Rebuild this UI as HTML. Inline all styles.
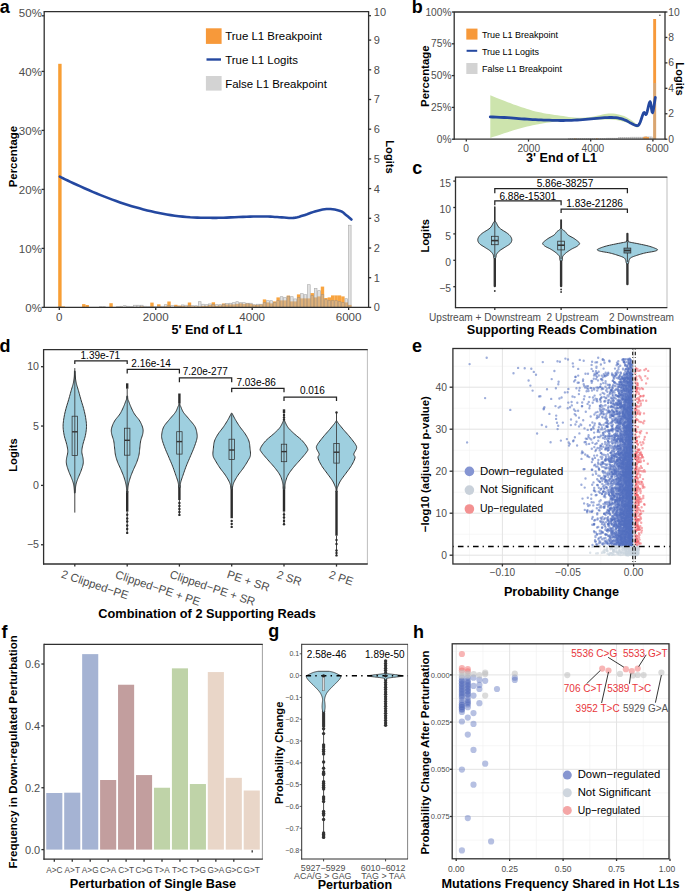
<!DOCTYPE html>
<html><head><meta charset="utf-8"><style>
html,body{margin:0;padding:0;background:#fff;}
svg{display:block;font-family:"Liberation Sans", sans-serif;}
</style></head><body>
<svg width="685" height="891" viewBox="0 0 685 891">
<rect width="685" height="891" fill="#fff"/>
<rect x="58.2" y="63.8" width="3.41" height="243.6" fill="#f7941e" fill-opacity="0.9"/>
<rect x="61.61" y="306.4" width="3.41" height="1" fill="#f7941e" fill-opacity="0.85"/>
<rect x="82.07" y="304.1" width="3.41" height="3.3" fill="#f7941e" fill-opacity="0.85"/>
<rect x="85.48" y="305" width="3.41" height="2.4" fill="#f7941e" fill-opacity="0.85"/>
<rect x="109.35" y="303.2" width="3.41" height="4.2" fill="#f7941e" fill-opacity="0.85"/>
<rect x="119.58" y="306.9" width="3.41" height="0.5" fill="#f7941e" fill-opacity="0.85"/>
<rect x="140.04" y="306.4" width="3.41" height="1" fill="#f7941e" fill-opacity="0.85"/>
<rect x="150.27" y="302.6" width="3.41" height="4.8" fill="#f7941e" fill-opacity="0.85"/>
<rect x="157.09" y="304.3" width="3.41" height="3.1" fill="#f7941e" fill-opacity="0.85"/>
<rect x="163.91" y="306.4" width="3.41" height="1" fill="#f7941e" fill-opacity="0.85"/>
<rect x="167.32" y="301.5" width="3.41" height="5.9" fill="#f7941e" fill-opacity="0.85"/>
<rect x="174.14" y="304.8" width="3.41" height="2.6" fill="#f7941e" fill-opacity="0.85"/>
<rect x="177.55" y="305.6" width="3.41" height="1.8" fill="#f7941e" fill-opacity="0.85"/>
<rect x="180.96" y="305.9" width="3.41" height="1.5" fill="#f7941e" fill-opacity="0.85"/>
<rect x="184.37" y="306.4" width="3.41" height="1" fill="#f7941e" fill-opacity="0.85"/>
<rect x="187.78" y="302.5" width="3.41" height="4.9" fill="#f7941e" fill-opacity="0.85"/>
<rect x="191.19" y="306.4" width="3.41" height="1" fill="#f7941e" fill-opacity="0.85"/>
<rect x="194.6" y="306.4" width="3.41" height="1" fill="#f7941e" fill-opacity="0.85"/>
<rect x="198.01" y="306.4" width="3.41" height="1" fill="#f7941e" fill-opacity="0.85"/>
<rect x="201.42" y="305.9" width="3.41" height="1.5" fill="#f7941e" fill-opacity="0.85"/>
<rect x="204.83" y="305.9" width="3.41" height="1.5" fill="#f7941e" fill-opacity="0.85"/>
<rect x="208.24" y="304.9" width="3.41" height="2.5" fill="#f7941e" fill-opacity="0.85"/>
<rect x="211.65" y="302.3" width="3.41" height="5.1" fill="#f7941e" fill-opacity="0.85"/>
<rect x="215.06" y="305.9" width="3.41" height="1.5" fill="#f7941e" fill-opacity="0.85"/>
<rect x="218.47" y="305.4" width="3.41" height="2" fill="#f7941e" fill-opacity="0.85"/>
<rect x="221.88" y="303.5" width="3.41" height="3.9" fill="#f7941e" fill-opacity="0.85"/>
<rect x="225.29" y="304.4" width="3.41" height="3" fill="#f7941e" fill-opacity="0.85"/>
<rect x="228.7" y="304.4" width="3.41" height="3" fill="#f7941e" fill-opacity="0.85"/>
<rect x="232.11" y="304.4" width="3.41" height="3" fill="#f7941e" fill-opacity="0.85"/>
<rect x="235.52" y="303.9" width="3.41" height="3.5" fill="#f7941e" fill-opacity="0.85"/>
<rect x="238.93" y="303.4" width="3.41" height="4" fill="#f7941e" fill-opacity="0.85"/>
<rect x="242.34" y="303.9" width="3.41" height="3.5" fill="#f7941e" fill-opacity="0.85"/>
<rect x="245.75" y="303.4" width="3.41" height="4" fill="#f7941e" fill-opacity="0.85"/>
<rect x="249.16" y="303.9" width="3.41" height="3.5" fill="#f7941e" fill-opacity="0.85"/>
<rect x="252.57" y="304.9" width="3.41" height="2.5" fill="#f7941e" fill-opacity="0.85"/>
<rect x="255.98" y="304.9" width="3.41" height="2.5" fill="#f7941e" fill-opacity="0.85"/>
<rect x="259.39" y="304.4" width="3.41" height="3" fill="#f7941e" fill-opacity="0.85"/>
<rect x="262.8" y="299.4" width="3.41" height="8" fill="#f7941e" fill-opacity="0.85"/>
<rect x="266.21" y="302.4" width="3.41" height="5" fill="#f7941e" fill-opacity="0.85"/>
<rect x="269.62" y="303.4" width="3.41" height="4" fill="#f7941e" fill-opacity="0.85"/>
<rect x="273.03" y="301.4" width="3.41" height="6" fill="#f7941e" fill-opacity="0.85"/>
<rect x="276.44" y="297.4" width="3.41" height="10" fill="#f7941e" fill-opacity="0.85"/>
<rect x="279.85" y="300.4" width="3.41" height="7" fill="#f7941e" fill-opacity="0.85"/>
<rect x="283.26" y="300.4" width="3.41" height="7" fill="#f7941e" fill-opacity="0.85"/>
<rect x="286.67" y="295.6" width="3.41" height="11.8" fill="#f7941e" fill-opacity="0.85"/>
<rect x="290.08" y="301.4" width="3.41" height="6" fill="#f7941e" fill-opacity="0.85"/>
<rect x="293.49" y="301.4" width="3.41" height="6" fill="#f7941e" fill-opacity="0.85"/>
<rect x="296.9" y="294.4" width="3.41" height="13" fill="#f7941e" fill-opacity="0.85"/>
<rect x="300.31" y="298.4" width="3.41" height="9" fill="#f7941e" fill-opacity="0.85"/>
<rect x="303.72" y="298.4" width="3.41" height="9" fill="#f7941e" fill-opacity="0.85"/>
<rect x="307.13" y="298.4" width="3.41" height="9" fill="#f7941e" fill-opacity="0.85"/>
<rect x="310.54" y="293.1" width="3.41" height="14.3" fill="#f7941e" fill-opacity="0.85"/>
<rect x="313.95" y="297.4" width="3.41" height="10" fill="#f7941e" fill-opacity="0.85"/>
<rect x="317.36" y="296.4" width="3.41" height="11" fill="#f7941e" fill-opacity="0.85"/>
<rect x="320.77" y="286.6" width="3.41" height="20.8" fill="#f7941e" fill-opacity="0.85"/>
<rect x="324.18" y="298" width="3.41" height="9.4" fill="#f7941e" fill-opacity="0.85"/>
<rect x="327.59" y="297.4" width="3.41" height="10" fill="#f7941e" fill-opacity="0.85"/>
<rect x="331" y="295.4" width="3.41" height="12" fill="#f7941e" fill-opacity="0.85"/>
<rect x="334.41" y="295.4" width="3.41" height="12" fill="#f7941e" fill-opacity="0.85"/>
<rect x="337.82" y="295.4" width="3.41" height="12" fill="#f7941e" fill-opacity="0.85"/>
<rect x="341.23" y="296.4" width="3.41" height="11" fill="#f7941e" fill-opacity="0.85"/>
<rect x="344.64" y="302.4" width="3.41" height="5" fill="#f7941e" fill-opacity="0.85"/>
<rect x="348.05" y="304.9" width="3.41" height="2.5" fill="#f7941e" fill-opacity="0.85"/>
<rect x="58.55" y="306.7" width="2.71" height="0.7" fill="#bebebe" fill-opacity="0.45" stroke="#8c8c8c" stroke-opacity="0.7" stroke-width="0.6"/>
<rect x="99.47" y="306.7" width="2.71" height="0.7" fill="#bebebe" fill-opacity="0.45" stroke="#8c8c8c" stroke-opacity="0.7" stroke-width="0.6"/>
<rect x="102.88" y="306.7" width="2.71" height="0.7" fill="#bebebe" fill-opacity="0.45" stroke="#8c8c8c" stroke-opacity="0.7" stroke-width="0.6"/>
<rect x="116.52" y="306.7" width="2.71" height="0.7" fill="#bebebe" fill-opacity="0.45" stroke="#8c8c8c" stroke-opacity="0.7" stroke-width="0.6"/>
<rect x="119.93" y="306.2" width="2.71" height="1.2" fill="#bebebe" fill-opacity="0.45" stroke="#8c8c8c" stroke-opacity="0.7" stroke-width="0.6"/>
<rect x="123.34" y="305.7" width="2.71" height="1.7" fill="#bebebe" fill-opacity="0.45" stroke="#8c8c8c" stroke-opacity="0.7" stroke-width="0.6"/>
<rect x="126.75" y="306.2" width="2.71" height="1.2" fill="#bebebe" fill-opacity="0.45" stroke="#8c8c8c" stroke-opacity="0.7" stroke-width="0.6"/>
<rect x="130.16" y="306.7" width="2.71" height="0.7" fill="#bebebe" fill-opacity="0.45" stroke="#8c8c8c" stroke-opacity="0.7" stroke-width="0.6"/>
<rect x="133.57" y="305.2" width="2.71" height="2.2" fill="#bebebe" fill-opacity="0.45" stroke="#8c8c8c" stroke-opacity="0.7" stroke-width="0.6"/>
<rect x="136.98" y="305.2" width="2.71" height="2.2" fill="#bebebe" fill-opacity="0.45" stroke="#8c8c8c" stroke-opacity="0.7" stroke-width="0.6"/>
<rect x="140.39" y="305.2" width="2.71" height="2.2" fill="#bebebe" fill-opacity="0.45" stroke="#8c8c8c" stroke-opacity="0.7" stroke-width="0.6"/>
<rect x="143.8" y="306.2" width="2.71" height="1.2" fill="#bebebe" fill-opacity="0.45" stroke="#8c8c8c" stroke-opacity="0.7" stroke-width="0.6"/>
<rect x="147.21" y="306.7" width="2.71" height="0.7" fill="#bebebe" fill-opacity="0.45" stroke="#8c8c8c" stroke-opacity="0.7" stroke-width="0.6"/>
<rect x="150.62" y="306.7" width="2.71" height="0.7" fill="#bebebe" fill-opacity="0.45" stroke="#8c8c8c" stroke-opacity="0.7" stroke-width="0.6"/>
<rect x="154.03" y="306.7" width="2.71" height="0.7" fill="#bebebe" fill-opacity="0.45" stroke="#8c8c8c" stroke-opacity="0.7" stroke-width="0.6"/>
<rect x="157.44" y="306.2" width="2.71" height="1.2" fill="#bebebe" fill-opacity="0.45" stroke="#8c8c8c" stroke-opacity="0.7" stroke-width="0.6"/>
<rect x="160.85" y="306.2" width="2.71" height="1.2" fill="#bebebe" fill-opacity="0.45" stroke="#8c8c8c" stroke-opacity="0.7" stroke-width="0.6"/>
<rect x="164.26" y="304.7" width="2.71" height="2.7" fill="#bebebe" fill-opacity="0.45" stroke="#8c8c8c" stroke-opacity="0.7" stroke-width="0.6"/>
<rect x="167.67" y="305.7" width="2.71" height="1.7" fill="#bebebe" fill-opacity="0.45" stroke="#8c8c8c" stroke-opacity="0.7" stroke-width="0.6"/>
<rect x="171.08" y="305.7" width="2.71" height="1.7" fill="#bebebe" fill-opacity="0.45" stroke="#8c8c8c" stroke-opacity="0.7" stroke-width="0.6"/>
<rect x="174.49" y="306.2" width="2.71" height="1.2" fill="#bebebe" fill-opacity="0.45" stroke="#8c8c8c" stroke-opacity="0.7" stroke-width="0.6"/>
<rect x="177.9" y="306.2" width="2.71" height="1.2" fill="#bebebe" fill-opacity="0.45" stroke="#8c8c8c" stroke-opacity="0.7" stroke-width="0.6"/>
<rect x="181.31" y="304.9" width="2.71" height="2.5" fill="#bebebe" fill-opacity="0.45" stroke="#8c8c8c" stroke-opacity="0.7" stroke-width="0.6"/>
<rect x="184.72" y="305.2" width="2.71" height="2.2" fill="#bebebe" fill-opacity="0.45" stroke="#8c8c8c" stroke-opacity="0.7" stroke-width="0.6"/>
<rect x="188.13" y="305.7" width="2.71" height="1.7" fill="#bebebe" fill-opacity="0.45" stroke="#8c8c8c" stroke-opacity="0.7" stroke-width="0.6"/>
<rect x="191.54" y="305.7" width="2.71" height="1.7" fill="#bebebe" fill-opacity="0.45" stroke="#8c8c8c" stroke-opacity="0.7" stroke-width="0.6"/>
<rect x="194.95" y="305.7" width="2.71" height="1.7" fill="#bebebe" fill-opacity="0.45" stroke="#8c8c8c" stroke-opacity="0.7" stroke-width="0.6"/>
<rect x="198.36" y="301.7" width="2.71" height="5.7" fill="#bebebe" fill-opacity="0.45" stroke="#8c8c8c" stroke-opacity="0.7" stroke-width="0.6"/>
<rect x="201.77" y="304.2" width="2.71" height="3.2" fill="#bebebe" fill-opacity="0.45" stroke="#8c8c8c" stroke-opacity="0.7" stroke-width="0.6"/>
<rect x="205.18" y="304.7" width="2.71" height="2.7" fill="#bebebe" fill-opacity="0.45" stroke="#8c8c8c" stroke-opacity="0.7" stroke-width="0.6"/>
<rect x="208.59" y="303.9" width="2.71" height="3.5" fill="#bebebe" fill-opacity="0.45" stroke="#8c8c8c" stroke-opacity="0.7" stroke-width="0.6"/>
<rect x="212" y="304.7" width="2.71" height="2.7" fill="#bebebe" fill-opacity="0.45" stroke="#8c8c8c" stroke-opacity="0.7" stroke-width="0.6"/>
<rect x="215.41" y="304.7" width="2.71" height="2.7" fill="#bebebe" fill-opacity="0.45" stroke="#8c8c8c" stroke-opacity="0.7" stroke-width="0.6"/>
<rect x="218.82" y="304.7" width="2.71" height="2.7" fill="#bebebe" fill-opacity="0.45" stroke="#8c8c8c" stroke-opacity="0.7" stroke-width="0.6"/>
<rect x="222.23" y="304.2" width="2.71" height="3.2" fill="#bebebe" fill-opacity="0.45" stroke="#8c8c8c" stroke-opacity="0.7" stroke-width="0.6"/>
<rect x="225.64" y="303.5" width="2.71" height="3.9" fill="#bebebe" fill-opacity="0.45" stroke="#8c8c8c" stroke-opacity="0.7" stroke-width="0.6"/>
<rect x="229.05" y="303.2" width="2.71" height="4.2" fill="#bebebe" fill-opacity="0.45" stroke="#8c8c8c" stroke-opacity="0.7" stroke-width="0.6"/>
<rect x="232.46" y="302.7" width="2.71" height="4.7" fill="#bebebe" fill-opacity="0.45" stroke="#8c8c8c" stroke-opacity="0.7" stroke-width="0.6"/>
<rect x="235.87" y="301.7" width="2.71" height="5.7" fill="#bebebe" fill-opacity="0.45" stroke="#8c8c8c" stroke-opacity="0.7" stroke-width="0.6"/>
<rect x="239.28" y="302.7" width="2.71" height="4.7" fill="#bebebe" fill-opacity="0.45" stroke="#8c8c8c" stroke-opacity="0.7" stroke-width="0.6"/>
<rect x="242.69" y="302.7" width="2.71" height="4.7" fill="#bebebe" fill-opacity="0.45" stroke="#8c8c8c" stroke-opacity="0.7" stroke-width="0.6"/>
<rect x="246.1" y="303.2" width="2.71" height="4.2" fill="#bebebe" fill-opacity="0.45" stroke="#8c8c8c" stroke-opacity="0.7" stroke-width="0.6"/>
<rect x="249.51" y="303.2" width="2.71" height="4.2" fill="#bebebe" fill-opacity="0.45" stroke="#8c8c8c" stroke-opacity="0.7" stroke-width="0.6"/>
<rect x="252.92" y="304.7" width="2.71" height="2.7" fill="#bebebe" fill-opacity="0.45" stroke="#8c8c8c" stroke-opacity="0.7" stroke-width="0.6"/>
<rect x="256.33" y="304.2" width="2.71" height="3.2" fill="#bebebe" fill-opacity="0.45" stroke="#8c8c8c" stroke-opacity="0.7" stroke-width="0.6"/>
<rect x="259.74" y="304.2" width="2.71" height="3.2" fill="#bebebe" fill-opacity="0.45" stroke="#8c8c8c" stroke-opacity="0.7" stroke-width="0.6"/>
<rect x="263.15" y="302.7" width="2.71" height="4.7" fill="#bebebe" fill-opacity="0.45" stroke="#8c8c8c" stroke-opacity="0.7" stroke-width="0.6"/>
<rect x="266.56" y="300.7" width="2.71" height="6.7" fill="#bebebe" fill-opacity="0.45" stroke="#8c8c8c" stroke-opacity="0.7" stroke-width="0.6"/>
<rect x="269.97" y="300.7" width="2.71" height="6.7" fill="#bebebe" fill-opacity="0.45" stroke="#8c8c8c" stroke-opacity="0.7" stroke-width="0.6"/>
<rect x="273.38" y="302.7" width="2.71" height="4.7" fill="#bebebe" fill-opacity="0.45" stroke="#8c8c8c" stroke-opacity="0.7" stroke-width="0.6"/>
<rect x="276.79" y="300.7" width="2.71" height="6.7" fill="#bebebe" fill-opacity="0.45" stroke="#8c8c8c" stroke-opacity="0.7" stroke-width="0.6"/>
<rect x="280.2" y="296.7" width="2.71" height="10.7" fill="#bebebe" fill-opacity="0.45" stroke="#8c8c8c" stroke-opacity="0.7" stroke-width="0.6"/>
<rect x="283.61" y="297.7" width="2.71" height="9.7" fill="#bebebe" fill-opacity="0.45" stroke="#8c8c8c" stroke-opacity="0.7" stroke-width="0.6"/>
<rect x="287.02" y="296.2" width="2.71" height="11.2" fill="#bebebe" fill-opacity="0.45" stroke="#8c8c8c" stroke-opacity="0.7" stroke-width="0.6"/>
<rect x="290.43" y="296.7" width="2.71" height="10.7" fill="#bebebe" fill-opacity="0.45" stroke="#8c8c8c" stroke-opacity="0.7" stroke-width="0.6"/>
<rect x="293.84" y="298.9" width="2.71" height="8.5" fill="#bebebe" fill-opacity="0.45" stroke="#8c8c8c" stroke-opacity="0.7" stroke-width="0.6"/>
<rect x="297.25" y="297.7" width="2.71" height="9.7" fill="#bebebe" fill-opacity="0.45" stroke="#8c8c8c" stroke-opacity="0.7" stroke-width="0.6"/>
<rect x="300.66" y="293.7" width="2.71" height="13.7" fill="#bebebe" fill-opacity="0.45" stroke="#8c8c8c" stroke-opacity="0.7" stroke-width="0.6"/>
<rect x="304.07" y="294.7" width="2.71" height="12.7" fill="#bebebe" fill-opacity="0.45" stroke="#8c8c8c" stroke-opacity="0.7" stroke-width="0.6"/>
<rect x="307.48" y="284.7" width="2.71" height="22.7" fill="#bebebe" fill-opacity="0.45" stroke="#8c8c8c" stroke-opacity="0.7" stroke-width="0.6"/>
<rect x="310.89" y="295.7" width="2.71" height="11.7" fill="#bebebe" fill-opacity="0.45" stroke="#8c8c8c" stroke-opacity="0.7" stroke-width="0.6"/>
<rect x="314.3" y="288.4" width="2.71" height="19" fill="#bebebe" fill-opacity="0.45" stroke="#8c8c8c" stroke-opacity="0.7" stroke-width="0.6"/>
<rect x="317.71" y="290.7" width="2.71" height="16.7" fill="#bebebe" fill-opacity="0.45" stroke="#8c8c8c" stroke-opacity="0.7" stroke-width="0.6"/>
<rect x="321.12" y="294.7" width="2.71" height="12.7" fill="#bebebe" fill-opacity="0.45" stroke="#8c8c8c" stroke-opacity="0.7" stroke-width="0.6"/>
<rect x="324.53" y="299.7" width="2.71" height="7.7" fill="#bebebe" fill-opacity="0.45" stroke="#8c8c8c" stroke-opacity="0.7" stroke-width="0.6"/>
<rect x="327.94" y="300.7" width="2.71" height="6.7" fill="#bebebe" fill-opacity="0.45" stroke="#8c8c8c" stroke-opacity="0.7" stroke-width="0.6"/>
<rect x="331.35" y="300.7" width="2.71" height="6.7" fill="#bebebe" fill-opacity="0.45" stroke="#8c8c8c" stroke-opacity="0.7" stroke-width="0.6"/>
<rect x="334.76" y="300.7" width="2.71" height="6.7" fill="#bebebe" fill-opacity="0.45" stroke="#8c8c8c" stroke-opacity="0.7" stroke-width="0.6"/>
<rect x="338.17" y="301.7" width="2.71" height="5.7" fill="#bebebe" fill-opacity="0.45" stroke="#8c8c8c" stroke-opacity="0.7" stroke-width="0.6"/>
<rect x="341.58" y="302.7" width="2.71" height="4.7" fill="#bebebe" fill-opacity="0.45" stroke="#8c8c8c" stroke-opacity="0.7" stroke-width="0.6"/>
<rect x="344.99" y="298.7" width="2.71" height="8.7" fill="#bebebe" fill-opacity="0.45" stroke="#8c8c8c" stroke-opacity="0.7" stroke-width="0.6"/>
<rect x="348.4" y="225.2" width="2.71" height="82.2" fill="#bebebe" fill-opacity="0.45" stroke="#8c8c8c" stroke-opacity="0.7" stroke-width="0.6"/>
<polyline points="59.8,176.7 61.17,177.36 62.97,178.24 65.14,179.31 67.64,180.51 70.41,181.82 73.4,183.2 76.72,184.71 80.44,186.4 84.44,188.2 88.57,190.03 92.7,191.82 96.7,193.5 100.6,195.09 104.5,196.64 108.4,198.16 112.3,199.63 116.2,201.04 120.1,202.4 123.99,203.7 127.87,204.94 131.75,206.14 135.63,207.28 139.51,208.37 143.4,209.4 147.29,210.39 151.19,211.33 155.09,212.21 159,213.04 162.9,213.81 166.8,214.5 170.74,215.13 174.73,215.69 178.72,216.19 182.67,216.62 186.51,216.99 190.2,217.3 193.78,217.52 197.3,217.66 200.72,217.73 204.01,217.76 207.11,217.78 210,217.8 212.49,217.83 214.57,217.84 216.48,217.84 218.44,217.82 220.67,217.78 223.4,217.7 226.76,217.58 230.6,217.4 234.72,217.21 238.91,217.01 242.97,216.83 246.7,216.7 250.14,216.61 253.45,216.54 256.63,216.49 259.69,216.47 262.61,216.47 265.4,216.5 268.01,216.56 270.41,216.67 272.69,216.79 274.91,216.93 277.12,217.07 279.4,217.2 281.76,217.36 284.15,217.57 286.54,217.78 288.9,217.94 291.2,218 293.4,217.9 295.48,217.63 297.47,217.21 299.39,216.69 301.29,216.11 303.18,215.5 305.1,214.9 307.05,214.27 309,213.56 310.95,212.83 312.9,212.11 314.85,211.46 316.8,210.9 318.75,210.42 320.7,209.97 322.65,209.58 324.6,209.27 326.55,209.07 328.5,209 330.52,209.07 332.62,209.27 334.72,209.58 336.74,209.97 338.59,210.42 340.2,210.9 341.51,211.44 342.59,212.06 343.49,212.73 344.31,213.44 345.12,214.17 346,214.9 346.99,215.69 348.03,216.56 349.06,217.45 350.01,218.29 350.82,218.99 351.4,219.5" fill="none" stroke="#2448a0" stroke-width="2.6" stroke-linejoin="round" stroke-linecap="round" />
<line x1="44.2" y1="11.6" x2="44.2" y2="307.95" stroke="#2f2f2f" stroke-width="1.3" />
<line x1="43.65" y1="307.4" x2="369.15" y2="307.4" stroke="#2f2f2f" stroke-width="1.3" />
<line x1="368.6" y1="11.6" x2="368.6" y2="307.4" stroke="#2f2f2f" stroke-width="1.3" />
<line x1="43.65" y1="11.6" x2="369.15" y2="11.6" stroke="#2f2f2f" stroke-width="1.3" />
<line x1="41.6" y1="307.4" x2="44.2" y2="307.4" stroke="#2f2f2f" stroke-width="1.3" />
<text x="41.9" y="311.5" font-size="11.5" fill="#4d4d4d" text-anchor="end" font-weight="normal" >0%</text>
<line x1="41.6" y1="248.4" x2="44.2" y2="248.4" stroke="#2f2f2f" stroke-width="1.3" />
<text x="41.9" y="252.5" font-size="11.5" fill="#4d4d4d" text-anchor="end" font-weight="normal" >10%</text>
<line x1="41.6" y1="189.4" x2="44.2" y2="189.4" stroke="#2f2f2f" stroke-width="1.3" />
<text x="41.9" y="193.5" font-size="11.5" fill="#4d4d4d" text-anchor="end" font-weight="normal" >20%</text>
<line x1="41.6" y1="130.4" x2="44.2" y2="130.4" stroke="#2f2f2f" stroke-width="1.3" />
<text x="41.9" y="134.5" font-size="11.5" fill="#4d4d4d" text-anchor="end" font-weight="normal" >30%</text>
<line x1="41.6" y1="71.4" x2="44.2" y2="71.4" stroke="#2f2f2f" stroke-width="1.3" />
<text x="41.9" y="75.5" font-size="11.5" fill="#4d4d4d" text-anchor="end" font-weight="normal" >40%</text>
<line x1="41.8" y1="15.8" x2="44.2" y2="15.8" stroke="#2f2f2f" stroke-width="1.3" />
<text x="41.9" y="16.7" font-size="11.5" fill="#4d4d4d" text-anchor="end" font-weight="normal" >50%</text>
<line x1="368.6" y1="307.4" x2="371.2" y2="307.4" stroke="#2f2f2f" stroke-width="1.3" />
<text x="373.8" y="311.3" font-size="11" fill="#4d4d4d" text-anchor="start" font-weight="normal" >0</text>
<line x1="368.6" y1="277.7" x2="371.2" y2="277.7" stroke="#2f2f2f" stroke-width="1.3" />
<text x="373.8" y="281.6" font-size="11" fill="#4d4d4d" text-anchor="start" font-weight="normal" >1</text>
<line x1="368.6" y1="248" x2="371.2" y2="248" stroke="#2f2f2f" stroke-width="1.3" />
<text x="373.8" y="251.9" font-size="11" fill="#4d4d4d" text-anchor="start" font-weight="normal" >2</text>
<line x1="368.6" y1="218.3" x2="371.2" y2="218.3" stroke="#2f2f2f" stroke-width="1.3" />
<text x="373.8" y="222.2" font-size="11" fill="#4d4d4d" text-anchor="start" font-weight="normal" >3</text>
<line x1="368.6" y1="188.6" x2="371.2" y2="188.6" stroke="#2f2f2f" stroke-width="1.3" />
<text x="373.8" y="192.5" font-size="11" fill="#4d4d4d" text-anchor="start" font-weight="normal" >4</text>
<line x1="368.6" y1="158.9" x2="371.2" y2="158.9" stroke="#2f2f2f" stroke-width="1.3" />
<text x="373.8" y="162.8" font-size="11" fill="#4d4d4d" text-anchor="start" font-weight="normal" >5</text>
<line x1="368.6" y1="129.2" x2="371.2" y2="129.2" stroke="#2f2f2f" stroke-width="1.3" />
<text x="373.8" y="133.1" font-size="11" fill="#4d4d4d" text-anchor="start" font-weight="normal" >6</text>
<line x1="368.6" y1="99.5" x2="371.2" y2="99.5" stroke="#2f2f2f" stroke-width="1.3" />
<text x="373.8" y="103.4" font-size="11" fill="#4d4d4d" text-anchor="start" font-weight="normal" >7</text>
<line x1="368.6" y1="69.8" x2="371.2" y2="69.8" stroke="#2f2f2f" stroke-width="1.3" />
<text x="373.8" y="73.7" font-size="11" fill="#4d4d4d" text-anchor="start" font-weight="normal" >8</text>
<line x1="368.6" y1="40.1" x2="371.2" y2="40.1" stroke="#2f2f2f" stroke-width="1.3" />
<text x="373.8" y="44" font-size="11" fill="#4d4d4d" text-anchor="start" font-weight="normal" >9</text>
<line x1="368.6" y1="15.7" x2="371" y2="15.7" stroke="#2f2f2f" stroke-width="1.3" />
<text x="373.8" y="15.7" font-size="11" fill="#4d4d4d" text-anchor="start" font-weight="normal" >10</text>
<line x1="59.3" y1="307.4" x2="59.3" y2="310" stroke="#2f2f2f" stroke-width="1.3" />
<text x="59.3" y="321.3" font-size="11.6" fill="#4d4d4d" text-anchor="middle" font-weight="normal" >0</text>
<line x1="155.74" y1="307.4" x2="155.74" y2="310" stroke="#2f2f2f" stroke-width="1.3" />
<text x="155.74" y="321.3" font-size="11.6" fill="#4d4d4d" text-anchor="middle" font-weight="normal" >2000</text>
<line x1="252.18" y1="307.4" x2="252.18" y2="310" stroke="#2f2f2f" stroke-width="1.3" />
<text x="252.18" y="321.3" font-size="11.6" fill="#4d4d4d" text-anchor="middle" font-weight="normal" >4000</text>
<line x1="348.62" y1="307.4" x2="348.62" y2="310" stroke="#2f2f2f" stroke-width="1.3" />
<text x="348.62" y="321.3" font-size="11.6" fill="#4d4d4d" text-anchor="middle" font-weight="normal" >6000</text>
<text x="206.9" y="334.4" font-size="12.6" fill="#000" text-anchor="middle" font-weight="bold" >5' End of L1</text>
<text transform="translate(17.4,156.6) rotate(-90)" font-size="11.4" fill="#000" text-anchor="middle" font-weight="bold">Percentage</text>
<text transform="translate(385.8,157) rotate(90)" font-size="11.2" fill="#000" text-anchor="middle" font-weight="bold">Logits</text>
<rect x="205.9" y="28.3" width="15.7" height="15.6" fill="#f7993a" />
<text x="225.2" y="40.4" font-size="11.45" fill="#000" text-anchor="start" font-weight="normal" >True L1 Breakpoint</text>
<line x1="206.5" y1="59.5" x2="221" y2="59.5" stroke="#2448a0" stroke-width="2.4" />
<text x="225.2" y="63.8" font-size="11.45" fill="#000" text-anchor="start" font-weight="normal" >True L1 Logits</text>
<rect x="205.9" y="76" width="15.7" height="14.6" fill="#d3d3d3" />
<text x="225.2" y="88.2" font-size="11.45" fill="#000" text-anchor="start" font-weight="normal" >False L1 Breakpoint</text>
<text x="-0.3" y="12.7" font-size="18" fill="#000" text-anchor="start" font-weight="bold" >a</text>
<rect x="568.8" y="138.7" width="2" height="0.5" fill="#d6d6d6" stroke="#a8a8a8" stroke-width="0.35"/>
<rect x="570.79" y="138.7" width="2" height="0.5" fill="#d6d6d6" stroke="#a8a8a8" stroke-width="0.35"/>
<rect x="572.78" y="138.7" width="2" height="0.5" fill="#d6d6d6" stroke="#a8a8a8" stroke-width="0.35"/>
<rect x="574.77" y="138.7" width="2" height="0.5" fill="#d6d6d6" stroke="#a8a8a8" stroke-width="0.35"/>
<rect x="576.76" y="138.7" width="2" height="0.5" fill="#d6d6d6" stroke="#a8a8a8" stroke-width="0.35"/>
<rect x="578.75" y="138.7" width="2" height="0.5" fill="#d6d6d6" stroke="#a8a8a8" stroke-width="0.35"/>
<rect x="580.74" y="138.7" width="2" height="0.5" fill="#d6d6d6" stroke="#a8a8a8" stroke-width="0.35"/>
<rect x="582.73" y="138.7" width="2" height="0.5" fill="#d6d6d6" stroke="#a8a8a8" stroke-width="0.35"/>
<rect x="584.72" y="138.7" width="2" height="0.5" fill="#d6d6d6" stroke="#a8a8a8" stroke-width="0.35"/>
<rect x="586.71" y="138.7" width="2" height="0.5" fill="#d6d6d6" stroke="#a8a8a8" stroke-width="0.35"/>
<rect x="588.7" y="138.7" width="2" height="0.5" fill="#d6d6d6" stroke="#a8a8a8" stroke-width="0.35"/>
<rect x="590.7" y="138.7" width="2" height="0.5" fill="#d6d6d6" stroke="#a8a8a8" stroke-width="0.35"/>
<rect x="592.69" y="138.7" width="2" height="0.5" fill="#d6d6d6" stroke="#a8a8a8" stroke-width="0.35"/>
<rect x="594.68" y="138.7" width="2" height="0.5" fill="#d6d6d6" stroke="#a8a8a8" stroke-width="0.35"/>
<rect x="596.67" y="138.7" width="2" height="0.5" fill="#d6d6d6" stroke="#a8a8a8" stroke-width="0.35"/>
<rect x="598.66" y="138.7" width="2" height="0.5" fill="#d6d6d6" stroke="#a8a8a8" stroke-width="0.35"/>
<rect x="600.65" y="138.7" width="2" height="0.5" fill="#d6d6d6" stroke="#a8a8a8" stroke-width="0.35"/>
<rect x="602.64" y="138.7" width="2" height="0.5" fill="#d6d6d6" stroke="#a8a8a8" stroke-width="0.35"/>
<rect x="604.63" y="138.7" width="2" height="0.5" fill="#d6d6d6" stroke="#a8a8a8" stroke-width="0.35"/>
<rect x="606.62" y="138.1" width="2" height="1.1" fill="#d6d6d6" stroke="#a8a8a8" stroke-width="0.35"/>
<rect x="608.61" y="138.1" width="2" height="1.1" fill="#d6d6d6" stroke="#a8a8a8" stroke-width="0.35"/>
<rect x="610.6" y="138.1" width="2" height="1.1" fill="#d6d6d6" stroke="#a8a8a8" stroke-width="0.35"/>
<rect x="612.59" y="138.1" width="2" height="1.1" fill="#d6d6d6" stroke="#a8a8a8" stroke-width="0.35"/>
<rect x="614.58" y="138.1" width="2" height="1.1" fill="#d6d6d6" stroke="#a8a8a8" stroke-width="0.35"/>
<rect x="616.57" y="138.1" width="2" height="1.1" fill="#d6d6d6" stroke="#a8a8a8" stroke-width="0.35"/>
<rect x="618.56" y="137.5" width="2" height="1.7" fill="#d6d6d6" stroke="#a8a8a8" stroke-width="0.35"/>
<rect x="620.55" y="137.5" width="2" height="1.7" fill="#d6d6d6" stroke="#a8a8a8" stroke-width="0.35"/>
<rect x="622.54" y="137.5" width="2" height="1.7" fill="#d6d6d6" stroke="#a8a8a8" stroke-width="0.35"/>
<rect x="624.53" y="137.5" width="2" height="1.7" fill="#d6d6d6" stroke="#a8a8a8" stroke-width="0.35"/>
<rect x="626.52" y="137.5" width="2" height="1.7" fill="#d6d6d6" stroke="#a8a8a8" stroke-width="0.35"/>
<rect x="628.51" y="137.5" width="2" height="1.7" fill="#d6d6d6" stroke="#a8a8a8" stroke-width="0.35"/>
<rect x="630.5" y="137.1" width="2" height="2.1" fill="#d6d6d6" stroke="#a8a8a8" stroke-width="0.35"/>
<rect x="632.49" y="137.1" width="2" height="2.1" fill="#d6d6d6" stroke="#a8a8a8" stroke-width="0.35"/>
<rect x="634.48" y="137.1" width="2" height="2.1" fill="#d6d6d6" stroke="#a8a8a8" stroke-width="0.35"/>
<rect x="636.47" y="137.1" width="2" height="2.1" fill="#d6d6d6" stroke="#a8a8a8" stroke-width="0.35"/>
<rect x="638.46" y="137.1" width="2" height="2.1" fill="#d6d6d6" stroke="#a8a8a8" stroke-width="0.35"/>
<rect x="640.46" y="137.1" width="2" height="2.1" fill="#d6d6d6" stroke="#a8a8a8" stroke-width="0.35"/>
<rect x="642.45" y="137.1" width="2" height="2.1" fill="#d6d6d6" stroke="#a8a8a8" stroke-width="0.35"/>
<rect x="644.44" y="136.9" width="2" height="2.3" fill="#d6d6d6" stroke="#a8a8a8" stroke-width="0.35"/>
<rect x="646.43" y="136.9" width="2" height="2.3" fill="#d6d6d6" stroke="#a8a8a8" stroke-width="0.35"/>
<rect x="648.42" y="136.9" width="2" height="2.3" fill="#d6d6d6" stroke="#a8a8a8" stroke-width="0.35"/>
<rect x="650.41" y="136.9" width="2" height="2.3" fill="#d6d6d6" stroke="#a8a8a8" stroke-width="0.35"/>
<rect x="574.15" y="138.6" width="2" height="0.6" fill="#f7993a" fill-opacity="0.85"/>
<rect x="595.92" y="138.5" width="2" height="0.7" fill="#f7993a" fill-opacity="0.85"/>
<rect x="643.19" y="136.8" width="2" height="2.4" fill="#f7993a" fill-opacity="0.85"/>
<rect x="645.06" y="136.6" width="2" height="2.6" fill="#f7993a" fill-opacity="0.85"/>
<rect x="646.92" y="137" width="2" height="2.2" fill="#f7993a" fill-opacity="0.85"/>
<path d="M490.3,95.3 L492.72,96.27 L496.18,97.65 L500.16,99.25 L504.17,100.83 L507.7,102.2 L510.7,103.33 L513.51,104.38 L516.21,105.35 L518.88,106.28 L521.6,107.2 L524.38,108.12 L527.16,109.01 L529.95,109.87 L532.73,110.67 L535.5,111.4 L538.26,112.05 L541.02,112.62 L543.78,113.14 L546.54,113.63 L549.3,114.1 L552.07,114.55 L554.85,114.97 L557.64,115.36 L560.42,115.74 L563.2,116.1 L565.98,116.48 L568.76,116.88 L571.54,117.25 L574.32,117.54 L577.1,117.7 L579.88,117.73 L582.66,117.65 L585.45,117.48 L588.23,117.23 L591,116.9 L593.85,116.43 L596.79,115.81 L599.68,115.15 L602.39,114.54 L604.8,114.1 L606.77,113.8 L608.38,113.59 L609.84,113.47 L611.35,113.47 L613.1,113.6 L615.18,113.87 L617.47,114.26 L619.82,114.78 L622.11,115.39 L624.2,116.1 L626.08,116.93 L627.83,117.9 L629.48,118.94 L631.06,120.03 L632.6,121.1 L634.19,122.26 L635.8,123.53 L637.31,124.77 L638.59,125.84 L639.5,126.6 L639.5,126.6 L639.18,126.78 L638.78,127.07 L638.25,127.36 L637.57,127.51 L636.7,127.4 L635.65,126.96 L634.44,126.26 L633.06,125.43 L631.51,124.57 L629.8,123.8 L627.89,123.09 L625.8,122.35 L623.54,121.65 L621.17,121.01 L618.7,120.5 L616.1,120.11 L613.34,119.82 L610.49,119.61 L607.62,119.48 L604.8,119.4 L602.04,119.41 L599.28,119.52 L596.52,119.69 L593.76,119.86 L591,120 L588.23,120.1 L585.45,120.2 L582.66,120.3 L579.88,120.4 L577.1,120.5 L574.32,120.6 L571.54,120.7 L568.76,120.8 L565.98,120.93 L563.2,121.1 L560.42,121.3 L557.64,121.52 L554.85,121.77 L552.07,122.06 L549.3,122.4 L546.54,122.78 L543.78,123.2 L541.02,123.66 L538.26,124.16 L535.5,124.7 L532.73,125.28 L529.95,125.9 L527.16,126.57 L524.38,127.27 L521.6,128 L518.88,128.76 L516.21,129.54 L513.51,130.37 L510.7,131.25 L507.7,132.2 L504.17,133.34 L500.16,134.65 L496.18,135.96 L492.72,137.1 L490.3,137.9Z" fill="#cde4ad"/>
<rect x="653.2" y="19" width="2.9" height="120.2" fill="#f7993a"/>
<rect x="653.2" y="83" width="2.9" height="56.2" fill="#b4b4b4" fill-opacity="0.45"/>
<circle cx="659.9" cy="15.3" r="0.7" fill="#333" />
<polyline points="490.3,116.9 492.72,117 496.18,117.15 500.16,117.32 504.17,117.51 507.7,117.7 510.7,117.9 513.51,118.13 516.21,118.36 518.88,118.59 521.6,118.8 524.38,119 527.16,119.19 529.95,119.38 532.73,119.55 535.5,119.7 538.26,119.83 541.02,119.94 543.78,120.03 546.54,120.12 549.3,120.2 552.07,120.29 554.85,120.37 557.64,120.45 560.42,120.49 563.2,120.5 565.98,120.46 568.76,120.39 571.54,120.29 574.32,120.16 577.1,120 579.88,119.8 582.66,119.57 585.45,119.31 588.23,119.04 591,118.8 593.81,118.56 596.66,118.3 599.48,118.06 602.21,117.85 604.8,117.7 607.24,117.6 609.57,117.52 611.79,117.5 613.9,117.55 615.9,117.7 617.76,117.95 619.48,118.28 621.11,118.69 622.67,119.17 624.2,119.7 625.71,120.34 627.18,121.09 628.58,121.88 629.93,122.64 631.2,123.3 632.41,123.89 633.55,124.47 634.63,124.97 635.61,125.33 636.5,125.5 637.23,125.56 637.81,125.55 638.32,125.34 638.86,124.8 639.5,123.8 640.29,121.98 641.17,119.44 642.07,116.69 642.94,114.27 643.7,112.7 644.32,112.4 644.84,113.03 645.33,113.94 645.83,114.51 646.4,114.1 647.08,112.11 647.83,108.97 648.6,105.57 649.34,102.81 650,101.6 650.57,102.73 651.06,105.6 651.53,109.02 652,111.79 652.5,112.7 653.09,111.1 653.73,107.78 654.37,103.75 654.91,99.99 655.3,97.5" fill="none" stroke="#2448a0" stroke-width="2.8" stroke-linejoin="round" stroke-linecap="round" />
<line x1="454.2" y1="12" x2="454.2" y2="139.75" stroke="#2f2f2f" stroke-width="1.3" />
<line x1="453.65" y1="139.2" x2="665.55" y2="139.2" stroke="#2f2f2f" stroke-width="1.3" />
<line x1="665" y1="12" x2="665" y2="139.2" stroke="#2f2f2f" stroke-width="1.3" />
<line x1="453.65" y1="12" x2="665.55" y2="12" stroke="#2f2f2f" stroke-width="1.3" />
<line x1="451.8" y1="139.2" x2="454.2" y2="139.2" stroke="#2f2f2f" stroke-width="1.3" />
<text x="451.5" y="142.8" font-size="10.2" fill="#4d4d4d" text-anchor="end" font-weight="normal" >0%</text>
<line x1="451.8" y1="107.4" x2="454.2" y2="107.4" stroke="#2f2f2f" stroke-width="1.3" />
<text x="451.5" y="111" font-size="10.2" fill="#4d4d4d" text-anchor="end" font-weight="normal" >25%</text>
<line x1="451.8" y1="75.6" x2="454.2" y2="75.6" stroke="#2f2f2f" stroke-width="1.3" />
<text x="451.5" y="79.2" font-size="10.2" fill="#4d4d4d" text-anchor="end" font-weight="normal" >50%</text>
<line x1="451.8" y1="43.8" x2="454.2" y2="43.8" stroke="#2f2f2f" stroke-width="1.3" />
<text x="451.5" y="47.4" font-size="10.2" fill="#4d4d4d" text-anchor="end" font-weight="normal" >75%</text>
<line x1="451.8" y1="12" x2="454.2" y2="12" stroke="#2f2f2f" stroke-width="1.3" />
<text x="451.5" y="15.6" font-size="10.2" fill="#4d4d4d" text-anchor="end" font-weight="normal" >100%</text>
<line x1="665" y1="139.2" x2="667.4" y2="139.2" stroke="#2f2f2f" stroke-width="1.3" />
<text x="668.2" y="142.8" font-size="10.3" fill="#4d4d4d" text-anchor="start" font-weight="normal" >0</text>
<line x1="665" y1="113.76" x2="667.4" y2="113.76" stroke="#2f2f2f" stroke-width="1.3" />
<text x="668.2" y="117.36" font-size="10.3" fill="#4d4d4d" text-anchor="start" font-weight="normal" >2</text>
<line x1="665" y1="88.32" x2="667.4" y2="88.32" stroke="#2f2f2f" stroke-width="1.3" />
<text x="668.2" y="91.92" font-size="10.3" fill="#4d4d4d" text-anchor="start" font-weight="normal" >4</text>
<line x1="665" y1="62.88" x2="667.4" y2="62.88" stroke="#2f2f2f" stroke-width="1.3" />
<text x="668.2" y="66.48" font-size="10.3" fill="#4d4d4d" text-anchor="start" font-weight="normal" >6</text>
<line x1="665" y1="37.44" x2="667.4" y2="37.44" stroke="#2f2f2f" stroke-width="1.3" />
<text x="668.2" y="41.04" font-size="10.3" fill="#4d4d4d" text-anchor="start" font-weight="normal" >8</text>
<line x1="665" y1="12" x2="667.4" y2="12" stroke="#2f2f2f" stroke-width="1.3" />
<text x="668.2" y="15.6" font-size="10.3" fill="#4d4d4d" text-anchor="start" font-weight="normal" >10</text>
<line x1="466.3" y1="139.2" x2="466.3" y2="141.6" stroke="#2f2f2f" stroke-width="1.3" />
<text x="466" y="151.7" font-size="10.2" fill="#4d4d4d" text-anchor="middle" font-weight="normal" >0</text>
<line x1="528.5" y1="139.2" x2="528.5" y2="141.6" stroke="#2f2f2f" stroke-width="1.3" />
<text x="528.8" y="151.7" font-size="10.2" fill="#4d4d4d" text-anchor="middle" font-weight="normal" >2000</text>
<line x1="590.7" y1="139.2" x2="590.7" y2="141.6" stroke="#2f2f2f" stroke-width="1.3" />
<text x="592.9" y="151.7" font-size="10.2" fill="#4d4d4d" text-anchor="middle" font-weight="normal" >4000</text>
<line x1="652.9" y1="139.2" x2="652.9" y2="141.6" stroke="#2f2f2f" stroke-width="1.3" />
<text x="657.4" y="151.7" font-size="10.2" fill="#4d4d4d" text-anchor="middle" font-weight="normal" >6000</text>
<text x="561.5" y="162" font-size="12.6" fill="#000" text-anchor="middle" font-weight="bold" >3' End of L1</text>
<text transform="translate(429.3,76.2) rotate(-90)" font-size="11.4" fill="#000" text-anchor="middle" font-weight="bold">Percentage</text>
<text transform="translate(675.9,79) rotate(90)" font-size="11.1" fill="#000" text-anchor="middle" font-weight="bold">Logits</text>
<rect x="466.3" y="28.6" width="11.2" height="11" fill="#f7993a" />
<text x="481.9" y="38" font-size="9.0" fill="#000" text-anchor="start" font-weight="normal" >True L1 Breakpoint</text>
<line x1="466.6" y1="50.8" x2="477.2" y2="50.8" stroke="#2448a0" stroke-width="2.0" />
<text x="481.9" y="54.6" font-size="9.0" fill="#000" text-anchor="start" font-weight="normal" >True L1 Logits</text>
<rect x="466.3" y="63" width="11.2" height="11" fill="#d3d3d3" />
<text x="481.9" y="72.3" font-size="9.0" fill="#000" text-anchor="start" font-weight="normal" >False L1 Breakpoint</text>
<text x="411.7" y="12.7" font-size="18" fill="#000" text-anchor="start" font-weight="bold" >b</text>
<line x1="494.8" y1="207" x2="494.8" y2="225" stroke="#333" stroke-width="1.6" stroke-linecap="round"/>
<line x1="494.8" y1="250" x2="494.8" y2="286" stroke="#333" stroke-width="2.4" stroke-linecap="round"/>
<circle cx="494.8" cy="291" r="0.9" fill="#333" />
<path d="M495.4,221.5 L495.47,221.6 L495.55,221.69 L495.65,221.82 L495.8,222.03 L496.01,222.34 L496.3,222.8 L496.65,223.44 L497.02,224.24 L497.46,225.15 L498,226.11 L498.67,227.08 L499.5,228 L500.6,228.9 L501.95,229.83 L503.44,230.76 L504.93,231.66 L506.29,232.52 L507.4,233.3 L508.25,233.99 L508.96,234.6 L509.53,235.16 L510.01,235.7 L510.42,236.24 L510.8,236.8 L511.14,237.38 L511.41,237.97 L511.62,238.55 L511.76,239.13 L511.82,239.72 L511.8,240.3 L511.7,240.88 L511.53,241.47 L511.29,242.05 L510.96,242.63 L510.53,243.22 L510,243.8 L509.33,244.38 L508.52,244.97 L507.62,245.55 L506.67,246.13 L505.71,246.72 L504.8,247.3 L503.89,247.88 L502.95,248.47 L502.01,249.05 L501.09,249.63 L500.25,250.22 L499.5,250.8 L498.85,251.39 L498.27,252 L497.76,252.61 L497.31,253.2 L496.92,253.77 L496.6,254.3 L496.37,254.8 L496.23,255.27 L496.16,255.72 L496.11,256.14 L496.07,256.53 L496,256.9 L495.89,257.24 L495.78,257.57 L495.66,257.86 L495.56,258.12 L495.47,258.34 L495.4,258.5 L494.2,258.5 L494.13,258.34 L494.04,258.12 L493.94,257.86 L493.82,257.57 L493.71,257.24 L493.6,256.9 L493.53,256.53 L493.49,256.14 L493.44,255.72 L493.37,255.27 L493.23,254.8 L493,254.3 L492.68,253.77 L492.29,253.2 L491.84,252.61 L491.33,252 L490.75,251.39 L490.1,250.8 L489.35,250.22 L488.51,249.63 L487.59,249.05 L486.65,248.47 L485.71,247.88 L484.8,247.3 L483.89,246.72 L482.93,246.13 L481.98,245.55 L481.08,244.97 L480.27,244.38 L479.6,243.8 L479.07,243.22 L478.64,242.63 L478.31,242.05 L478.07,241.47 L477.9,240.88 L477.8,240.3 L477.78,239.72 L477.84,239.13 L477.98,238.55 L478.19,237.97 L478.46,237.38 L478.8,236.8 L479.18,236.24 L479.59,235.7 L480.07,235.16 L480.64,234.6 L481.35,233.99 L482.2,233.3 L483.31,232.52 L484.67,231.66 L486.16,230.76 L487.65,229.83 L489,228.9 L490.1,228 L490.93,227.08 L491.6,226.11 L492.14,225.15 L492.58,224.24 L492.95,223.44 L493.3,222.8 L493.59,222.34 L493.8,222.03 L493.95,221.82 L494.05,221.69 L494.13,221.6 L494.2,221.5Z" fill="#9ecfdf" stroke="#2b2b2b" stroke-width="0.95" stroke-linejoin="round"/>
<line x1="561.1" y1="220.1" x2="561.1" y2="232" stroke="#333" stroke-width="1.9" stroke-linecap="round"/>
<line x1="561.1" y1="250" x2="561.1" y2="286" stroke="#333" stroke-width="2.4" stroke-linecap="round"/>
<circle cx="561.1" cy="289.5" r="0.9" fill="#333" />
<circle cx="561.1" cy="292" r="0.9" fill="#333" />
<path d="M561.7,228.5 L561.78,228.64 L561.87,228.82 L561.99,229.04 L562.15,229.29 L562.35,229.55 L562.6,229.8 L562.92,230.04 L563.3,230.27 L563.72,230.51 L564.17,230.79 L564.64,231.11 L565.1,231.5 L565.54,231.98 L565.95,232.53 L566.38,233.14 L566.86,233.77 L567.42,234.4 L568.1,235 L568.94,235.58 L569.93,236.17 L571.01,236.75 L572.1,237.33 L573.15,237.92 L574.1,238.5 L574.98,239.1 L575.84,239.73 L576.67,240.36 L577.42,240.96 L578.08,241.52 L578.6,242 L579,242.39 L579.3,242.7 L579.49,242.96 L579.59,243.2 L579.59,243.47 L579.5,243.8 L579.3,244.19 L578.99,244.6 L578.59,245.04 L578.1,245.5 L577.53,245.95 L576.9,246.4 L576.17,246.83 L575.33,247.26 L574.41,247.69 L573.46,248.14 L572.51,248.6 L571.6,249.1 L570.71,249.64 L569.8,250.21 L568.89,250.8 L568,251.4 L567.17,252.01 L566.4,252.6 L565.68,253.18 L565,253.77 L564.36,254.35 L563.79,254.93 L563.3,255.52 L562.9,256.1 L562.63,256.71 L562.49,257.34 L562.42,257.98 L562.39,258.59 L562.37,259.14 L562.3,259.6 L562.19,259.97 L562.08,260.27 L561.96,260.52 L561.86,260.71 L561.77,260.87 L561.7,261 L560.5,261 L560.43,260.87 L560.34,260.71 L560.24,260.52 L560.12,260.27 L560.01,259.97 L559.9,259.6 L559.83,259.14 L559.81,258.59 L559.78,257.98 L559.71,257.34 L559.57,256.71 L559.3,256.1 L558.9,255.52 L558.41,254.93 L557.84,254.35 L557.2,253.77 L556.52,253.18 L555.8,252.6 L555.03,252.01 L554.2,251.4 L553.31,250.8 L552.4,250.21 L551.49,249.64 L550.6,249.1 L549.69,248.6 L548.74,248.14 L547.79,247.69 L546.87,247.26 L546.03,246.83 L545.3,246.4 L544.67,245.95 L544.1,245.5 L543.61,245.04 L543.21,244.6 L542.9,244.19 L542.7,243.8 L542.61,243.47 L542.61,243.2 L542.71,242.96 L542.9,242.7 L543.2,242.39 L543.6,242 L544.12,241.52 L544.78,240.96 L545.53,240.36 L546.36,239.73 L547.22,239.1 L548.1,238.5 L549.05,237.92 L550.1,237.33 L551.19,236.75 L552.27,236.17 L553.26,235.58 L554.1,235 L554.78,234.4 L555.34,233.77 L555.82,233.14 L556.25,232.53 L556.66,231.98 L557.1,231.5 L557.56,231.11 L558.03,230.79 L558.48,230.51 L558.9,230.27 L559.28,230.04 L559.6,229.8 L559.85,229.55 L560.05,229.29 L560.21,229.04 L560.33,228.82 L560.42,228.64 L560.5,228.5Z" fill="#9ecfdf" stroke="#2b2b2b" stroke-width="0.95" stroke-linejoin="round"/>
<line x1="627.4" y1="233.8" x2="627.4" y2="244" stroke="#333" stroke-width="2.2" stroke-linecap="round"/>
<line x1="627.4" y1="255" x2="627.4" y2="284" stroke="#333" stroke-width="2.4" stroke-linecap="round"/>
<path d="M628,240.5 L628,240.65 L627.93,240.85 L627.89,241.09 L627.97,241.35 L628.27,241.63 L628.9,241.9 L629.91,242.17 L631.24,242.45 L632.8,242.74 L634.49,243.05 L636.22,243.37 L637.9,243.7 L639.6,244.05 L641.42,244.43 L643.27,244.81 L645.1,245.21 L646.84,245.61 L648.4,246 L649.83,246.4 L651.17,246.83 L652.42,247.25 L653.56,247.66 L654.56,248.05 L655.4,248.4 L656.09,248.7 L656.66,248.97 L657.09,249.21 L657.37,249.44 L657.51,249.67 L657.5,249.9 L657.35,250.14 L657.06,250.36 L656.62,250.59 L656.02,250.81 L655.25,251.05 L654.3,251.3 L653.08,251.56 L651.58,251.82 L649.91,252.09 L648.17,252.37 L646.47,252.67 L644.9,253 L643.44,253.36 L641.99,253.75 L640.57,254.16 L639.21,254.58 L637.91,255 L636.7,255.4 L635.55,255.79 L634.44,256.17 L633.39,256.56 L632.44,256.94 L631.6,257.32 L630.9,257.7 L630.37,258.08 L629.99,258.46 L629.72,258.84 L629.53,259.23 L629.37,259.61 L629.2,260 L629.05,260.4 L628.95,260.82 L628.89,261.24 L628.84,261.66 L628.78,262.05 L628.7,262.4 L628.59,262.73 L628.46,263.05 L628.32,263.35 L628.19,263.61 L628.08,263.84 L628,264 L626.8,264 L626.72,263.84 L626.61,263.61 L626.48,263.35 L626.34,263.05 L626.21,262.73 L626.1,262.4 L626.02,262.05 L625.96,261.66 L625.91,261.24 L625.85,260.82 L625.75,260.4 L625.6,260 L625.43,259.61 L625.27,259.23 L625.08,258.84 L624.81,258.46 L624.43,258.08 L623.9,257.7 L623.2,257.32 L622.36,256.94 L621.41,256.56 L620.36,256.17 L619.25,255.79 L618.1,255.4 L616.89,255 L615.59,254.58 L614.23,254.16 L612.81,253.75 L611.36,253.36 L609.9,253 L608.33,252.67 L606.63,252.37 L604.89,252.09 L603.22,251.82 L601.72,251.56 L600.5,251.3 L599.55,251.05 L598.78,250.81 L598.18,250.59 L597.74,250.36 L597.45,250.14 L597.3,249.9 L597.29,249.67 L597.43,249.44 L597.71,249.21 L598.14,248.97 L598.71,248.7 L599.4,248.4 L600.24,248.05 L601.24,247.66 L602.38,247.25 L603.63,246.83 L604.97,246.4 L606.4,246 L607.96,245.61 L609.7,245.21 L611.52,244.81 L613.38,244.43 L615.2,244.05 L616.9,243.7 L618.58,243.37 L620.31,243.05 L622,242.74 L623.56,242.45 L624.89,242.17 L625.9,241.9 L626.53,241.63 L626.83,241.35 L626.91,241.09 L626.87,240.85 L626.8,240.65 L626.8,240.5Z" fill="#9ecfdf" stroke="#2b2b2b" stroke-width="0.95" stroke-linejoin="round"/>
<line x1="494.8" y1="222" x2="494.8" y2="257" stroke="#333" stroke-width="0.85" />
<line x1="561.1" y1="229.5" x2="561.1" y2="259" stroke="#333" stroke-width="0.85" />
<line x1="627.4" y1="241.5" x2="627.4" y2="262" stroke="#333" stroke-width="0.85" />
<rect x="491.4" y="236.3" width="6.8" height="8.4" fill="none" stroke="#333" stroke-width="0.8"/>
<line x1="491.4" y1="240.6" x2="498.2" y2="240.6" stroke="#333" stroke-width="1.6" />
<rect x="557.7" y="241.2" width="6.8" height="8.7" fill="none" stroke="#333" stroke-width="0.8"/>
<line x1="557.7" y1="245.2" x2="564.5" y2="245.2" stroke="#333" stroke-width="1.6" />
<rect x="624" y="248.1" width="6.8" height="4.9" fill="#6f9aa8" stroke="#333" stroke-width="0.8"/>
<line x1="624" y1="250.5" x2="630.8" y2="250.5" stroke="#333" stroke-width="1.6" />
<path d="M494.8,193.2 L494.8,188.6 L627.4,188.6 L627.4,193.2" fill="none" stroke="#222" stroke-width="1.25"/>
<text x="565" y="187.1" font-size="10.1" fill="#000" text-anchor="middle" font-weight="normal" >5.86e-38257</text>
<path d="M494.8,205.2 L494.8,200.9 L561.1,200.9 L561.1,205.2" fill="none" stroke="#222" stroke-width="1.25"/>
<text x="527.8" y="199.6" font-size="10.1" fill="#000" text-anchor="middle" font-weight="normal" >6.88e-15301</text>
<path d="M561.1,213 L561.1,209.1 L627.4,209.1 L627.4,213" fill="none" stroke="#222" stroke-width="1.25"/>
<text x="594.6" y="207" font-size="10.1" fill="#000" text-anchor="middle" font-weight="normal" >1.83e-21286</text>
<line x1="667" y1="177.2" x2="667" y2="307.6" stroke="#a0a0a0" stroke-width="0.7" />
<line x1="455.5" y1="177.2" x2="667.35" y2="177.2" stroke="#2f2f2f" stroke-width="1.3" />
<line x1="455.5" y1="176.65" x2="455.5" y2="308.15" stroke="#2f2f2f" stroke-width="1.3" />
<line x1="454.95" y1="307.6" x2="667.35" y2="307.6" stroke="#2f2f2f" stroke-width="1.3" />
<line x1="453.3" y1="181.1" x2="455.5" y2="181.1" stroke="#2f2f2f" stroke-width="1.3" />
<text x="451" y="186.7" font-size="10.3" fill="#4d4d4d" text-anchor="end" font-weight="normal" >15</text>
<line x1="453.3" y1="207.5" x2="455.5" y2="207.5" stroke="#2f2f2f" stroke-width="1.3" />
<text x="451" y="213.1" font-size="10.3" fill="#4d4d4d" text-anchor="end" font-weight="normal" >10</text>
<line x1="453.3" y1="233.9" x2="455.5" y2="233.9" stroke="#2f2f2f" stroke-width="1.3" />
<text x="451" y="239.5" font-size="10.3" fill="#4d4d4d" text-anchor="end" font-weight="normal" >5</text>
<line x1="453.3" y1="260.3" x2="455.5" y2="260.3" stroke="#2f2f2f" stroke-width="1.3" />
<text x="451" y="265.9" font-size="10.3" fill="#4d4d4d" text-anchor="end" font-weight="normal" >0</text>
<line x1="453.3" y1="286.7" x2="455.5" y2="286.7" stroke="#2f2f2f" stroke-width="1.3" />
<text x="451" y="292.3" font-size="10.3" fill="#4d4d4d" text-anchor="end" font-weight="normal" >−5</text>
<line x1="494.8" y1="307.6" x2="494.8" y2="310" stroke="#2f2f2f" stroke-width="1.3" />
<line x1="561.1" y1="307.6" x2="561.1" y2="310" stroke="#2f2f2f" stroke-width="1.3" />
<line x1="627.4" y1="307.6" x2="627.4" y2="310" stroke="#2f2f2f" stroke-width="1.3" />
<text x="429" y="321.4" font-size="10.1" fill="#4d4d4d" text-anchor="start" font-weight="normal" >Upstream + Downstream</text>
<text x="546.5" y="321.4" font-size="10.1" fill="#4d4d4d" text-anchor="start" font-weight="normal" >2 Upstream</text>
<text x="608.9" y="321.4" font-size="10.1" fill="#4d4d4d" text-anchor="start" font-weight="normal" >2 Downstream</text>
<text x="561.9" y="333.9" font-size="12.7" fill="#000" text-anchor="middle" font-weight="bold" >Supporting Reads Combination</text>
<text transform="translate(429,235.8) rotate(-90)" font-size="11.2" fill="#000" text-anchor="middle" font-weight="bold">Logits</text>
<text x="412.3" y="174" font-size="18" fill="#000" text-anchor="start" font-weight="bold" >c</text>
<line x1="74.8" y1="368.1" x2="74.8" y2="378" stroke="#2b2b2b" stroke-width="0.9" />
<line x1="74.8" y1="485" x2="74.8" y2="512.6" stroke="#2b2b2b" stroke-width="0.9" />
<line x1="127.2" y1="388.7" x2="127.2" y2="400" stroke="#2b2b2b" stroke-width="0.9" />
<line x1="127.2" y1="511.6" x2="127.2" y2="533" stroke="#2b2b2b" stroke-width="0.9" />
<line x1="127.2" y1="383.3" x2="127.2" y2="388.7" stroke="#2b2b2b" stroke-width="2.4"/>
<line x1="127.2" y1="491" x2="127.2" y2="511.6" stroke="#2b2b2b" stroke-width="2.4"/>
<circle cx="127.2" cy="514.8" r="1.2" fill="#2b2b2b" />
<circle cx="127.2" cy="518.5" r="1.2" fill="#2b2b2b" />
<circle cx="127.2" cy="521.5" r="1.2" fill="#2b2b2b" />
<circle cx="127.2" cy="525.5" r="1.2" fill="#2b2b2b" />
<circle cx="127.2" cy="529" r="1.2" fill="#2b2b2b" />
<circle cx="127.2" cy="532.9" r="1.2" fill="#2b2b2b" />
<line x1="179.4" y1="403.3" x2="179.4" y2="406" stroke="#2b2b2b" stroke-width="0.9" />
<line x1="179.4" y1="500" x2="179.4" y2="514.9" stroke="#2b2b2b" stroke-width="0.9" />
<line x1="179.4" y1="393.5" x2="179.4" y2="403.3" stroke="#2b2b2b" stroke-width="2.4"/>
<line x1="179.4" y1="485.3" x2="179.4" y2="500" stroke="#2b2b2b" stroke-width="2.4"/>
<circle cx="179.4" cy="503" r="1.2" fill="#2b2b2b" />
<circle cx="179.4" cy="506" r="1.2" fill="#2b2b2b" />
<circle cx="179.4" cy="509" r="1.2" fill="#2b2b2b" />
<circle cx="179.4" cy="512" r="1.2" fill="#2b2b2b" />
<circle cx="179.4" cy="514.9" r="1.2" fill="#2b2b2b" />
<line x1="231.7" y1="486" x2="231.7" y2="518.2" stroke="#2b2b2b" stroke-width="2.4"/>
<circle cx="231.7" cy="521" r="1.2" fill="#2b2b2b" />
<circle cx="231.7" cy="524" r="1.2" fill="#2b2b2b" />
<circle cx="231.7" cy="526.9" r="1.2" fill="#2b2b2b" />
<line x1="284" y1="413" x2="284" y2="421" stroke="#2b2b2b" stroke-width="0.9" />
<line x1="284" y1="511.6" x2="284" y2="524.3" stroke="#2b2b2b" stroke-width="0.9" />
<line x1="284" y1="409.3" x2="284" y2="413" stroke="#2b2b2b" stroke-width="2.4"/>
<line x1="284" y1="486.4" x2="284" y2="511.6" stroke="#2b2b2b" stroke-width="2.4"/>
<circle cx="284" cy="415" r="1.2" fill="#2b2b2b" />
<circle cx="284" cy="417.5" r="1.2" fill="#2b2b2b" />
<circle cx="284" cy="419.8" r="1.2" fill="#2b2b2b" />
<circle cx="284" cy="514.5" r="1.2" fill="#2b2b2b" />
<circle cx="284" cy="517.5" r="1.2" fill="#2b2b2b" />
<circle cx="284" cy="521" r="1.2" fill="#2b2b2b" />
<circle cx="284" cy="524.3" r="1.2" fill="#2b2b2b" />
<line x1="336.5" y1="412.5" x2="336.5" y2="421" stroke="#2b2b2b" stroke-width="0.9" />
<line x1="336.5" y1="535.7" x2="336.5" y2="555.4" stroke="#2b2b2b" stroke-width="0.9" />
<line x1="336.5" y1="490.8" x2="336.5" y2="535.7" stroke="#2b2b2b" stroke-width="2.4"/>
<circle cx="336.5" cy="412.5" r="1.2" fill="#2b2b2b" />
<circle cx="336.5" cy="540" r="1.2" fill="#2b2b2b" />
<circle cx="336.5" cy="544" r="1.2" fill="#2b2b2b" />
<circle cx="336.5" cy="550.5" r="1.2" fill="#2b2b2b" />
<circle cx="336.5" cy="553" r="1.2" fill="#2b2b2b" />
<circle cx="336.5" cy="555.4" r="1.2" fill="#2b2b2b" />
<path d="M75.15,371 L75.16,371.65 L75.17,372.54 L75.19,373.61 L75.22,374.76 L75.27,375.91 L75.35,377 L75.45,378.02 L75.57,379.04 L75.71,380.08 L75.87,381.12 L76.07,382.19 L76.3,383.3 L76.58,384.43 L76.9,385.57 L77.25,386.73 L77.63,387.93 L78.01,389.19 L78.4,390.5 L78.79,391.9 L79.2,393.37 L79.61,394.89 L80.04,396.43 L80.47,397.98 L80.9,399.5 L81.35,401 L81.81,402.5 L82.28,404 L82.74,405.5 L83.19,407 L83.6,408.5 L83.99,410 L84.36,411.5 L84.71,413.01 L85.04,414.51 L85.34,416.01 L85.6,417.5 L85.84,418.99 L86.06,420.47 L86.24,421.95 L86.39,423.43 L86.48,424.91 L86.5,426.4 L86.45,427.89 L86.33,429.39 L86.16,430.89 L85.94,432.4 L85.69,433.9 L85.4,435.4 L85.05,436.92 L84.62,438.47 L84.15,440.01 L83.68,441.53 L83.25,443 L82.9,444.4 L82.61,445.71 L82.34,446.94 L82.11,448.12 L81.94,449.27 L81.83,450.43 L81.8,451.6 L81.89,452.81 L82.1,454.04 L82.38,455.26 L82.67,456.46 L82.93,457.62 L83.1,458.7 L83.2,459.68 L83.28,460.56 L83.32,461.39 L83.31,462.23 L83.24,463.12 L83.1,464.1 L82.87,465.2 L82.56,466.37 L82.19,467.59 L81.77,468.83 L81.34,470.08 L80.9,471.3 L80.43,472.52 L79.91,473.77 L79.38,475.01 L78.84,476.23 L78.34,477.4 L77.9,478.5 L77.52,479.5 L77.17,480.43 L76.86,481.31 L76.58,482.17 L76.33,483.02 L76.1,483.9 L75.91,484.82 L75.75,485.76 L75.62,486.71 L75.52,487.63 L75.43,488.5 L75.35,489.3 L75.28,490.06 L75.24,490.8 L75.2,491.49 L75.18,492.1 L75.17,492.62 L75.15,493 L74.45,493 L74.43,492.62 L74.42,492.1 L74.4,491.49 L74.36,490.8 L74.32,490.06 L74.25,489.3 L74.17,488.5 L74.08,487.63 L73.97,486.71 L73.85,485.76 L73.69,484.82 L73.5,483.9 L73.27,483.02 L73.02,482.17 L72.74,481.31 L72.43,480.43 L72.08,479.5 L71.7,478.5 L71.26,477.4 L70.76,476.23 L70.22,475.01 L69.69,473.77 L69.17,472.52 L68.7,471.3 L68.26,470.08 L67.83,468.83 L67.41,467.59 L67.04,466.37 L66.73,465.2 L66.5,464.1 L66.36,463.12 L66.29,462.23 L66.28,461.39 L66.32,460.56 L66.4,459.68 L66.5,458.7 L66.67,457.62 L66.93,456.46 L67.22,455.26 L67.5,454.04 L67.71,452.81 L67.8,451.6 L67.77,450.43 L67.66,449.27 L67.49,448.12 L67.26,446.94 L66.99,445.71 L66.7,444.4 L66.35,443 L65.92,441.53 L65.45,440.01 L64.98,438.47 L64.55,436.92 L64.2,435.4 L63.91,433.9 L63.66,432.4 L63.44,430.89 L63.27,429.39 L63.15,427.89 L63.1,426.4 L63.12,424.91 L63.21,423.43 L63.36,421.95 L63.54,420.47 L63.76,418.99 L64,417.5 L64.26,416.01 L64.56,414.51 L64.89,413.01 L65.24,411.5 L65.61,410 L66,408.5 L66.41,407 L66.86,405.5 L67.32,404 L67.79,402.5 L68.25,401 L68.7,399.5 L69.13,397.98 L69.56,396.43 L69.99,394.89 L70.4,393.37 L70.81,391.9 L71.2,390.5 L71.59,389.19 L71.97,387.93 L72.35,386.73 L72.7,385.57 L73.02,384.43 L73.3,383.3 L73.53,382.19 L73.73,381.12 L73.89,380.08 L74.03,379.04 L74.15,378.02 L74.25,377 L74.33,375.91 L74.38,374.76 L74.41,373.61 L74.43,372.54 L74.44,371.65 L74.45,371Z" fill="#9ecfdf" stroke="#2b2b2b" stroke-width="0.95" stroke-linejoin="round"/>
<path d="M127.6,396 L127.62,396.33 L127.64,396.8 L127.67,397.36 L127.71,397.94 L127.77,398.51 L127.85,399 L127.94,399.39 L128.04,399.7 L128.16,400 L128.3,400.33 L128.48,400.75 L128.7,401.3 L128.96,402 L129.25,402.8 L129.58,403.69 L129.94,404.65 L130.35,405.66 L130.8,406.7 L131.29,407.8 L131.82,408.97 L132.39,410.19 L133.01,411.44 L133.68,412.68 L134.4,413.9 L135.22,415.09 L136.16,416.27 L137.14,417.45 L138.11,418.63 L139.02,419.81 L139.8,421 L140.47,422.22 L141.09,423.46 L141.64,424.71 L142.11,425.93 L142.5,427.1 L142.8,428.2 L143,429.18 L143.1,430.07 L143.12,430.9 L143.07,431.73 L142.96,432.62 L142.8,433.6 L142.56,434.7 L142.21,435.87 L141.81,437.09 L141.39,438.33 L141,439.58 L140.7,440.8 L140.48,442 L140.31,443.2 L140.18,444.4 L140.06,445.6 L139.94,446.8 L139.8,448 L139.67,449.2 L139.55,450.4 L139.43,451.61 L139.3,452.81 L139.13,454.01 L138.9,455.2 L138.62,456.39 L138.3,457.57 L137.94,458.75 L137.56,459.93 L137.14,461.11 L136.7,462.3 L136.22,463.49 L135.7,464.69 L135.14,465.89 L134.58,467.1 L134.03,468.3 L133.5,469.5 L132.99,470.7 L132.48,471.9 L131.98,473.1 L131.5,474.3 L131.03,475.5 L130.6,476.7 L130.19,477.92 L129.79,479.17 L129.41,480.41 L129.07,481.63 L128.76,482.8 L128.5,483.9 L128.3,484.92 L128.14,485.9 L128.03,486.82 L127.94,487.69 L127.87,488.52 L127.8,489.3 L127.74,490.06 L127.69,490.8 L127.66,491.49 L127.63,492.1 L127.62,492.62 L127.6,493 L126.8,493 L126.78,492.62 L126.77,492.1 L126.74,491.49 L126.71,490.8 L126.66,490.06 L126.6,489.3 L126.53,488.52 L126.46,487.69 L126.37,486.82 L126.26,485.9 L126.1,484.92 L125.9,483.9 L125.64,482.8 L125.33,481.63 L124.99,480.41 L124.61,479.17 L124.21,477.92 L123.8,476.7 L123.37,475.5 L122.9,474.3 L122.42,473.1 L121.92,471.9 L121.41,470.7 L120.9,469.5 L120.37,468.3 L119.82,467.1 L119.26,465.89 L118.7,464.69 L118.18,463.49 L117.7,462.3 L117.26,461.11 L116.84,459.93 L116.46,458.75 L116.1,457.57 L115.78,456.39 L115.5,455.2 L115.27,454.01 L115.1,452.81 L114.97,451.61 L114.85,450.4 L114.73,449.2 L114.6,448 L114.46,446.8 L114.34,445.6 L114.22,444.4 L114.09,443.2 L113.92,442 L113.7,440.8 L113.4,439.58 L113.01,438.33 L112.59,437.09 L112.19,435.87 L111.84,434.7 L111.6,433.6 L111.44,432.62 L111.33,431.73 L111.28,430.9 L111.3,430.07 L111.4,429.18 L111.6,428.2 L111.9,427.1 L112.29,425.93 L112.76,424.71 L113.31,423.46 L113.93,422.22 L114.6,421 L115.38,419.81 L116.29,418.63 L117.26,417.45 L118.24,416.27 L119.18,415.09 L120,413.9 L120.72,412.68 L121.39,411.44 L122.01,410.19 L122.58,408.97 L123.11,407.8 L123.6,406.7 L124.05,405.66 L124.46,404.65 L124.82,403.69 L125.15,402.8 L125.44,402 L125.7,401.3 L125.92,400.75 L126.1,400.33 L126.24,400 L126.36,399.7 L126.46,399.39 L126.55,399 L126.63,398.51 L126.69,397.94 L126.73,397.36 L126.76,396.8 L126.78,396.33 L126.8,396Z" fill="#9ecfdf" stroke="#2b2b2b" stroke-width="0.95" stroke-linejoin="round"/>
<path d="M179.8,403 L179.82,403.22 L179.84,403.52 L179.87,403.88 L179.91,404.27 L179.97,404.65 L180.05,405 L180.14,405.28 L180.23,405.51 L180.33,405.74 L180.47,406.01 L180.66,406.38 L180.9,406.9 L181.18,407.58 L181.48,408.37 L181.83,409.27 L182.25,410.24 L182.76,411.26 L183.4,412.3 L184.2,413.4 L185.16,414.57 L186.21,415.79 L187.3,417.03 L188.38,418.28 L189.4,419.5 L190.4,420.7 L191.43,421.9 L192.45,423.1 L193.41,424.3 L194.28,425.5 L195,426.7 L195.57,427.92 L196.01,429.17 L196.36,430.42 L196.63,431.64 L196.84,432.81 L197,433.9 L197.13,434.85 L197.2,435.67 L197.21,436.44 L197.16,437.23 L197.02,438.12 L196.8,439.2 L196.47,440.49 L196.04,441.93 L195.53,443.47 L194.96,445.06 L194.38,446.66 L193.8,448.2 L193.21,449.7 L192.59,451.2 L191.95,452.7 L191.3,454.2 L190.64,455.7 L190,457.2 L189.36,458.7 L188.71,460.2 L188.06,461.7 L187.42,463.2 L186.8,464.7 L186.2,466.2 L185.62,467.72 L185.06,469.27 L184.51,470.82 L183.98,472.34 L183.47,473.81 L183,475.2 L182.55,476.51 L182.11,477.77 L181.69,478.98 L181.31,480.13 L180.98,481.24 L180.7,482.3 L180.48,483.36 L180.32,484.43 L180.21,485.44 L180.12,486.36 L180.06,487.13 L180,487.7 L178.8,487.7 L178.74,487.13 L178.68,486.36 L178.59,485.44 L178.48,484.43 L178.32,483.36 L178.1,482.3 L177.82,481.24 L177.49,480.13 L177.11,478.98 L176.69,477.77 L176.25,476.51 L175.8,475.2 L175.33,473.81 L174.82,472.34 L174.29,470.82 L173.74,469.27 L173.18,467.72 L172.6,466.2 L172,464.7 L171.38,463.2 L170.74,461.7 L170.09,460.2 L169.44,458.7 L168.8,457.2 L168.16,455.7 L167.5,454.2 L166.85,452.7 L166.21,451.2 L165.59,449.7 L165,448.2 L164.42,446.66 L163.84,445.06 L163.28,443.47 L162.76,441.93 L162.33,440.49 L162,439.2 L161.78,438.12 L161.64,437.23 L161.59,436.44 L161.6,435.67 L161.67,434.85 L161.8,433.9 L161.96,432.81 L162.17,431.64 L162.44,430.42 L162.79,429.17 L163.23,427.92 L163.8,426.7 L164.52,425.5 L165.39,424.3 L166.35,423.1 L167.37,421.9 L168.4,420.7 L169.4,419.5 L170.42,418.28 L171.5,417.03 L172.59,415.79 L173.64,414.57 L174.6,413.4 L175.4,412.3 L176.04,411.26 L176.55,410.24 L176.97,409.27 L177.32,408.37 L177.62,407.58 L177.9,406.9 L178.14,406.38 L178.33,406.01 L178.47,405.74 L178.57,405.51 L178.66,405.28 L178.75,405 L178.83,404.65 L178.89,404.27 L178.93,403.88 L178.96,403.52 L178.98,403.22 L179,403Z" fill="#9ecfdf" stroke="#2b2b2b" stroke-width="0.95" stroke-linejoin="round"/>
<path d="M232,413.2 L232.35,413.88 L232.81,414.8 L233.37,415.9 L233.99,417.1 L234.64,418.32 L235.3,419.5 L235.97,420.65 L236.68,421.83 L237.42,423.04 L238.19,424.27 L238.98,425.49 L239.8,426.7 L240.67,427.9 L241.6,429.1 L242.55,430.31 L243.49,431.51 L244.39,432.71 L245.2,433.9 L245.95,435.09 L246.66,436.27 L247.32,437.45 L247.92,438.63 L248.45,439.81 L248.9,441 L249.24,442.19 L249.49,443.39 L249.66,444.59 L249.78,445.8 L249.89,447 L250,448.2 L250.14,449.42 L250.29,450.67 L250.42,451.91 L250.51,453.13 L250.51,454.3 L250.4,455.4 L250.17,456.38 L249.86,457.27 L249.46,458.1 L248.99,458.93 L248.47,459.82 L247.9,460.8 L247.28,461.9 L246.58,463.07 L245.83,464.29 L245.04,465.53 L244.23,466.78 L243.4,468 L242.54,469.2 L241.62,470.4 L240.67,471.61 L239.74,472.81 L238.84,474.01 L238,475.2 L237.21,476.41 L236.44,477.64 L235.71,478.86 L235.03,480.06 L234.42,481.22 L233.9,482.3 L233.49,483.34 L233.17,484.36 L232.92,485.33 L232.72,486.23 L232.56,487.03 L232.4,487.7 L232.27,488.23 L232.17,488.63 L232.11,488.94 L232.06,489.17 L232.03,489.35 L232,489.5 L231.4,489.5 L231.37,489.35 L231.34,489.17 L231.29,488.94 L231.23,488.63 L231.13,488.23 L231,487.7 L230.84,487.03 L230.68,486.23 L230.48,485.33 L230.23,484.36 L229.91,483.34 L229.5,482.3 L228.98,481.22 L228.37,480.06 L227.69,478.86 L226.96,477.64 L226.19,476.41 L225.4,475.2 L224.56,474.01 L223.66,472.81 L222.72,471.61 L221.78,470.4 L220.86,469.2 L220,468 L219.17,466.78 L218.36,465.53 L217.57,464.29 L216.82,463.07 L216.12,461.9 L215.5,460.8 L214.93,459.82 L214.41,458.93 L213.94,458.1 L213.54,457.27 L213.23,456.38 L213,455.4 L212.89,454.3 L212.89,453.13 L212.97,451.91 L213.11,450.67 L213.26,449.42 L213.4,448.2 L213.51,447 L213.62,445.8 L213.74,444.59 L213.91,443.39 L214.16,442.19 L214.5,441 L214.95,439.81 L215.48,438.63 L216.08,437.45 L216.74,436.27 L217.45,435.09 L218.2,433.9 L219.01,432.71 L219.91,431.51 L220.85,430.31 L221.8,429.1 L222.73,427.9 L223.6,426.7 L224.42,425.49 L225.21,424.27 L225.98,423.04 L226.72,421.83 L227.43,420.65 L228.1,419.5 L228.76,418.32 L229.41,417.1 L230.03,415.9 L230.59,414.8 L231.05,413.88 L231.4,413.2Z" fill="#9ecfdf" stroke="#2b2b2b" stroke-width="0.95" stroke-linejoin="round"/>
<path d="M284.5,420 L284.53,420.14 L284.54,420.29 L284.56,420.49 L284.63,420.77 L284.77,421.17 L285,421.7 L285.33,422.42 L285.72,423.3 L286.19,424.3 L286.72,425.35 L287.33,426.4 L288,427.4 L288.73,428.33 L289.53,429.23 L290.39,430.12 L291.33,431.05 L292.36,432.03 L293.5,433.1 L294.82,434.27 L296.32,435.52 L297.91,436.83 L299.5,438.17 L301,439.5 L302.3,440.8 L303.46,442.12 L304.56,443.48 L305.57,444.84 L306.44,446.15 L307.13,447.35 L307.6,448.4 L307.85,449.21 L307.9,449.81 L307.77,450.3 L307.49,450.79 L307.06,451.39 L306.5,452.2 L305.76,453.25 L304.8,454.45 L303.7,455.76 L302.52,457.13 L301.33,458.49 L300.2,459.8 L299.09,461.07 L297.95,462.33 L296.8,463.59 L295.66,464.86 L294.55,466.13 L293.5,467.4 L292.48,468.68 L291.47,469.96 L290.5,471.25 L289.58,472.54 L288.74,473.82 L288,475.1 L287.36,476.39 L286.81,477.71 L286.34,479.02 L285.94,480.31 L285.6,481.54 L285.3,482.7 L285.08,483.81 L284.94,484.89 L284.86,485.93 L284.81,486.87 L284.76,487.71 L284.7,488.4 L284.62,488.92 L284.54,489.3 L284.46,489.56 L284.4,489.74 L284.34,489.87 L284.3,490 L283.7,490 L283.66,489.87 L283.6,489.74 L283.54,489.56 L283.46,489.3 L283.38,488.92 L283.3,488.4 L283.24,487.71 L283.19,486.87 L283.14,485.93 L283.06,484.89 L282.92,483.81 L282.7,482.7 L282.4,481.54 L282.06,480.31 L281.66,479.02 L281.19,477.71 L280.64,476.39 L280,475.1 L279.26,473.82 L278.42,472.54 L277.5,471.25 L276.53,469.96 L275.52,468.68 L274.5,467.4 L273.45,466.13 L272.34,464.86 L271.2,463.59 L270.05,462.33 L268.91,461.07 L267.8,459.8 L266.67,458.49 L265.48,457.13 L264.3,455.76 L263.2,454.45 L262.24,453.25 L261.5,452.2 L260.94,451.39 L260.51,450.79 L260.23,450.3 L260.1,449.81 L260.15,449.21 L260.4,448.4 L260.87,447.35 L261.56,446.15 L262.43,444.84 L263.44,443.48 L264.54,442.12 L265.7,440.8 L267,439.5 L268.5,438.17 L270.09,436.83 L271.68,435.52 L273.18,434.27 L274.5,433.1 L275.64,432.03 L276.67,431.05 L277.61,430.12 L278.47,429.23 L279.27,428.33 L280,427.4 L280.67,426.4 L281.28,425.35 L281.81,424.3 L282.28,423.3 L282.67,422.42 L283,421.7 L283.23,421.17 L283.37,420.77 L283.44,420.49 L283.46,420.29 L283.47,420.14 L283.5,420Z" fill="#9ecfdf" stroke="#2b2b2b" stroke-width="0.95" stroke-linejoin="round"/>
<path d="M337.1,421 L337.12,421.12 L337.11,421.23 L337.11,421.38 L337.19,421.63 L337.4,422.02 L337.8,422.6 L338.41,423.41 L339.21,424.42 L340.13,425.58 L341.14,426.81 L342.18,428.07 L343.2,429.3 L344.24,430.51 L345.34,431.76 L346.48,433.04 L347.61,434.33 L348.73,435.62 L349.8,436.9 L350.87,438.22 L351.97,439.6 L353.06,440.99 L354.06,442.32 L354.93,443.54 L355.6,444.6 L356.08,445.44 L356.4,446.09 L356.58,446.62 L356.65,447.14 L356.62,447.7 L356.5,448.4 L356.21,449.26 L355.72,450.23 L355.13,451.25 L354.54,452.27 L354.07,453.24 L353.8,454.1 L353.83,454.8 L354.09,455.37 L354.45,455.88 L354.8,456.42 L355.03,457.07 L355,457.9 L354.71,458.95 L354.26,460.15 L353.67,461.46 L352.99,462.82 L352.25,464.18 L351.5,465.5 L350.7,466.78 L349.81,468.06 L348.88,469.35 L347.91,470.64 L346.94,471.92 L346,473.2 L345.05,474.49 L344.06,475.81 L343.07,477.12 L342.13,478.41 L341.25,479.64 L340.5,480.8 L339.87,481.9 L339.32,482.96 L338.85,483.97 L338.45,484.91 L338.1,485.76 L337.8,486.5 L337.56,487.1 L337.39,487.55 L337.27,487.92 L337.19,488.25 L337.12,488.59 L337.05,489 L336.98,489.51 L336.94,490.07 L336.9,490.66 L336.88,491.2 L336.87,491.67 L336.85,492 L336.15,492 L336.13,491.67 L336.12,491.2 L336.1,490.66 L336.06,490.07 L336.02,489.51 L335.95,489 L335.88,488.59 L335.81,488.25 L335.73,487.92 L335.61,487.55 L335.44,487.1 L335.2,486.5 L334.9,485.76 L334.55,484.91 L334.15,483.97 L333.68,482.96 L333.13,481.9 L332.5,480.8 L331.75,479.64 L330.87,478.41 L329.93,477.12 L328.94,475.81 L327.95,474.49 L327,473.2 L326.06,471.92 L325.09,470.64 L324.12,469.35 L323.19,468.06 L322.3,466.78 L321.5,465.5 L320.75,464.18 L320.01,462.82 L319.33,461.46 L318.74,460.15 L318.29,458.95 L318,457.9 L317.97,457.07 L318.2,456.42 L318.55,455.88 L318.91,455.37 L319.17,454.8 L319.2,454.1 L318.93,453.24 L318.46,452.27 L317.87,451.25 L317.28,450.23 L316.79,449.26 L316.5,448.4 L316.38,447.7 L316.35,447.14 L316.42,446.62 L316.6,446.09 L316.92,445.44 L317.4,444.6 L318.07,443.54 L318.94,442.32 L319.94,440.99 L321.03,439.6 L322.13,438.22 L323.2,436.9 L324.27,435.62 L325.39,434.33 L326.52,433.04 L327.66,431.76 L328.76,430.51 L329.8,429.3 L330.82,428.07 L331.86,426.81 L332.87,425.58 L333.79,424.42 L334.59,423.41 L335.2,422.6 L335.6,422.02 L335.81,421.63 L335.89,421.38 L335.89,421.23 L335.88,421.12 L335.9,421Z" fill="#9ecfdf" stroke="#2b2b2b" stroke-width="0.95" stroke-linejoin="round"/>
<line x1="74.8" y1="372" x2="74.8" y2="492" stroke="#333" stroke-width="0.8" />
<rect x="72.1" y="416.2" width="5.4" height="39.3" fill="none" stroke="#333" stroke-width="0.75"/>
<line x1="72.1" y1="431.8" x2="77.5" y2="431.8" stroke="#333" stroke-width="1.4" />
<line x1="127.2" y1="397" x2="127.2" y2="492" stroke="#333" stroke-width="0.8" />
<rect x="124.5" y="428.2" width="5.4" height="27" fill="none" stroke="#333" stroke-width="0.75"/>
<line x1="124.5" y1="440.3" x2="129.9" y2="440.3" stroke="#333" stroke-width="1.4" />
<line x1="179.4" y1="404" x2="179.4" y2="486.7" stroke="#333" stroke-width="0.8" />
<rect x="176.7" y="431.7" width="5.4" height="22.4" fill="none" stroke="#333" stroke-width="0.75"/>
<line x1="176.7" y1="441.6" x2="182.1" y2="441.6" stroke="#333" stroke-width="1.4" />
<line x1="231.7" y1="414.2" x2="231.7" y2="488.5" stroke="#333" stroke-width="0.8" />
<rect x="229" y="439.2" width="5.4" height="20.3" fill="none" stroke="#333" stroke-width="0.75"/>
<line x1="229" y1="450" x2="234.4" y2="450" stroke="#333" stroke-width="1.4" />
<line x1="284" y1="421" x2="284" y2="489" stroke="#333" stroke-width="0.8" />
<rect x="281.3" y="444.2" width="5.4" height="17.5" fill="none" stroke="#333" stroke-width="0.75"/>
<line x1="281.3" y1="451.6" x2="286.7" y2="451.6" stroke="#333" stroke-width="1.4" />
<line x1="336.5" y1="422" x2="336.5" y2="491" stroke="#333" stroke-width="0.8" />
<rect x="333.8" y="443.6" width="5.4" height="19.5" fill="none" stroke="#333" stroke-width="0.75"/>
<line x1="333.8" y1="452.2" x2="339.2" y2="452.2" stroke="#333" stroke-width="1.4" />
<path d="M74.8,364.1 L74.8,360.8 L127.2,360.8 L127.2,364.1" fill="none" stroke="#222" stroke-width="1.25"/>
<text x="100.3" y="358.6" font-size="10.0" fill="#000" text-anchor="middle" font-weight="normal" >1.39e-71</text>
<path d="M127.2,373.4 L127.2,369.3 L179.4,369.3 L179.4,373.4" fill="none" stroke="#222" stroke-width="1.25"/>
<text x="151.1" y="367.1" font-size="10.0" fill="#000" text-anchor="middle" font-weight="normal" >2.16e-14</text>
<path d="M179.4,382.3 L179.4,377.9 L231.7,377.9 L231.7,382.3" fill="none" stroke="#222" stroke-width="1.25"/>
<text x="205.3" y="375.3" font-size="10.0" fill="#000" text-anchor="middle" font-weight="normal" >7.20e-277</text>
<path d="M231.7,392.2 L231.7,388.4 L284,388.4 L284,392.2" fill="none" stroke="#222" stroke-width="1.25"/>
<text x="256.2" y="385.5" font-size="10.0" fill="#000" text-anchor="middle" font-weight="normal" >7.03e-86</text>
<path d="M284,401 L284,397.2 L336.5,397.2 L336.5,401" fill="none" stroke="#222" stroke-width="1.25"/>
<text x="312.4" y="394.2" font-size="10.0" fill="#000" text-anchor="middle" font-weight="normal" >0.016</text>
<line x1="367.4" y1="349.6" x2="367.4" y2="564" stroke="#a0a0a0" stroke-width="0.7" />
<line x1="43.6" y1="349.6" x2="367.75" y2="349.6" stroke="#2f2f2f" stroke-width="1.3" />
<line x1="43.6" y1="349.05" x2="43.6" y2="564.55" stroke="#2f2f2f" stroke-width="1.3" />
<line x1="43.05" y1="564" x2="367.75" y2="564" stroke="#2f2f2f" stroke-width="1.3" />
<line x1="41" y1="366.7" x2="43.6" y2="366.7" stroke="#2f2f2f" stroke-width="1.3" />
<text x="39" y="370.4" font-size="10.6" fill="#4d4d4d" text-anchor="end" font-weight="normal" >10</text>
<line x1="41" y1="426.05" x2="43.6" y2="426.05" stroke="#2f2f2f" stroke-width="1.3" />
<text x="39" y="429.75" font-size="10.6" fill="#4d4d4d" text-anchor="end" font-weight="normal" >5</text>
<line x1="41" y1="485.4" x2="43.6" y2="485.4" stroke="#2f2f2f" stroke-width="1.3" />
<text x="39" y="489.1" font-size="10.6" fill="#4d4d4d" text-anchor="end" font-weight="normal" >0</text>
<line x1="41" y1="544.75" x2="43.6" y2="544.75" stroke="#2f2f2f" stroke-width="1.3" />
<text x="39" y="548.45" font-size="10.6" fill="#4d4d4d" text-anchor="end" font-weight="normal" >−5</text>
<line x1="74.8" y1="564" x2="74.8" y2="566.6" stroke="#2f2f2f" stroke-width="1.3" />
<line x1="127.2" y1="564" x2="127.2" y2="566.6" stroke="#2f2f2f" stroke-width="1.3" />
<line x1="179.4" y1="564" x2="179.4" y2="566.6" stroke="#2f2f2f" stroke-width="1.3" />
<line x1="231.7" y1="564" x2="231.7" y2="566.6" stroke="#2f2f2f" stroke-width="1.3" />
<line x1="284" y1="564" x2="284" y2="566.6" stroke="#2f2f2f" stroke-width="1.3" />
<line x1="336.5" y1="564" x2="336.5" y2="566.6" stroke="#2f2f2f" stroke-width="1.3" />
<text transform="translate(60.6,577.3) rotate(18.5)" font-size="11.4" fill="#4d4d4d">2 Clipped−PE</text>
<text transform="translate(114.6,577.7) rotate(18.5)" font-size="11.4" fill="#4d4d4d">Clipped−PE + PE</text>
<text transform="translate(169,577.6) rotate(18.5)" font-size="11.4" fill="#4d4d4d">Clipped−PE + SR</text>
<text transform="translate(226.2,577.6) rotate(18.5)" font-size="11.4" fill="#4d4d4d">PE + SR</text>
<text transform="translate(276,577.8) rotate(18.5)" font-size="11.4" fill="#4d4d4d">2 SR</text>
<text transform="translate(328.2,577.8) rotate(18.5)" font-size="11.4" fill="#4d4d4d">2 PE</text>
<text x="207.1" y="618.3" font-size="12.75" fill="#000" text-anchor="middle" font-weight="bold" >Combination of 2 Supporting Reads</text>
<text transform="translate(16.8,455) rotate(-90)" font-size="11.2" fill="#000" text-anchor="middle" font-weight="bold">Logits</text>
<text x="-0.4" y="351.6" font-size="18" fill="#000" text-anchor="start" font-weight="bold" >d</text>
<defs><clipPath id="clipE"><rect x="452.9" y="348.5" width="217.30000000000007" height="215.5"/></clipPath></defs>
<line x1="469.6" y1="348.5" x2="469.6" y2="564" stroke="#f2f2f2" stroke-width="0.6" />
<line x1="535.2" y1="348.5" x2="535.2" y2="564" stroke="#f2f2f2" stroke-width="0.6" />
<line x1="600.8" y1="348.5" x2="600.8" y2="564" stroke="#f2f2f2" stroke-width="0.6" />
<line x1="666.4" y1="348.5" x2="666.4" y2="564" stroke="#f2f2f2" stroke-width="0.6" />
<line x1="452.9" y1="534.2" x2="670.2" y2="534.2" stroke="#f2f2f2" stroke-width="0.6" />
<line x1="452.9" y1="492.2" x2="670.2" y2="492.2" stroke="#f2f2f2" stroke-width="0.6" />
<line x1="452.9" y1="450.2" x2="670.2" y2="450.2" stroke="#f2f2f2" stroke-width="0.6" />
<line x1="452.9" y1="408.2" x2="670.2" y2="408.2" stroke="#f2f2f2" stroke-width="0.6" />
<line x1="452.9" y1="366.2" x2="670.2" y2="366.2" stroke="#f2f2f2" stroke-width="0.6" />
<line x1="502.4" y1="348.5" x2="502.4" y2="564" stroke="#e3e3e3" stroke-width="1.0" />
<line x1="568" y1="348.5" x2="568" y2="564" stroke="#e3e3e3" stroke-width="1.0" />
<line x1="633.6" y1="348.5" x2="633.6" y2="564" stroke="#e3e3e3" stroke-width="1.0" />
<line x1="452.9" y1="555.2" x2="670.2" y2="555.2" stroke="#e3e3e3" stroke-width="1.0" />
<line x1="452.9" y1="513.2" x2="670.2" y2="513.2" stroke="#e3e3e3" stroke-width="1.0" />
<line x1="452.9" y1="471.2" x2="670.2" y2="471.2" stroke="#e3e3e3" stroke-width="1.0" />
<line x1="452.9" y1="429.2" x2="670.2" y2="429.2" stroke="#e3e3e3" stroke-width="1.0" />
<line x1="452.9" y1="387.2" x2="670.2" y2="387.2" stroke="#e3e3e3" stroke-width="1.0" />
<path d="M633.7 552.3h0M625.9 554.5h0M630.8 548.0h0M631.1 546.4h0M628.4 555.2h0M634.5 546.5h0M629.8 548.0h0M632.9 555.0h0M632.3 549.0h0M627.8 549.7h0M632.8 553.7h0M617.3 554.2h0M637.2 552.2h0M633.6 553.1h0M635.0 552.5h0M637.9 548.5h0M603.9 552.6h0M632.5 546.0h0M598.9 546.3h0M630.5 550.4h0M597.8 553.3h0M638.7 548.2h0M637.0 547.8h0M636.3 551.0h0M632.8 551.0h0M627.1 546.7h0M627.5 553.7h0M632.9 551.8h0M623.9 546.8h0M629.7 550.9h0M637.8 553.9h0M625.6 555.1h0M624.9 546.0h0M633.9 548.2h0M634.0 547.7h0M638.1 549.1h0M631.8 550.8h0M632.7 549.8h0M636.6 549.0h0M632.5 552.5h0M637.1 554.7h0M633.4 554.6h0M619.7 549.1h0M624.0 546.7h0M624.7 548.6h0M637.5 546.2h0M631.3 547.3h0M635.9 546.2h0M615.8 548.6h0M628.2 549.2h0M631.4 548.1h0M638.2 546.9h0M634.0 552.0h0M638.7 550.0h0M610.5 549.2h0M626.1 553.9h0M633.3 552.0h0M633.9 553.5h0M625.3 552.4h0M621.7 546.1h0M633.9 546.8h0M635.6 550.7h0M615.2 547.4h0M616.1 546.7h0M631.7 546.1h0M637.8 552.8h0M635.6 547.9h0M624.5 554.1h0M638.4 548.7h0M617.6 553.1h0M617.2 553.9h0M626.0 554.9h0M632.2 552.8h0M631.1 550.7h0M632.7 554.8h0M613.1 551.8h0M634.3 553.1h0M634.9 548.9h0M609.0 554.7h0M599.9 546.1h0M622.7 547.0h0M620.8 555.1h0M629.0 549.9h0M632.0 554.4h0M626.5 548.1h0M635.4 547.8h0M636.9 546.3h0M626.3 551.1h0M628.4 551.7h0M612.9 549.8h0M615.6 546.2h0M636.4 547.4h0M634.1 551.6h0M628.0 551.3h0M624.9 547.4h0M620.6 552.4h0M618.3 546.9h0M632.5 549.1h0M620.1 550.9h0M615.0 548.6h0M634.1 549.8h0M623.1 548.1h0M611.7 548.5h0M635.0 547.2h0M613.1 553.8h0M596.2 553.4h0M631.8 553.9h0M618.9 547.0h0M626.5 549.4h0M631.6 547.5h0M634.9 553.7h0M632.5 548.7h0M624.6 554.2h0M617.1 548.2h0M631.5 545.9h0M632.4 552.7h0M631.7 554.2h0M613.8 549.8h0M633.1 555.0h0M633.3 549.9h0M637.4 551.4h0M619.3 551.1h0M628.8 549.6h0M629.5 553.5h0M628.3 552.1h0M632.5 547.5h0" stroke="#c5d0da" stroke-opacity="0.6" stroke-width="2.4" stroke-linecap="round" fill="none" clip-path="url(#clipE)"/>
<path d="M617.3 551.8h0M625.5 550.3h0M629.6 549.3h0M627.1 554.0h0M618.1 552.1h0M622.1 552.8h0M632.6 553.2h0M632.9 550.9h0M612.7 554.7h0M619.1 552.7h0M635.6 552.6h0M637.9 549.2h0M620.5 552.8h0M630.7 546.1h0M631.5 549.0h0M628.3 549.2h0M613.3 551.4h0M638.0 554.2h0M631.7 552.3h0M619.8 553.3h0M622.3 550.4h0M629.3 549.5h0M627.9 554.0h0M631.3 551.7h0M634.3 552.5h0M638.4 546.4h0M631.7 552.7h0M634.1 551.8h0M637.1 554.8h0M626.0 554.1h0M629.2 554.8h0M635.0 550.5h0M636.8 554.6h0M635.8 552.9h0M614.0 551.8h0M632.9 549.2h0M635.5 550.6h0M606.9 550.7h0M624.9 550.2h0M613.8 550.2h0M623.1 552.7h0M614.5 551.7h0M633.4 550.0h0M632.7 546.7h0M602.0 552.9h0M635.7 552.9h0M620.4 546.3h0M633.1 547.6h0M630.3 554.0h0M632.7 551.2h0M623.1 545.9h0M633.6 551.8h0M630.6 548.2h0M602.4 552.2h0M622.4 550.7h0M636.1 554.2h0M616.6 551.9h0M629.5 553.3h0M632.6 546.7h0M626.7 546.0h0M610.6 548.0h0M611.9 548.1h0M626.3 552.5h0M632.6 550.0h0M616.4 550.4h0M604.7 546.2h0M621.4 552.7h0M636.9 550.7h0M638.6 551.9h0M627.6 554.3h0M632.9 552.6h0M628.3 552.9h0M633.5 554.8h0M614.7 554.6h0M611.8 554.7h0M611.2 553.2h0M633.3 549.4h0M629.7 548.0h0M619.7 551.8h0M616.1 547.5h0M628.2 551.5h0M623.7 547.5h0M613.1 546.2h0M628.9 549.8h0M627.4 548.7h0M625.5 548.3h0M623.7 546.5h0M632.1 554.5h0M628.4 554.6h0M638.4 553.8h0M630.3 553.2h0M619.1 554.8h0M628.0 555.2h0M633.7 547.2h0M630.8 553.3h0M629.5 551.2h0M627.3 555.0h0M638.2 546.8h0M637.8 547.2h0M630.6 554.0h0M606.9 548.8h0M633.8 550.9h0M617.9 547.1h0M616.1 550.9h0M636.3 555.2h0M636.1 553.2h0M637.8 552.6h0M626.1 547.7h0M616.4 550.5h0M634.4 550.3h0M609.7 554.6h0M634.9 555.2h0M603.6 550.8h0M628.5 552.5h0M627.2 545.8h0M626.8 551.4h0M620.8 545.8h0M635.4 549.0h0M637.9 551.6h0M632.6 555.0h0M634.1 554.2h0M630.8 549.6h0M630.5 550.6h0M632.8 553.3h0M627.3 551.9h0M622.8 554.8h0" stroke="#c5d0da" stroke-opacity="0.6" stroke-width="2.4" stroke-linecap="round" fill="none" clip-path="url(#clipE)"/>
<path d="M626.6 555.0h0M632.7 549.2h0M627.1 545.9h0M632.6 548.0h0M607.5 551.0h0M635.1 554.7h0M635.2 551.5h0M632.8 548.4h0M631.8 547.3h0M623.7 548.7h0M637.9 551.9h0M632.3 554.3h0M629.3 550.0h0M638.8 549.7h0M637.7 546.6h0M631.2 546.7h0M631.1 547.5h0M606.6 549.9h0M616.5 552.0h0M636.4 549.1h0M635.4 547.4h0M632.3 546.8h0M632.3 555.0h0M619.1 550.2h0M631.4 552.1h0M622.6 549.3h0M632.5 548.1h0M630.5 555.0h0M626.2 551.4h0M627.9 546.7h0M627.5 546.1h0M633.9 554.6h0M633.5 550.4h0M622.9 549.7h0M637.1 550.0h0M609.8 553.0h0M628.1 548.6h0M618.9 546.6h0M628.4 546.9h0M630.8 546.5h0M632.9 548.4h0M626.1 549.1h0M604.8 552.3h0M631.1 548.8h0M632.6 551.9h0M631.1 547.7h0M629.8 552.9h0M632.0 554.6h0M632.3 553.3h0M622.1 548.8h0M633.6 546.6h0M624.5 552.8h0M635.0 548.5h0M625.5 552.0h0M606.8 546.9h0M632.3 546.4h0M634.0 552.5h0M622.0 547.0h0M627.2 548.2h0M625.0 546.2h0M631.2 547.6h0M633.8 546.2h0M629.9 547.0h0M637.5 548.8h0M636.7 554.5h0M607.6 551.0h0M634.7 551.7h0M624.8 550.6h0M626.0 550.5h0M624.8 552.9h0M631.9 551.4h0M632.6 554.1h0M632.0 554.4h0M638.8 549.3h0M631.7 551.2h0M627.0 553.4h0M626.7 555.2h0M632.6 548.1h0M624.1 550.3h0M632.8 552.7h0M628.9 553.2h0M590.2 552.7h0M611.2 553.1h0M621.4 552.5h0M631.6 550.7h0M631.0 550.4h0M637.5 551.2h0M631.4 548.0h0M632.6 552.9h0M623.9 549.9h0M630.2 551.2h0M634.1 551.7h0M630.4 548.6h0M624.9 553.0h0M625.5 552.7h0M636.5 552.9h0M627.9 546.7h0M634.5 550.9h0M637.7 553.5h0M592.5 546.9h0M630.9 553.9h0M618.4 553.3h0M638.3 553.2h0M620.8 546.9h0M625.2 548.4h0M635.5 550.3h0M634.1 549.3h0M623.6 552.8h0M631.5 549.4h0M622.1 549.2h0M623.5 550.4h0M626.4 547.9h0M638.3 547.5h0M607.6 553.7h0M627.8 552.8h0M628.7 549.2h0M632.9 553.6h0M613.2 550.0h0M633.8 553.8h0M633.3 548.4h0M604.8 549.8h0M637.2 555.1h0M630.8 548.3h0M628.6 551.6h0M614.1 551.1h0M632.3 548.2h0" stroke="#c5d0da" stroke-opacity="0.6" stroke-width="2.4" stroke-linecap="round" fill="none" clip-path="url(#clipE)"/>
<path d="M623.6 461.3h0M630.7 418.7h0M630.5 406.0h0M622.7 411.0h0M622.8 458.5h0M614.0 526.3h0M630.2 378.3h0M614.3 483.6h0M619.3 472.0h0M630.0 532.1h0M629.3 430.4h0M621.4 423.3h0M627.1 447.2h0M630.7 514.5h0M631.7 487.0h0M629.0 534.8h0M623.9 490.8h0M614.5 500.1h0M621.1 450.1h0M631.2 445.7h0M630.4 372.0h0M625.8 526.6h0M620.3 539.2h0M625.2 413.3h0M630.5 491.2h0M628.3 382.2h0M629.0 545.1h0M630.9 436.4h0M626.9 425.1h0M626.3 447.2h0M614.7 437.4h0M608.3 477.1h0M617.9 460.8h0M628.3 410.8h0M610.2 537.5h0M631.4 500.6h0M629.8 529.8h0M631.1 382.9h0M611.4 390.9h0M614.0 497.1h0M628.4 481.3h0M620.7 399.0h0M623.9 514.6h0M625.1 430.4h0M629.2 429.7h0M630.8 427.8h0M631.1 450.1h0M626.5 432.1h0M628.4 453.3h0M630.7 468.0h0M602.2 416.6h0M623.6 406.3h0M605.2 477.2h0M604.4 513.6h0M627.2 454.9h0M631.3 495.5h0M630.9 460.8h0M629.6 443.7h0M631.9 534.9h0M623.9 504.3h0M624.5 526.8h0M613.2 494.3h0M630.8 455.2h0M628.3 503.2h0M631.3 486.7h0M621.2 495.1h0M621.2 470.2h0M627.7 506.2h0M630.3 506.1h0M630.7 457.5h0M623.1 436.6h0M625.5 520.5h0M631.7 536.8h0M628.9 425.8h0M627.5 497.5h0M621.1 510.6h0M631.6 490.4h0M631.7 506.4h0M629.4 378.9h0M629.9 494.8h0M600.7 411.7h0M624.3 436.2h0M628.3 458.2h0M625.6 531.5h0M606.5 446.2h0M607.5 490.2h0M589.1 443.9h0M623.7 388.9h0M624.1 474.7h0M615.2 404.7h0M620.7 527.3h0M624.3 407.8h0M485.1 398.1h0M610.2 527.7h0M622.9 474.6h0M623.4 405.7h0M628.2 359.9h0M594.2 520.5h0M630.8 535.4h0M612.9 537.6h0M617.2 498.1h0M626.8 377.5h0M621.5 509.0h0M623.8 497.1h0M625.2 431.7h0M618.1 422.2h0M623.1 510.4h0M626.3 455.6h0M617.8 489.4h0M624.2 465.2h0M619.8 524.0h0M624.2 384.8h0M622.7 467.5h0M604.1 488.1h0M610.4 472.1h0M616.1 535.6h0M622.3 519.8h0M631.3 441.4h0M611.5 541.9h0M587.6 403.9h0M622.5 387.9h0M630.4 462.6h0M632.0 455.2h0M616.4 479.7h0M613.3 495.5h0M631.3 471.8h0M625.0 534.4h0M630.5 474.3h0M631.3 460.1h0M629.7 538.2h0M630.3 499.2h0M631.2 516.5h0M624.6 470.9h0M626.1 387.8h0M622.6 515.9h0M624.2 476.7h0M631.6 430.2h0M616.8 419.8h0M623.1 439.1h0M616.8 499.7h0M611.0 402.8h0M626.2 440.7h0M624.4 450.2h0M608.5 410.4h0M626.3 480.7h0M610.7 498.5h0M628.3 368.4h0M631.0 449.2h0M621.4 540.8h0M610.5 536.4h0M632.0 383.3h0M626.7 486.4h0M616.1 487.5h0M622.8 451.7h0M615.1 462.7h0M613.9 508.7h0M622.4 435.1h0M630.1 438.3h0M597.8 387.4h0M590.6 387.9h0M626.6 470.8h0M631.0 440.4h0M627.5 543.4h0M631.5 407.0h0M612.2 443.6h0M623.3 543.5h0M607.3 503.7h0M627.6 435.6h0M620.6 534.2h0M626.8 428.6h0M622.4 468.2h0M628.5 508.5h0M631.1 515.0h0M625.7 397.9h0M616.1 515.6h0M628.2 536.1h0M626.9 457.9h0M631.3 473.2h0M616.5 512.0h0M619.1 412.7h0M598.4 460.0h0M629.7 460.1h0M631.2 425.4h0M624.3 494.6h0M626.8 457.7h0M628.2 485.4h0M628.3 520.7h0M631.7 487.2h0M611.2 492.6h0M617.4 492.0h0M606.6 410.1h0M629.9 441.1h0M610.6 488.5h0M626.6 503.1h0M612.2 533.3h0M626.9 430.1h0M595.5 537.0h0M621.2 501.6h0M610.1 460.4h0M621.9 532.4h0M604.0 475.7h0M623.2 359.5h0M629.0 478.7h0M625.3 474.2h0M600.7 401.8h0M624.1 492.2h0M622.8 413.5h0M609.6 384.7h0M611.9 497.6h0M621.8 477.9h0M631.9 498.4h0M622.2 378.4h0M619.1 384.4h0M631.8 521.9h0M616.6 402.8h0M620.7 403.4h0M631.6 433.6h0M630.7 521.4h0M625.5 541.4h0M624.1 531.5h0M630.3 411.4h0M605.5 537.9h0M626.0 378.2h0M629.2 518.7h0M623.0 406.3h0M630.2 535.0h0M631.5 447.7h0M628.1 537.2h0M605.1 502.7h0M616.7 511.5h0M620.5 478.8h0M628.2 416.9h0M623.3 490.3h0M623.3 412.1h0M630.7 522.7h0M612.2 517.6h0M622.6 524.6h0M600.3 386.9h0M626.3 420.0h0M622.3 497.0h0M630.1 533.0h0M620.6 476.4h0M631.8 545.1h0M631.8 466.3h0M631.5 501.8h0M621.0 538.2h0M632.0 527.5h0M631.2 414.3h0M631.9 517.1h0M623.2 461.2h0M628.8 434.5h0M625.7 530.7h0M630.5 466.4h0M628.4 477.8h0M624.6 488.8h0M628.6 446.9h0M578.2 375.6h0M632.0 544.8h0M630.3 402.3h0M615.4 395.0h0M618.8 468.5h0M625.9 456.8h0M609.6 527.8h0M620.8 439.5h0M627.8 507.5h0M631.7 463.7h0M621.5 376.7h0M625.5 539.9h0M611.6 532.9h0M617.7 536.0h0M625.5 472.8h0M618.5 485.4h0M631.0 414.5h0M592.8 474.7h0M631.2 462.8h0M614.6 471.3h0M610.3 460.3h0M627.9 477.8h0M619.6 413.6h0M629.5 496.5h0M630.4 492.7h0M609.2 399.9h0M622.3 461.8h0M629.9 526.2h0M630.4 406.1h0M606.4 493.5h0M624.7 432.9h0M617.0 395.8h0M627.1 459.0h0M615.0 440.5h0M597.1 485.0h0M631.1 453.6h0M621.2 493.1h0M626.0 517.1h0M597.6 466.5h0M631.0 531.1h0M626.5 412.3h0M620.6 453.2h0M591.2 498.7h0M630.2 507.0h0M627.8 429.3h0M630.5 535.6h0M629.0 400.9h0M630.4 525.7h0M627.5 541.8h0M609.3 512.9h0M612.6 431.6h0M611.9 541.1h0M603.8 525.1h0M627.5 464.6h0M621.3 492.5h0M630.3 500.9h0M619.9 406.2h0M629.4 428.9h0M625.8 494.6h0M630.5 419.5h0M629.3 459.5h0M629.9 446.8h0M613.3 508.1h0M630.5 458.4h0M627.8 447.1h0M622.9 438.0h0M626.5 477.7h0M620.4 446.8h0M630.5 514.3h0M622.9 488.7h0M631.6 544.2h0M620.4 492.9h0M622.7 532.9h0M632.0 503.3h0M625.8 452.7h0M625.5 378.1h0M629.4 430.7h0M626.4 483.3h0M595.5 398.6h0M631.0 383.7h0M625.5 492.7h0M629.8 413.1h0M631.4 532.9h0M631.2 395.7h0M618.6 448.8h0M629.8 396.1h0M615.2 514.4h0M630.7 393.9h0M628.3 412.7h0M628.5 454.6h0M626.5 471.4h0M629.4 449.3h0M629.8 507.1h0M626.0 402.0h0M631.7 474.4h0M627.4 468.9h0M631.7 384.1h0M631.3 456.3h0M625.7 431.4h0M630.6 441.3h0M630.6 360.5h0M607.8 448.1h0M624.9 414.9h0M631.7 481.6h0M581.2 425.0h0M630.3 374.2h0M621.0 422.0h0M628.5 506.5h0M629.4 528.0h0M594.6 532.2h0M630.0 520.7h0M624.9 469.2h0M611.4 543.3h0M627.7 474.3h0M630.8 444.4h0M619.6 417.9h0M621.0 445.4h0M627.9 523.8h0M629.9 536.4h0M618.1 442.1h0M630.5 400.8h0M627.9 428.3h0M631.0 512.1h0M591.7 511.9h0M631.7 451.1h0M630.6 421.7h0M610.0 487.1h0M605.4 468.6h0M621.0 466.4h0M631.6 375.1h0M622.0 514.5h0M630.0 479.5h0M628.1 469.1h0M624.2 457.3h0M629.2 490.3h0M597.3 401.4h0M618.5 521.0h0M622.4 506.1h0M623.2 441.9h0M628.0 417.9h0M628.4 526.5h0M627.3 516.5h0M631.4 436.5h0M621.0 456.6h0M626.9 403.7h0M612.7 487.6h0M631.8 500.3h0M630.8 510.0h0M626.1 490.7h0M628.2 492.8h0M623.6 525.2h0M608.2 372.8h0M622.7 449.5h0M601.1 521.9h0M623.6 528.0h0M625.1 474.9h0M629.4 484.3h0M619.3 480.8h0M583.7 360.7h0M606.5 493.6h0M630.3 415.2h0M625.3 533.9h0M628.0 524.1h0M629.6 416.0h0M627.4 523.1h0M629.0 514.6h0M616.3 484.3h0M612.8 380.9h0M609.1 460.5h0M625.3 481.3h0M627.5 513.4h0M608.0 529.8h0M611.7 422.3h0M627.4 511.6h0M631.0 475.2h0M630.3 390.0h0M626.0 427.8h0M623.8 481.6h0M631.7 512.1h0M629.5 381.3h0M601.7 389.3h0M631.9 518.0h0M621.1 522.1h0M627.1 373.4h0M631.1 413.4h0M611.7 501.4h0M627.8 432.6h0M620.4 516.1h0M628.3 421.1h0M592.5 458.6h0M629.0 456.7h0M627.0 471.3h0M624.9 406.7h0M628.5 467.8h0M603.7 413.7h0M596.1 379.0h0M631.6 484.4h0M624.6 474.9h0M629.7 518.6h0M543.7 409.3h0M624.6 525.3h0M630.0 529.1h0M617.0 535.6h0M628.6 529.4h0M624.7 442.3h0M613.8 491.5h0M618.3 408.0h0M612.7 468.4h0M610.1 413.0h0M619.2 474.3h0M594.8 423.5h0M622.6 535.2h0M544.4 407.2h0M611.6 491.7h0M630.0 427.7h0M629.4 520.0h0M600.9 364.5h0M631.3 499.2h0M622.7 457.5h0M629.1 470.6h0M625.9 450.4h0M556.1 418.9h0M628.4 397.2h0M619.8 429.4h0M621.2 404.7h0M631.4 444.6h0M617.4 518.1h0M628.7 488.0h0M627.2 446.8h0M627.2 441.8h0M613.6 507.2h0M628.0 462.2h0M630.8 385.3h0M629.0 430.4h0M628.7 392.6h0M620.2 480.0h0M628.9 490.5h0M624.3 458.7h0M627.1 521.2h0M626.6 489.7h0M618.1 390.8h0M629.6 527.1h0M630.6 498.1h0M631.2 377.3h0M609.7 411.9h0M631.1 476.3h0M627.2 457.7h0M628.8 527.1h0M631.6 484.9h0M628.0 502.7h0M627.6 492.5h0M627.2 425.5h0M604.5 362.8h0M621.0 464.0h0M601.7 379.2h0M630.9 523.4h0M629.5 422.9h0M619.4 521.5h0M629.7 506.6h0M617.9 426.3h0M613.3 446.6h0M623.0 498.4h0M627.4 407.6h0M622.3 417.2h0M621.2 512.0h0M631.2 394.3h0M630.7 424.0h0M628.7 512.8h0M629.3 393.5h0M621.4 387.9h0M626.7 450.0h0M629.0 439.1h0M629.8 492.9h0M627.5 465.5h0M631.6 495.7h0M619.5 439.2h0M618.2 506.5h0M622.7 440.9h0M610.3 474.5h0M625.8 498.3h0M621.9 495.2h0M631.8 537.4h0M624.1 506.0h0M627.9 485.9h0M626.1 390.0h0M631.9 465.1h0M618.9 530.4h0M595.4 536.3h0M631.3 431.3h0M622.0 506.1h0M624.6 532.2h0M625.2 427.8h0M621.8 385.3h0M627.4 473.1h0M621.1 527.3h0M626.6 487.9h0M631.0 522.8h0M622.2 412.1h0M620.2 422.2h0M625.4 523.7h0M609.5 470.8h0M615.3 473.2h0M630.5 539.2h0M601.0 411.4h0M620.5 524.1h0M631.3 460.8h0M618.7 474.3h0M631.2 431.4h0M622.6 464.0h0M628.5 469.8h0M614.3 462.0h0M631.2 381.5h0M629.2 389.3h0M628.0 410.6h0M631.3 449.2h0M623.6 506.3h0M612.0 495.4h0M619.3 497.7h0M619.1 424.4h0M599.0 504.5h0M626.4 496.2h0M628.4 511.3h0M619.4 457.8h0M625.9 499.8h0M622.9 492.7h0M630.7 500.5h0M619.4 470.5h0M624.9 404.2h0M631.7 474.8h0M624.6 463.6h0M620.0 544.8h0M630.4 397.0h0M619.0 454.2h0M619.7 454.8h0M598.0 430.5h0M625.0 423.5h0M632.0 451.2h0M625.2 452.8h0M630.9 476.7h0M625.6 441.9h0M630.4 443.3h0M617.8 485.7h0M629.3 435.3h0M602.0 494.0h0M630.1 458.9h0M624.7 381.7h0M626.4 410.8h0M631.7 515.1h0M630.6 399.4h0M620.5 500.4h0M627.0 486.6h0M629.5 381.6h0M604.7 438.8h0M629.2 495.0h0M623.2 529.9h0M626.6 466.5h0M629.8 487.2h0M627.0 507.2h0M630.1 443.3h0M618.6 486.9h0M630.5 443.1h0M623.5 491.7h0M610.3 423.0h0M631.9 491.8h0M615.0 495.6h0M578.9 394.1h0M631.8 445.4h0M631.8 527.0h0M621.7 435.6h0M617.4 400.2h0M625.4 487.2h0M626.4 456.2h0M629.5 528.6h0M628.8 447.9h0M625.2 472.6h0M612.4 519.7h0M622.2 492.6h0M631.7 520.8h0M629.4 461.4h0M625.9 396.8h0M616.9 484.5h0M631.6 502.5h0M625.0 467.0h0M619.7 416.5h0M628.0 395.4h0M621.7 537.8h0M631.0 458.0h0M630.2 395.5h0M600.4 394.6h0M630.7 473.9h0M630.9 534.9h0M630.2 448.1h0M631.6 504.7h0M611.5 482.9h0M623.7 498.6h0M630.5 500.4h0M605.3 513.6h0M628.8 519.0h0M631.1 455.4h0M629.7 477.9h0M613.7 400.5h0M628.0 518.5h0M629.7 445.6h0M626.0 476.5h0M629.8 528.7h0M615.7 544.4h0M625.9 416.1h0M631.5 434.2h0M627.5 365.3h0M621.3 516.1h0M611.6 490.6h0M609.9 464.9h0M622.0 519.0h0M629.0 392.6h0M631.5 542.4h0M606.4 422.3h0M629.6 517.8h0M625.7 504.1h0M612.0 435.8h0M608.1 403.1h0M617.3 457.1h0M594.6 395.6h0M632.0 505.1h0M628.7 390.8h0M618.8 404.0h0M630.3 472.1h0M630.6 528.0h0M632.0 465.6h0M631.0 504.5h0M630.8 494.6h0M631.4 493.1h0M616.8 474.6h0M627.6 542.1h0M631.8 493.2h0M617.2 499.3h0M626.0 455.4h0M623.2 459.9h0M621.8 503.2h0M627.8 518.6h0M628.4 490.5h0M613.9 525.0h0M618.4 519.7h0M622.6 532.6h0M618.1 490.2h0M629.7 398.8h0M627.3 388.2h0M632.0 534.9h0M630.9 494.9h0M622.9 533.5h0M630.3 536.7h0M616.9 500.1h0M629.5 465.2h0M614.2 525.1h0M619.3 488.5h0M607.9 482.2h0M630.0 507.0h0M617.0 453.1h0M622.9 486.8h0M621.6 449.0h0M618.7 387.1h0M631.0 457.2h0M627.4 448.0h0M631.9 468.7h0M631.6 459.9h0M624.1 409.1h0M618.2 504.3h0M627.7 445.8h0M620.6 436.2h0M616.9 448.4h0M628.7 412.0h0M623.1 457.4h0M614.7 476.8h0M615.8 428.0h0M617.6 405.3h0M621.7 534.3h0M624.3 521.0h0M629.7 459.6h0M626.2 421.1h0M612.2 486.0h0M629.1 482.7h0M624.6 451.3h0M631.7 459.7h0M605.0 525.9h0M623.3 478.9h0M628.1 537.8h0M617.4 517.0h0M603.9 507.3h0M630.5 536.6h0M626.6 416.6h0M619.9 514.8h0M630.5 544.8h0M612.2 416.0h0M612.1 426.1h0M624.9 507.2h0M614.6 456.2h0M620.9 532.9h0M621.9 503.2h0M618.7 533.3h0M630.1 524.1h0M625.2 417.6h0M631.8 433.2h0M631.7 517.2h0M611.9 480.9h0M627.6 435.1h0M627.7 364.9h0M629.4 475.1h0M625.3 399.1h0M631.8 466.5h0M630.7 543.8h0M610.1 436.6h0M586.6 391.3h0M626.5 480.0h0M629.3 407.5h0M625.4 438.4h0M631.1 528.1h0M620.9 400.1h0M629.8 498.9h0M623.5 458.8h0M626.3 526.5h0M627.3 470.0h0M624.6 464.7h0M617.3 446.8h0M630.8 501.3h0M622.6 396.6h0M621.1 527.1h0M618.6 367.1h0M630.5 431.8h0M631.2 496.3h0M628.8 429.9h0M624.1 478.2h0M626.4 470.1h0M620.4 416.3h0M609.8 417.3h0M628.9 393.5h0M606.1 534.6h0M622.7 455.4h0M627.3 532.1h0M625.0 370.5h0M623.0 471.6h0M619.0 478.7h0M621.7 449.2h0M628.4 427.5h0M624.7 444.5h0M626.5 506.0h0M598.8 375.5h0M623.9 462.1h0M624.0 381.4h0M625.3 379.2h0M623.0 488.0h0M613.4 403.1h0M627.7 428.6h0M626.5 495.4h0M625.4 501.2h0M631.0 513.1h0M631.8 382.4h0M627.9 468.3h0M631.0 465.9h0M618.9 446.0h0M615.9 528.8h0M613.7 504.2h0M618.9 516.6h0M628.2 519.3h0M588.2 388.7h0M626.8 524.3h0M631.4 450.8h0M630.3 415.8h0M626.7 486.9h0M630.6 383.3h0M631.3 457.6h0M587.0 438.9h0M601.8 493.6h0M593.7 400.1h0M625.7 365.1h0M629.7 473.5h0M632.0 512.1h0M629.2 522.9h0M631.4 537.9h0M629.9 409.3h0M625.0 480.0h0M625.2 399.8h0M629.4 463.3h0M627.5 518.7h0M632.0 513.5h0M627.6 375.4h0M619.4 452.6h0M613.8 455.6h0M623.5 490.7h0M627.7 368.8h0M630.8 490.0h0M621.1 543.8h0M575.4 410.9h0M625.5 456.8h0M622.0 474.4h0M630.2 402.6h0M626.4 484.4h0M622.4 393.5h0M620.4 539.6h0M605.6 436.5h0M628.7 473.7h0M585.7 441.9h0M619.9 382.1h0M630.3 517.0h0M631.3 475.9h0M624.9 482.2h0M616.4 544.6h0M625.5 453.4h0M610.7 407.1h0M631.9 514.5h0M631.6 464.8h0M628.8 504.2h0M630.5 389.3h0M628.0 378.9h0M622.5 462.0h0M616.5 484.3h0M612.0 504.4h0M631.2 488.8h0M625.3 452.7h0M630.5 459.7h0M625.6 542.1h0M575.2 380.1h0M625.8 492.9h0M630.1 510.2h0M626.0 470.0h0M610.3 412.3h0M622.3 451.4h0M623.9 476.4h0M630.5 442.5h0M621.1 452.2h0M628.4 440.3h0M616.1 539.8h0M626.2 480.8h0M628.9 469.6h0M631.2 471.5h0M615.2 473.8h0M617.1 430.7h0M624.8 462.6h0M607.8 411.3h0M611.9 469.0h0M609.3 492.4h0M622.5 417.2h0M630.6 494.9h0M629.6 402.8h0M631.5 456.6h0M605.1 481.9h0M630.3 472.4h0M618.6 520.8h0M627.0 433.2h0M606.3 512.6h0M614.6 375.8h0M631.1 424.9h0M630.0 390.4h0M629.4 518.8h0M631.3 474.9h0M630.0 467.2h0M626.5 543.8h0M629.2 471.9h0M627.8 512.0h0M628.7 399.5h0M611.2 430.1h0M617.7 416.8h0M606.1 480.4h0M624.1 423.9h0M625.3 391.0h0M629.8 453.0h0M603.8 454.7h0M631.5 477.7h0M621.1 441.1h0M629.3 438.8h0M624.5 537.4h0M618.9 428.6h0M624.9 523.2h0M630.9 513.6h0M621.7 518.2h0M630.3 543.2h0M616.4 473.1h0M620.6 466.5h0M629.0 418.4h0M611.5 456.8h0M626.8 505.3h0M629.7 493.7h0M630.1 405.6h0M628.9 378.5h0M623.8 528.5h0M629.4 386.2h0M630.2 455.6h0M617.3 428.3h0M627.2 387.4h0M627.7 486.8h0M620.1 540.6h0M625.4 403.4h0M629.1 418.3h0M628.7 500.7h0M625.3 394.1h0M630.7 509.2h0M629.9 373.2h0M631.4 461.0h0M617.4 496.0h0M609.4 480.8h0M618.2 451.7h0M615.2 488.1h0M622.9 513.8h0M631.8 432.2h0M624.7 513.7h0M628.2 382.4h0M601.0 413.4h0M626.9 409.9h0M631.2 420.4h0M625.0 448.4h0M627.8 542.6h0M624.5 403.9h0M599.2 469.7h0M631.8 501.4h0M627.2 444.5h0M616.5 524.6h0M625.4 370.9h0M631.9 522.8h0M624.2 480.6h0M630.3 451.1h0M621.0 379.2h0M617.1 396.0h0M631.8 473.4h0M583.6 469.3h0M620.5 439.7h0M628.5 504.4h0M622.9 520.6h0M626.3 393.6h0M629.8 411.5h0M624.7 473.8h0M630.5 535.3h0M628.9 407.3h0M592.2 469.7h0M631.0 507.3h0M626.7 452.6h0M631.2 393.8h0M631.3 506.5h0M628.9 509.5h0M625.1 464.8h0M630.1 384.2h0M616.5 448.4h0M631.0 493.2h0M617.8 535.2h0M630.7 398.7h0M618.9 545.0h0M619.3 458.9h0M618.4 401.0h0M620.9 501.2h0M607.9 472.8h0M631.2 405.5h0M631.8 487.0h0M630.2 448.7h0M626.5 478.3h0M617.7 364.4h0M630.1 452.6h0M624.9 478.6h0M630.5 396.7h0M631.4 522.5h0M629.5 523.6h0M629.6 473.0h0M630.4 406.2h0M615.7 471.7h0M624.4 507.3h0M602.6 429.4h0M628.6 520.6h0M612.9 424.6h0M629.0 443.9h0M627.3 400.2h0M630.0 498.8h0M628.7 514.7h0M629.9 506.8h0M629.5 520.9h0M631.5 486.4h0M628.3 393.8h0M624.7 457.7h0M631.6 419.4h0M631.4 404.2h0M596.8 508.3h0M627.1 489.9h0M622.1 544.2h0M620.1 515.4h0M624.5 538.0h0M617.8 421.6h0M631.3 482.9h0M609.2 430.4h0M622.9 438.4h0M630.9 436.2h0M627.3 527.6h0M622.6 493.2h0M631.9 505.5h0M616.2 418.8h0M627.1 543.7h0M630.8 519.2h0M592.4 422.5h0M629.3 507.8h0M624.0 475.4h0M627.2 507.8h0M621.3 438.2h0M629.6 543.3h0M609.3 472.6h0M626.5 466.0h0M628.7 521.2h0M606.4 397.7h0M630.2 438.5h0M631.8 473.4h0M629.0 533.7h0M620.2 509.8h0M605.2 459.5h0M616.9 476.1h0M611.6 487.8h0M622.5 460.8h0M625.4 439.0h0M623.0 471.1h0M626.7 495.9h0M618.3 526.6h0M627.2 517.0h0M630.7 410.7h0M631.0 505.2h0M607.0 518.2h0M631.2 472.3h0M627.5 371.9h0M621.7 488.5h0M628.7 446.6h0M607.8 427.1h0M629.1 540.8h0M625.7 520.0h0M629.6 511.9h0M617.1 441.4h0M631.1 470.1h0M628.4 413.8h0M622.2 455.0h0M630.5 501.1h0M631.7 482.8h0M618.8 399.4h0M629.3 431.7h0M624.4 518.6h0M605.4 418.5h0M631.5 495.2h0M599.5 437.3h0M610.2 393.2h0M617.6 461.3h0M632.0 406.1h0M595.8 532.4h0M625.7 520.6h0M617.8 478.3h0M631.4 428.0h0M627.0 503.6h0M621.4 484.0h0M631.6 466.3h0M627.0 422.8h0M627.1 496.5h0M628.6 394.7h0M628.7 470.6h0M627.7 504.6h0M630.1 363.0h0M627.9 462.8h0M617.7 503.3h0M618.9 427.6h0M518.1 367.9h0M624.2 429.8h0M632.0 406.1h0M623.9 527.1h0M593.7 428.6h0M619.6 466.7h0M632.0 435.4h0M632.0 451.9h0M626.1 449.7h0M614.5 463.7h0M627.8 423.9h0M620.9 468.7h0M629.1 437.1h0M627.6 509.9h0M624.5 518.4h0M630.3 456.6h0M626.5 470.3h0M626.4 465.1h0M627.6 447.7h0M629.1 445.2h0M626.5 409.6h0M632.0 465.8h0M630.9 436.6h0M624.9 398.2h0M623.6 472.9h0M630.5 452.5h0M629.9 385.6h0M629.0 363.0h0M609.3 544.9h0M614.6 537.0h0M626.2 386.2h0M624.3 462.1h0M631.8 426.5h0M628.4 411.7h0M627.8 446.3h0M627.9 516.5h0M629.6 415.8h0M617.8 493.4h0M611.6 476.2h0M629.8 485.4h0M611.3 406.3h0M626.7 459.8h0M628.6 532.9h0M627.7 426.8h0M616.7 507.9h0M622.0 398.8h0M627.2 488.5h0M612.7 388.2h0M625.8 534.0h0M629.0 507.9h0M628.4 495.7h0M625.5 523.2h0M630.1 490.9h0M626.7 512.5h0M619.0 382.1h0M627.6 428.5h0M631.9 507.1h0M623.1 396.0h0M611.5 523.7h0M628.2 536.3h0M625.6 440.1h0M627.3 442.6h0M564.9 392.4h0M619.4 464.5h0M628.6 474.7h0M627.5 494.8h0M580.6 424.5h0M621.8 400.3h0M628.1 373.6h0M631.1 452.0h0M609.9 461.0h0M625.1 405.4h0M584.8 509.9h0M630.0 392.1h0M631.8 396.1h0M612.8 516.5h0M619.6 505.9h0M623.2 434.6h0M618.9 474.8h0M614.3 507.7h0M630.8 400.8h0M623.0 495.3h0M620.4 527.2h0M629.3 487.5h0M627.5 403.2h0M617.6 429.2h0M621.2 406.6h0M618.8 462.8h0M618.1 537.0h0M631.0 519.2h0M629.1 424.0h0M624.2 447.3h0M630.6 502.3h0M616.3 503.6h0M623.2 399.3h0M620.3 501.9h0M630.8 477.3h0M624.5 470.1h0M619.8 459.6h0M618.1 520.6h0M631.7 505.5h0M629.4 469.8h0M630.6 503.5h0M608.7 511.0h0M624.2 500.2h0M594.2 487.9h0M621.4 394.9h0M627.9 489.2h0M631.2 511.3h0M609.7 543.6h0M630.6 402.7h0M625.1 422.6h0M616.7 426.8h0M614.4 451.0h0M630.6 406.4h0M597.1 415.8h0M623.0 416.9h0M600.9 533.5h0M628.9 506.5h0M631.6 432.6h0M628.8 491.3h0M609.4 510.6h0M628.0 384.0h0M625.9 529.3h0M623.9 532.2h0M630.4 496.6h0M625.1 500.5h0M623.3 531.6h0M620.8 537.0h0M622.8 471.9h0M610.9 467.7h0M627.7 527.9h0M630.0 455.3h0M623.1 541.9h0M628.4 496.6h0M625.4 471.7h0M625.8 474.9h0M627.5 507.7h0M613.3 480.0h0M622.2 476.9h0M554.4 371.0h0M627.3 386.1h0M623.5 446.8h0M629.4 455.6h0M631.9 518.9h0M622.3 409.9h0M620.2 535.4h0M625.2 537.2h0M628.6 447.5h0M629.6 533.5h0M625.6 524.3h0M618.5 455.1h0M631.4 427.2h0M623.7 479.1h0M631.7 373.9h0M616.9 461.5h0M627.4 424.6h0M628.1 542.6h0M620.7 448.0h0M628.8 446.8h0M624.4 511.5h0M627.6 440.6h0M626.6 491.3h0M630.8 452.2h0M622.1 494.3h0M630.6 457.6h0M630.0 498.6h0M620.2 404.8h0M611.9 455.6h0M597.5 411.9h0M626.7 517.7h0M630.3 480.6h0M631.0 529.0h0M627.0 499.5h0M628.9 467.1h0M608.5 406.5h0M630.3 485.3h0M629.7 412.4h0M620.0 475.0h0M630.6 482.2h0M608.7 458.8h0M624.3 540.7h0M575.6 376.7h0M627.2 422.4h0M625.2 537.1h0M625.7 496.9h0M629.9 530.8h0M627.8 486.4h0M626.7 380.9h0M626.3 516.0h0M609.9 541.1h0M608.7 523.5h0M622.6 462.3h0M631.1 441.9h0M631.5 457.7h0M627.6 492.1h0M628.8 407.0h0M625.6 435.2h0M630.5 470.0h0M605.4 504.4h0M621.9 500.4h0M630.2 403.0h0M594.3 425.4h0M621.6 492.6h0" stroke="#4f6cbe" stroke-opacity="0.55" stroke-width="2.4" stroke-linecap="round" fill="none" clip-path="url(#clipE)"/>
<path d="M628.5 424.9h0M630.5 522.6h0M561.6 397.5h0M619.0 541.8h0M630.3 466.8h0M623.4 467.5h0M605.7 467.8h0M626.3 520.9h0M631.5 414.4h0M602.1 466.8h0M611.1 461.8h0M612.4 498.6h0M610.7 435.9h0M591.8 511.6h0M629.2 402.3h0M629.6 502.3h0M614.7 439.5h0M631.9 513.3h0M626.9 514.1h0M611.8 524.9h0M629.2 397.5h0M623.3 516.9h0M618.3 535.2h0M626.3 438.6h0M631.9 442.4h0M629.8 539.1h0M612.4 479.5h0M619.6 472.0h0M628.9 495.7h0M628.8 493.3h0M626.5 468.6h0M625.4 476.5h0M613.3 469.6h0M609.6 461.4h0M620.7 522.8h0M622.6 389.7h0M626.5 437.9h0M629.7 486.4h0M618.9 508.9h0M617.9 500.7h0M630.9 388.2h0M620.9 392.3h0M599.6 507.5h0M625.3 515.4h0M611.3 398.1h0M631.9 449.3h0M621.3 517.7h0M620.2 522.2h0M626.8 481.8h0M617.1 405.0h0M624.5 443.4h0M629.2 391.6h0M616.9 478.5h0M629.6 409.1h0M630.4 495.4h0M624.8 523.5h0M622.7 506.4h0M620.1 500.6h0M603.4 408.6h0M625.8 545.3h0M627.4 471.1h0M627.1 458.0h0M626.2 521.4h0M631.0 474.1h0M603.9 496.5h0M623.0 417.5h0M627.6 440.8h0M620.5 406.9h0M620.4 529.2h0M628.1 448.5h0M625.1 538.4h0M621.5 461.5h0M623.6 479.4h0M631.9 386.2h0M615.8 529.7h0M621.1 539.1h0M626.9 485.8h0M614.3 514.8h0M586.5 386.4h0M626.8 410.0h0M625.9 494.5h0M618.6 436.3h0M618.2 389.0h0M627.7 441.1h0M613.9 460.8h0M626.0 531.1h0M614.0 448.8h0M622.8 398.9h0M628.3 517.5h0M625.5 476.1h0M628.9 443.8h0M626.1 479.9h0M605.7 475.9h0M625.0 544.3h0M628.1 482.1h0M612.1 466.0h0M620.9 524.2h0M631.8 417.8h0M631.2 406.3h0M625.7 439.4h0M595.9 541.5h0M602.9 438.0h0M624.8 422.5h0M628.6 520.3h0M600.3 399.9h0M589.7 438.4h0M629.3 447.9h0M620.2 473.8h0M628.1 474.4h0M619.0 508.8h0M630.3 511.3h0M630.2 468.7h0M626.6 511.8h0M619.9 438.1h0M604.4 478.5h0M631.8 384.6h0M624.3 510.5h0M630.7 407.3h0M631.3 409.5h0M625.3 495.2h0M627.9 502.3h0M625.3 477.4h0M616.0 540.5h0M613.8 420.1h0M629.3 489.6h0M619.2 531.8h0M626.8 377.5h0M626.7 502.4h0M631.2 519.2h0M630.8 410.0h0M630.4 413.5h0M631.4 376.1h0M631.0 470.2h0M612.8 519.5h0M630.8 523.7h0M622.0 539.1h0M631.0 506.3h0M630.8 432.3h0M629.8 510.1h0M609.2 442.3h0M630.2 506.5h0M631.1 544.1h0M628.3 503.4h0M625.1 477.6h0M624.0 505.0h0M626.4 509.7h0M623.5 513.6h0M631.0 448.3h0M626.1 527.4h0M595.3 373.5h0M627.8 498.8h0M621.6 513.8h0M625.4 458.3h0M623.9 380.0h0M617.4 439.0h0M630.2 383.3h0M613.2 484.0h0M624.3 402.1h0M629.5 543.0h0M607.6 543.0h0M631.2 465.6h0M617.0 540.1h0M631.4 401.5h0M601.1 489.0h0M628.3 434.8h0M624.2 434.7h0M546.2 426.7h0M626.3 468.3h0M620.6 532.9h0M620.1 441.4h0M609.4 468.9h0M631.5 398.8h0M627.6 523.7h0M628.4 437.1h0M607.8 421.0h0M622.9 378.7h0M620.8 427.2h0M628.1 489.5h0M631.5 477.2h0M629.3 436.9h0M630.2 441.8h0M615.5 373.3h0M630.3 481.8h0M621.4 541.7h0M631.0 389.7h0M629.2 502.7h0M612.5 453.9h0M579.2 390.5h0M621.4 419.0h0M627.9 418.6h0M631.3 417.3h0M622.5 418.3h0M622.7 511.7h0M626.6 437.6h0M620.2 526.1h0M629.3 494.4h0M631.4 542.7h0M629.2 435.0h0M622.8 496.3h0M623.8 497.1h0M624.2 498.3h0M629.8 400.7h0M623.8 444.5h0M609.2 489.8h0M631.5 532.1h0M623.6 434.7h0M617.6 504.1h0M631.1 493.1h0M629.1 464.5h0M625.0 520.1h0M629.7 431.6h0M631.3 497.4h0M565.4 358.6h0M630.3 511.4h0M627.6 456.6h0M626.5 427.8h0M630.3 499.5h0M630.9 427.9h0M631.8 452.8h0M629.8 438.0h0M625.3 536.9h0M627.4 515.4h0M631.3 408.5h0M622.7 412.2h0M615.2 518.9h0M632.0 422.9h0M631.4 528.3h0M628.9 516.9h0M630.7 472.2h0M616.1 471.1h0M629.9 382.0h0M631.3 454.9h0M620.8 486.9h0M626.3 459.4h0M623.0 531.3h0M622.7 440.6h0M625.0 453.9h0M623.6 525.5h0M627.3 490.3h0M611.3 429.5h0M627.6 506.3h0M627.9 492.6h0M630.9 455.9h0M631.4 438.0h0M628.5 414.5h0M621.4 409.5h0M631.6 475.4h0M627.9 390.8h0M629.5 500.8h0M610.2 535.3h0M630.9 365.8h0M622.3 527.8h0M622.9 497.5h0M630.8 472.4h0M558.7 407.6h0M625.5 535.1h0M626.3 533.4h0M611.2 519.9h0M630.2 414.5h0M628.5 389.4h0M631.8 451.8h0M629.6 359.5h0M609.7 457.7h0M608.2 402.6h0M628.8 538.4h0M625.9 484.9h0M592.2 484.7h0M630.0 469.9h0M618.4 451.8h0M600.9 465.1h0M625.4 541.2h0M631.4 481.0h0M621.7 501.1h0M603.3 388.7h0M614.4 417.4h0M631.2 483.2h0M629.3 443.0h0M617.5 445.5h0M630.5 491.0h0M628.2 502.1h0M626.1 485.5h0M610.1 392.0h0M626.1 394.5h0M616.7 427.4h0M624.4 400.2h0M617.7 518.3h0M630.5 497.3h0M628.1 390.7h0M630.9 362.1h0M620.6 536.4h0M589.8 511.5h0M629.6 537.8h0M627.9 489.6h0M619.6 396.8h0M629.2 514.2h0M610.1 530.8h0M618.9 524.6h0M592.3 524.8h0M625.9 475.4h0M630.1 527.9h0M594.0 531.3h0M617.2 515.4h0M630.3 482.4h0M631.9 420.2h0M630.3 497.9h0M616.3 454.3h0M631.0 493.4h0M631.4 537.6h0M617.4 479.6h0M616.4 374.9h0M628.5 413.7h0M629.5 506.6h0M621.0 453.1h0M591.9 462.1h0M627.5 421.4h0M631.3 413.2h0M617.8 412.6h0M623.4 535.9h0M629.9 469.0h0M628.0 455.1h0M627.6 434.9h0M629.0 479.6h0M611.9 530.6h0M600.7 456.9h0M591.1 429.7h0M628.9 480.4h0M629.7 456.7h0M622.3 479.7h0M612.2 534.3h0M622.9 385.8h0M626.0 518.7h0M614.0 452.1h0M625.6 501.6h0M626.9 516.6h0M628.6 527.2h0M630.0 361.2h0M607.9 450.7h0M628.7 495.1h0M626.8 499.3h0M630.6 525.7h0M627.6 501.1h0M618.5 404.7h0M600.5 489.8h0M629.1 540.4h0M623.0 497.3h0M628.9 487.8h0M616.2 395.5h0M631.4 378.8h0M620.2 463.1h0M630.9 374.5h0M614.7 523.2h0M630.0 508.9h0M588.8 401.9h0M614.0 437.5h0M631.1 480.8h0M617.4 500.9h0M623.8 505.0h0M621.3 402.0h0M629.9 522.5h0M621.5 457.9h0M628.3 490.3h0M618.8 483.5h0M628.8 457.9h0M628.1 530.3h0M628.1 459.9h0M630.1 542.1h0M626.7 479.9h0M619.1 482.1h0M559.4 398.5h0M628.7 390.2h0M629.8 398.6h0M602.2 539.3h0M627.4 449.9h0M607.7 509.6h0M631.6 435.3h0M620.5 482.2h0M630.9 398.9h0M629.9 503.3h0M609.6 361.5h0M629.7 527.9h0M615.1 460.6h0M630.9 482.4h0M622.4 544.3h0M624.3 480.6h0M628.4 530.2h0M628.5 534.3h0M631.8 388.7h0M630.9 456.6h0M630.0 507.9h0M607.6 529.3h0M630.2 458.5h0M604.3 375.3h0M624.0 362.0h0M628.7 391.6h0M603.3 491.8h0M628.4 539.6h0M600.4 446.5h0M626.5 490.2h0M627.5 437.3h0M629.4 404.5h0M629.2 487.0h0M619.5 392.3h0M629.9 401.3h0M624.7 539.4h0M624.7 517.9h0M616.3 481.5h0M629.6 437.4h0M626.2 466.9h0M628.5 526.7h0M614.8 509.5h0M625.4 535.7h0M601.9 413.4h0M595.0 540.2h0M631.1 397.4h0M631.9 436.6h0M629.4 418.1h0M604.7 460.4h0M630.9 490.5h0M594.6 373.7h0M621.0 513.4h0M630.8 536.4h0M622.1 538.1h0M619.7 401.9h0M629.6 487.4h0M630.0 431.7h0M629.2 495.6h0M618.3 472.3h0M615.1 496.6h0M613.9 412.1h0M613.2 517.8h0M619.6 528.7h0M631.2 374.4h0M607.2 413.1h0M587.7 429.9h0M612.6 499.7h0M600.8 452.9h0M626.2 387.7h0M627.6 412.0h0M620.0 524.2h0M627.5 532.5h0M621.5 409.3h0M629.6 457.4h0M621.2 512.8h0M622.3 461.7h0M620.4 439.3h0M628.8 449.6h0M631.9 521.4h0M626.2 467.7h0M631.4 495.4h0M618.5 412.1h0M621.4 533.4h0M624.9 439.8h0M615.9 395.4h0M631.5 410.2h0M612.4 453.1h0M630.3 458.9h0M625.4 520.0h0M608.5 402.2h0M628.8 528.9h0M623.8 461.5h0M628.1 378.9h0M623.8 402.2h0M612.7 436.1h0M610.2 435.8h0M629.4 523.7h0M626.8 463.1h0M614.6 453.9h0M627.0 381.8h0M629.3 527.0h0M621.0 529.7h0M624.8 417.1h0M604.7 506.4h0M618.3 437.5h0M628.1 453.9h0M630.0 478.6h0M617.3 404.7h0M619.5 523.0h0M621.6 532.8h0M631.0 417.6h0M631.9 375.7h0M624.8 535.3h0M624.5 386.0h0M618.4 478.4h0M629.9 433.8h0M625.2 506.5h0M630.9 540.8h0M631.9 391.9h0M626.6 372.9h0M628.6 475.7h0M624.9 531.1h0M619.0 473.8h0M605.6 515.1h0M621.9 406.1h0M594.4 414.5h0M629.8 489.3h0M622.3 491.8h0M629.2 508.1h0M615.9 537.3h0M621.7 503.5h0M631.0 475.4h0M620.4 490.3h0M623.0 493.2h0M631.3 466.6h0M628.7 363.6h0M583.9 399.3h0M627.4 501.7h0M627.7 431.7h0M594.8 373.7h0M626.8 458.3h0M622.0 474.7h0M619.9 498.9h0M631.6 388.0h0M618.5 542.8h0M606.3 465.3h0M632.0 484.6h0M627.3 439.8h0M631.9 403.6h0M618.7 515.5h0M630.2 422.0h0M630.5 384.8h0M625.9 465.2h0M622.3 504.9h0M627.8 445.5h0M631.0 481.2h0M617.7 538.6h0M626.7 524.5h0M621.2 529.4h0M621.8 486.5h0M612.7 503.3h0M631.8 524.0h0M629.3 418.8h0M628.1 372.2h0M625.2 457.2h0M602.8 359.8h0M628.1 406.7h0M617.3 436.5h0M624.9 460.3h0M619.6 498.7h0M603.7 522.4h0M627.2 399.7h0M631.9 427.9h0M631.8 450.1h0M630.1 418.3h0M626.8 431.4h0M591.8 448.7h0M606.5 542.3h0M542.8 362.1h0M630.0 534.2h0M631.0 490.6h0M630.9 528.3h0M620.2 421.3h0M628.4 447.6h0M628.3 464.6h0M630.4 451.1h0M626.8 481.3h0M612.2 451.4h0M607.0 426.9h0M619.3 480.6h0M622.2 441.2h0M610.6 523.1h0M631.6 426.7h0M626.5 498.1h0M607.8 459.1h0M605.2 444.0h0M629.3 523.3h0M626.9 449.3h0M624.8 414.8h0M604.8 543.6h0M630.8 463.0h0M620.5 494.7h0M626.4 509.7h0M624.5 517.7h0M627.8 500.5h0M627.7 427.1h0M579.0 417.8h0M589.2 457.1h0M628.3 465.7h0M624.1 460.5h0M619.8 526.1h0M629.0 477.0h0M604.7 540.8h0M618.8 491.2h0M630.7 394.6h0M626.7 499.6h0M621.1 408.5h0M621.3 431.1h0M615.2 480.2h0M608.6 438.0h0M630.2 469.9h0M627.4 527.6h0M626.6 468.9h0M582.1 451.5h0M612.4 536.6h0M621.9 517.2h0M615.8 501.1h0M626.6 529.5h0M631.2 434.4h0M615.4 434.3h0M628.2 472.3h0M630.6 414.0h0M630.9 403.4h0M630.3 492.3h0M631.0 514.0h0M629.7 469.9h0M627.7 382.6h0M619.6 439.4h0M626.4 516.6h0M622.8 440.0h0M631.9 500.2h0M606.3 487.6h0M628.6 503.4h0M622.0 524.0h0M605.5 447.9h0M617.0 457.0h0M584.6 469.1h0M617.2 459.5h0M630.9 515.7h0M627.1 475.9h0M622.9 382.8h0M630.9 490.7h0M627.2 501.7h0M622.8 511.9h0M628.3 437.5h0M627.5 496.3h0M617.8 413.2h0M629.5 407.8h0M626.9 542.2h0M624.3 521.6h0M624.9 488.8h0M595.5 362.4h0M628.9 482.8h0M628.6 454.3h0M631.1 464.2h0M622.5 492.3h0M626.1 426.1h0M591.4 494.6h0M597.3 504.9h0M630.0 460.5h0M617.3 531.5h0M628.3 502.7h0M625.4 474.2h0M624.6 489.5h0M630.3 414.8h0M623.2 454.7h0M581.4 484.7h0M617.6 481.3h0M622.6 538.7h0M624.5 537.6h0M569.7 444.0h0M630.7 509.3h0M622.2 467.8h0M631.8 459.2h0M625.4 472.0h0M628.2 468.0h0M610.6 490.1h0M619.0 480.4h0M625.3 452.9h0M619.9 537.3h0M616.0 488.9h0M618.2 363.9h0M624.7 459.2h0M628.4 390.9h0M618.9 438.0h0M632.0 492.7h0M610.3 522.2h0M616.1 514.1h0M628.4 441.7h0M607.8 437.0h0M605.6 459.5h0M629.4 507.9h0M628.4 443.2h0M631.9 433.8h0M631.1 503.3h0M617.4 460.2h0M612.8 484.6h0M624.5 432.2h0M630.9 420.1h0M601.0 397.9h0M624.2 483.4h0M630.2 482.4h0M620.7 455.8h0M628.5 431.2h0M625.1 541.1h0M595.3 444.1h0M622.3 383.5h0M630.2 450.7h0M631.8 532.8h0M630.7 438.5h0M623.0 462.9h0M617.2 542.6h0M629.8 430.9h0M622.8 472.1h0M603.8 374.1h0M626.1 486.8h0M625.8 465.1h0M619.3 457.6h0M581.5 458.9h0M620.3 390.2h0M631.2 448.0h0M612.9 429.7h0M621.2 515.2h0M621.4 534.6h0M629.8 509.0h0M630.9 396.5h0M620.6 510.3h0M627.2 505.1h0M619.8 524.3h0M622.1 513.6h0M614.3 479.7h0M632.0 499.8h0M623.3 536.0h0M626.7 509.9h0M621.0 467.3h0M625.6 477.6h0M605.7 473.3h0M624.3 538.2h0M616.8 531.8h0M625.0 454.9h0M630.1 430.9h0M616.6 494.1h0M626.0 502.2h0M612.3 481.0h0M611.4 391.2h0M625.9 469.6h0M623.0 530.4h0M622.2 534.2h0M630.3 367.1h0M632.0 483.7h0M591.8 469.7h0M618.6 428.5h0M629.9 483.6h0M630.2 483.9h0M621.2 481.9h0M628.4 516.0h0M628.8 526.1h0M626.6 435.4h0M623.7 392.9h0M619.8 504.8h0M624.1 540.0h0M622.9 527.1h0M630.9 381.9h0M631.6 479.5h0M624.8 452.9h0M592.5 545.0h0M628.6 415.6h0M619.3 466.1h0M625.7 535.7h0M608.1 412.6h0M614.8 429.4h0M629.7 442.8h0M630.7 385.6h0M626.9 390.9h0M629.1 429.2h0M628.9 420.6h0M631.5 441.8h0M626.2 531.6h0M610.9 397.7h0M626.0 368.9h0M626.1 508.8h0M615.9 484.7h0M622.5 466.2h0M608.0 524.1h0M627.8 466.9h0M623.0 392.2h0M628.0 407.2h0M602.1 493.7h0M625.0 487.1h0M624.6 515.9h0M532.6 390.6h0M602.9 471.3h0M620.1 422.0h0M619.5 487.8h0M621.8 531.2h0M609.6 508.4h0M611.6 520.5h0M631.3 507.0h0M598.2 357.8h0M618.8 439.5h0M631.6 454.6h0M625.1 452.4h0M613.6 474.4h0M631.4 409.5h0M629.2 460.5h0M625.9 518.9h0M628.6 506.5h0M632.0 510.0h0M596.3 544.1h0M630.3 495.2h0M614.9 521.2h0M629.7 543.5h0M629.9 521.8h0M628.7 378.6h0M628.8 408.6h0M628.7 420.4h0M622.7 485.0h0M628.9 535.3h0M630.3 472.2h0M616.2 483.4h0M631.7 543.1h0M628.2 501.9h0M626.0 534.4h0M619.4 447.6h0M630.2 527.2h0M617.7 453.1h0M631.1 471.8h0M631.9 519.3h0M627.2 527.5h0M622.5 465.5h0M631.0 522.9h0M629.6 404.1h0M623.9 531.0h0M629.2 487.8h0M628.9 517.2h0M615.7 442.5h0M612.9 415.9h0M622.5 465.2h0M623.1 466.4h0M624.7 396.2h0M623.6 475.3h0M618.5 395.6h0M631.7 540.4h0M612.4 465.1h0M619.3 394.3h0M630.7 420.5h0M625.2 411.8h0M625.2 508.8h0M631.8 382.0h0M628.5 470.7h0M631.0 453.0h0M610.8 452.8h0M628.6 471.9h0M618.9 543.1h0M624.1 515.1h0M631.1 535.9h0M631.9 536.4h0M628.6 525.6h0M631.6 533.0h0M627.3 472.4h0M629.3 498.4h0M622.9 513.2h0M629.6 488.7h0M601.5 407.1h0M614.3 418.9h0M626.5 481.2h0M629.5 414.7h0M614.4 522.0h0M629.1 440.0h0M623.1 527.4h0M631.9 509.1h0M629.8 495.8h0M624.3 373.1h0M616.6 460.8h0M607.0 534.6h0M621.5 440.7h0M628.0 405.9h0M630.0 506.1h0M629.8 528.4h0M621.5 512.0h0M615.5 526.5h0M629.2 473.9h0M610.8 417.4h0M615.3 505.5h0M605.6 398.4h0M625.3 433.9h0M589.7 505.2h0M630.6 440.1h0M607.7 384.7h0M623.1 510.8h0M469.6 364.1h0M624.8 433.9h0M629.2 406.9h0M630.4 460.8h0M620.1 484.1h0M628.6 413.2h0M631.7 441.3h0M622.8 445.2h0M606.8 512.4h0M624.4 392.9h0M592.7 516.9h0M630.0 446.8h0M624.4 400.7h0M630.5 502.8h0M631.1 449.7h0M624.0 407.8h0M604.2 513.9h0M602.1 454.4h0M627.9 450.5h0M630.9 431.0h0M629.1 450.6h0M602.2 412.7h0M536.0 374.7h0M631.1 417.1h0M625.3 515.0h0M617.0 497.7h0M630.8 511.9h0M631.3 522.8h0M625.2 531.0h0M625.2 400.2h0M624.0 388.2h0M619.5 531.2h0M609.8 469.2h0M624.5 444.7h0M627.3 505.7h0M630.8 400.5h0M624.7 482.4h0M630.6 489.1h0M616.8 411.1h0M629.7 511.4h0M631.4 412.4h0M629.3 471.7h0M630.4 443.6h0M604.0 360.2h0M628.3 511.3h0M629.8 494.1h0M631.7 489.3h0M629.2 455.9h0M631.4 446.4h0M630.4 413.5h0M621.3 387.9h0M629.2 427.3h0M617.5 532.0h0M621.2 524.1h0M624.2 414.4h0M612.5 437.5h0M614.8 514.4h0M595.3 491.6h0M628.5 431.5h0M622.8 518.4h0M631.2 400.0h0M622.3 520.7h0M626.7 531.8h0M611.1 538.4h0M629.5 467.0h0M626.7 474.0h0M618.0 431.3h0M608.3 373.8h0M631.0 439.1h0M631.8 528.5h0M624.9 391.1h0M610.1 496.3h0M621.2 519.7h0M618.4 466.5h0M612.1 456.5h0M611.0 539.1h0M621.0 434.1h0M626.3 431.3h0M615.7 417.9h0M628.6 425.4h0M620.9 511.7h0M627.5 450.1h0M621.0 480.7h0M625.3 483.9h0M628.9 451.1h0M619.8 518.1h0M626.4 398.3h0M626.5 480.4h0M623.7 416.3h0M622.7 398.2h0M631.6 414.1h0M630.8 512.5h0M631.7 539.4h0M608.0 374.7h0M607.4 430.5h0M624.4 396.3h0M631.5 368.6h0M630.9 422.2h0M617.4 482.3h0M631.3 483.0h0M630.9 446.8h0M568.4 388.9h0M624.3 426.8h0M627.7 395.3h0M605.0 405.4h0M623.1 460.1h0M630.5 496.8h0M631.6 371.2h0M629.7 413.1h0M626.1 465.4h0M602.6 406.0h0M619.1 503.7h0M623.9 464.4h0M630.7 497.9h0M569.0 445.6h0M618.5 521.0h0M625.5 372.7h0M630.1 540.2h0M560.2 406.6h0M603.5 473.1h0M629.3 409.2h0M617.9 515.2h0M625.1 445.2h0M611.0 519.3h0M617.0 525.0h0M624.3 472.5h0M628.6 442.9h0M630.1 528.4h0M625.7 504.3h0M631.6 467.5h0M631.6 469.4h0M603.5 503.9h0M626.5 488.4h0M629.5 460.8h0M627.7 477.0h0M630.9 422.9h0M631.8 421.3h0M585.5 478.5h0M612.2 419.1h0M631.2 525.3h0M627.9 456.1h0M626.9 456.5h0M619.8 544.8h0M620.5 523.3h0M616.6 450.1h0M630.7 509.9h0M624.6 466.2h0M610.5 469.4h0M628.8 521.9h0M631.9 486.0h0M625.5 494.4h0M611.1 498.4h0M628.4 463.4h0M630.9 429.4h0M555.9 388.3h0M593.8 378.7h0M629.8 444.1h0M616.8 446.6h0M626.6 467.7h0M631.8 449.6h0M630.1 382.9h0M628.6 478.3h0M611.6 472.0h0M606.0 457.1h0M631.5 438.7h0M623.3 398.5h0M630.4 508.2h0M620.0 497.8h0M622.6 413.6h0M630.2 486.1h0M597.3 513.3h0M626.5 484.0h0M619.3 451.1h0M630.6 507.3h0M632.0 423.0h0M627.1 523.9h0M618.9 454.6h0M623.1 468.0h0M628.6 533.6h0M625.1 464.7h0M626.1 493.8h0M623.8 523.1h0M574.6 397.1h0M628.1 412.4h0M628.9 485.1h0M566.9 439.1h0M630.9 516.6h0M630.6 374.5h0M613.1 540.5h0M585.5 373.7h0M628.9 531.0h0M631.3 503.5h0M604.9 494.2h0M629.1 521.7h0M626.6 383.2h0M624.3 478.6h0M625.0 459.1h0M620.3 413.5h0M630.4 529.5h0M587.0 388.4h0M629.3 459.9h0M624.7 405.6h0M629.1 436.9h0M614.2 544.4h0M611.1 529.4h0M625.7 447.1h0M611.7 429.0h0M629.3 475.1h0M618.2 402.4h0M628.9 455.7h0M618.6 491.4h0M631.9 383.2h0M625.8 434.9h0M625.2 408.8h0M626.3 441.0h0M609.2 520.8h0M623.9 430.6h0M627.9 447.3h0M624.9 373.8h0M631.0 371.2h0M612.6 489.6h0M629.1 543.1h0M613.1 436.6h0M596.7 418.2h0M629.6 539.9h0M620.1 459.2h0M629.3 425.3h0M612.1 493.7h0M627.8 536.4h0M629.3 510.9h0M625.2 453.7h0M620.3 448.4h0M602.5 463.5h0M632.0 415.4h0M627.3 496.4h0M628.0 461.3h0M630.8 526.9h0M629.8 477.5h0M627.5 488.1h0M630.3 377.0h0M629.7 515.5h0M622.6 542.3h0M617.6 481.8h0M627.2 477.9h0M571.6 402.0h0M614.2 434.8h0M631.3 437.9h0M558.6 381.8h0M629.2 435.7h0M618.3 480.1h0M631.5 476.3h0M630.8 432.1h0M621.0 394.8h0M631.5 517.2h0M595.4 451.1h0M630.5 445.1h0M612.7 511.6h0M625.9 453.1h0M626.5 462.6h0M616.3 389.2h0M631.7 476.5h0M629.8 423.0h0M621.6 416.9h0M628.3 475.8h0M629.8 358.7h0M630.9 430.9h0M615.8 493.6h0M631.7 544.4h0M620.4 425.8h0M606.3 414.0h0M619.1 520.3h0M630.4 453.8h0M621.5 498.3h0M598.8 487.7h0M631.0 492.5h0M583.0 381.1h0M597.2 390.5h0M631.4 455.5h0M616.6 514.5h0M625.7 444.2h0M631.1 515.6h0M623.5 496.6h0M614.4 482.4h0M626.8 527.9h0M626.4 540.7h0M620.4 479.4h0M630.0 534.8h0M630.2 528.2h0M631.6 383.3h0M623.8 488.4h0M628.2 532.7h0M623.2 511.3h0M612.0 409.8h0M596.5 400.6h0M619.0 479.7h0M630.1 454.0h0M616.7 441.4h0M631.5 459.9h0M629.2 524.2h0M615.8 462.0h0M591.6 502.2h0M631.5 398.4h0M626.8 492.9h0M628.9 540.7h0M631.9 510.2h0M630.3 501.1h0M620.1 400.9h0M631.3 427.8h0M629.8 451.8h0M618.5 461.3h0M627.4 419.0h0M626.3 430.7h0M627.5 464.4h0M629.6 495.2h0M630.7 495.0h0M628.8 507.8h0M574.9 437.2h0M625.5 514.5h0M619.0 530.9h0M623.4 538.1h0M630.8 544.9h0M630.8 472.5h0M628.4 481.8h0M605.1 442.0h0M622.2 462.7h0M631.2 485.7h0M630.8 530.4h0M627.8 453.5h0M619.4 535.3h0M624.3 395.9h0M543.8 408.4h0M631.9 416.1h0M628.5 541.5h0M631.8 385.2h0M627.3 478.2h0M615.4 530.5h0M615.9 536.0h0M582.2 402.5h0M629.2 492.2h0M623.4 427.7h0M631.6 377.0h0M628.1 528.2h0M623.7 503.4h0M627.5 461.7h0M620.4 460.7h0M605.5 405.2h0M618.0 411.2h0M622.5 502.2h0M631.7 518.1h0M629.7 454.7h0M625.0 425.7h0M631.9 418.1h0M629.6 451.8h0M621.5 468.1h0M626.6 511.3h0M625.5 544.0h0M616.0 473.5h0M631.8 489.1h0M627.8 412.0h0M627.2 471.8h0M628.6 435.9h0M627.5 399.7h0M620.2 533.9h0M623.0 395.0h0M629.0 498.4h0M631.5 429.2h0M630.1 486.6h0M619.4 489.8h0M628.2 390.9h0M631.4 533.8h0M630.6 515.5h0M619.0 403.3h0M616.8 487.7h0M622.7 469.3h0M632.0 502.7h0M602.3 457.3h0M557.5 361.2h0M616.1 454.6h0M617.6 460.5h0M600.1 521.2h0M617.7 515.7h0M620.3 457.8h0M629.7 535.5h0M624.7 464.9h0M625.8 534.7h0M629.4 481.9h0M617.2 525.4h0M616.0 480.3h0M613.7 525.8h0M571.8 405.4h0M609.3 503.0h0M613.8 456.0h0M631.6 503.0h0M613.2 534.3h0M608.6 480.0h0M630.2 520.0h0M620.7 543.1h0M625.8 390.0h0M627.5 391.0h0M628.4 514.7h0M551.7 379.1h0M629.6 500.4h0M616.0 462.5h0M626.4 523.9h0M631.8 515.8h0M629.9 398.4h0M626.7 413.5h0M629.4 429.9h0M624.6 404.9h0M621.0 373.4h0M627.0 486.8h0M623.0 505.7h0M584.6 442.3h0M625.8 385.6h0M628.9 360.9h0M615.0 537.8h0M626.0 536.7h0M611.9 406.4h0M630.5 521.7h0M617.5 509.6h0M631.4 495.5h0M624.9 539.1h0M627.3 451.9h0M626.7 448.2h0M629.3 476.0h0M625.7 525.9h0M625.4 531.8h0M629.5 449.0h0M629.9 473.0h0M628.8 533.5h0M628.1 515.3h0M602.0 427.5h0M630.6 515.0h0M625.2 455.3h0M627.9 473.3h0M622.3 489.9h0M629.6 491.5h0M587.1 511.0h0M602.5 412.3h0M627.4 456.9h0M619.1 493.6h0M631.9 364.9h0M631.1 467.4h0M567.6 392.2h0M616.2 529.2h0M612.0 461.8h0M630.0 542.9h0" stroke="#4f6cbe" stroke-opacity="0.55" stroke-width="2.4" stroke-linecap="round" fill="none" clip-path="url(#clipE)"/>
<path d="M621.8 439.2h0M625.0 421.3h0M623.9 380.6h0M630.5 450.5h0M607.1 480.6h0M608.2 535.8h0M628.9 404.7h0M628.3 404.0h0M614.8 533.4h0M621.7 532.5h0M624.0 523.6h0M625.6 402.6h0M629.6 535.7h0M622.3 538.5h0M596.6 495.0h0M628.0 409.1h0M628.3 405.3h0M628.2 446.4h0M619.5 376.1h0M618.0 449.0h0M628.2 451.1h0M620.0 497.4h0M629.9 380.0h0M626.4 497.4h0M601.2 478.4h0M602.4 380.3h0M628.8 520.8h0M615.2 404.5h0M630.9 486.6h0M612.3 509.5h0M629.4 380.1h0M631.2 454.3h0M624.3 471.3h0M622.5 456.7h0M620.6 441.8h0M628.7 517.0h0M629.4 432.6h0M631.4 540.3h0M629.7 380.1h0M631.2 409.3h0M631.3 487.1h0M624.2 454.5h0M626.2 488.7h0M627.2 481.1h0M630.8 499.5h0M627.9 471.7h0M616.6 372.3h0M631.3 458.0h0M570.9 425.1h0M626.0 503.6h0M631.6 427.2h0M613.2 466.5h0M626.0 432.2h0M623.5 540.0h0M631.7 432.3h0M631.5 506.7h0M608.0 506.7h0M598.3 475.6h0M628.3 407.5h0M625.6 400.0h0M607.3 474.5h0M629.1 483.7h0M631.7 436.2h0M567.7 408.3h0M624.6 527.3h0M628.2 408.5h0M626.9 482.0h0M622.0 507.5h0M626.2 522.0h0M626.7 539.3h0M631.3 450.0h0M629.5 466.7h0M629.9 422.4h0M616.6 373.6h0M619.3 533.6h0M619.4 513.1h0M626.4 396.2h0M628.0 503.4h0M568.0 359.5h0M625.7 472.5h0M626.0 483.7h0M611.1 447.8h0M615.4 436.1h0M627.8 483.5h0M627.9 481.4h0M631.2 509.3h0M619.1 501.4h0M628.2 498.0h0M624.5 454.6h0M631.7 524.7h0M624.0 469.2h0M623.6 443.5h0M615.5 456.0h0M628.5 527.1h0M627.7 533.6h0M624.8 520.8h0M625.0 541.7h0M628.5 467.6h0M627.7 390.4h0M610.3 508.7h0M630.2 423.5h0M625.5 515.4h0M631.6 411.3h0M626.6 491.8h0M620.5 462.1h0M626.3 459.3h0M613.2 491.7h0M616.9 507.2h0M628.2 402.0h0M627.5 424.6h0M623.8 535.0h0M625.4 379.9h0M621.5 525.1h0M626.3 402.8h0M627.3 441.3h0M604.9 376.4h0M625.7 428.1h0M628.3 495.8h0M626.5 429.0h0M609.6 430.9h0M620.1 489.9h0M610.2 537.2h0M623.8 478.5h0M593.9 438.1h0M617.4 463.6h0M625.3 425.4h0M616.2 524.1h0M620.1 496.5h0M626.3 491.8h0M629.4 437.3h0M615.6 479.1h0M630.3 388.4h0M628.5 385.5h0M619.2 478.3h0M624.9 429.7h0M631.2 527.2h0M618.0 505.1h0M625.0 490.3h0M620.7 486.3h0M625.2 401.0h0M623.6 466.8h0M585.8 438.6h0M631.0 512.4h0M629.0 484.8h0M624.9 438.4h0M621.2 542.7h0M631.2 443.7h0M621.8 381.6h0M630.0 444.6h0M603.7 506.8h0M626.9 532.7h0M626.1 384.7h0M629.1 528.6h0M623.8 538.1h0M598.4 430.0h0M623.9 543.6h0M612.9 380.6h0M624.8 362.5h0M629.2 461.5h0M601.1 537.3h0M620.5 525.8h0M620.4 379.4h0M630.9 469.5h0M607.8 524.1h0M625.9 521.0h0M611.0 491.6h0M631.1 385.6h0M630.8 502.2h0M609.3 360.8h0M627.0 528.3h0M630.3 508.9h0M631.8 475.8h0M627.5 497.4h0M626.1 476.5h0M632.0 368.3h0M614.5 411.7h0M621.6 493.4h0M626.5 494.2h0M622.9 514.4h0M629.5 527.3h0M603.6 424.8h0M615.5 499.5h0M583.1 379.5h0M619.9 522.8h0M630.1 467.2h0M624.8 434.2h0M629.1 483.9h0M621.0 434.4h0M626.5 515.5h0M626.9 472.4h0M613.2 544.2h0M631.5 443.8h0M628.7 386.7h0M628.0 407.6h0M627.8 534.1h0M628.7 459.9h0M620.8 390.8h0M631.2 396.8h0M628.0 434.8h0M621.8 514.0h0M623.5 531.0h0M609.6 385.3h0M612.9 457.7h0M624.0 398.3h0M631.2 380.8h0M616.1 513.2h0M626.2 387.9h0M631.5 508.2h0M601.5 462.7h0M624.8 485.5h0M628.4 473.9h0M628.3 530.5h0M631.8 384.6h0M606.3 483.9h0M624.2 448.6h0M624.5 483.7h0M626.1 517.9h0M605.7 431.2h0M625.7 477.6h0M629.0 464.7h0M623.9 387.0h0M620.7 516.2h0M630.9 518.9h0M621.1 402.4h0M613.4 401.0h0M621.3 494.2h0M628.2 508.5h0M623.1 444.6h0M604.5 409.4h0M612.0 476.9h0M624.7 544.7h0M630.3 514.1h0M626.0 514.4h0M627.0 408.2h0M604.2 513.6h0M612.9 443.2h0M613.6 379.2h0M617.8 501.9h0M579.0 426.4h0M631.5 464.8h0M625.9 432.2h0M628.8 492.8h0M629.5 400.3h0M625.6 503.7h0M625.8 519.8h0M631.7 507.5h0M620.4 493.5h0M623.7 388.0h0M631.2 534.9h0M601.8 532.4h0M632.0 461.3h0M623.6 469.8h0M629.1 495.5h0M628.2 514.5h0M627.0 479.6h0M631.3 415.9h0M628.8 381.2h0M617.7 505.1h0M626.3 532.6h0M625.5 525.0h0M620.9 419.3h0M630.9 410.2h0M611.0 452.6h0M631.7 471.9h0M623.6 477.2h0M627.8 506.0h0M630.2 424.2h0M625.4 450.2h0M631.8 414.5h0M630.5 424.4h0M630.8 465.1h0M619.0 416.5h0M627.3 535.9h0M628.7 380.5h0M624.9 533.7h0M626.2 466.4h0M628.7 491.3h0M623.8 501.9h0M617.2 534.5h0M574.0 409.5h0M629.4 530.6h0M630.3 462.9h0M602.7 435.1h0M628.7 522.1h0M631.6 378.0h0M619.7 476.7h0M622.2 407.5h0M623.6 511.7h0M631.6 421.1h0M628.2 459.4h0M631.8 463.5h0M628.0 378.9h0M630.4 506.8h0M629.3 398.0h0M616.8 466.1h0M596.0 371.2h0M628.8 544.5h0M627.5 510.5h0M593.8 388.2h0M625.1 434.2h0M619.4 538.6h0M627.6 531.8h0M610.7 466.6h0M602.8 417.6h0M618.3 427.9h0M630.7 480.2h0M630.5 440.0h0M626.6 538.9h0M591.4 388.1h0M578.1 410.7h0M612.5 499.6h0M619.7 512.3h0M619.7 464.9h0M628.5 532.6h0M622.5 531.5h0M620.6 457.9h0M631.9 452.9h0M513.5 373.2h0M625.3 542.0h0M626.8 483.8h0M600.7 500.2h0M619.5 503.6h0M631.2 527.0h0M528.6 380.5h0M631.0 502.9h0M622.9 499.5h0M622.9 539.0h0M628.0 399.2h0M631.0 526.9h0M629.5 501.3h0M619.3 477.7h0M612.6 474.5h0M630.0 406.8h0M625.4 514.5h0M631.8 374.6h0M630.3 537.9h0M621.5 520.2h0M619.4 408.5h0M614.7 421.8h0M623.7 475.0h0M624.8 468.4h0M625.9 519.4h0M625.4 532.0h0M622.8 490.9h0M627.2 477.3h0M627.0 463.6h0M631.8 532.0h0M626.4 437.1h0M626.3 482.1h0M630.3 397.3h0M618.1 527.5h0M626.1 521.3h0M630.6 469.5h0M617.2 496.3h0M629.8 425.5h0M612.8 494.1h0M607.8 520.6h0M631.6 438.8h0M591.4 429.2h0M628.3 456.0h0M630.5 509.0h0M627.2 467.8h0M627.7 487.7h0M486.7 357.8h0M621.2 540.3h0M613.4 411.7h0M593.1 427.2h0M622.5 517.7h0M624.0 454.4h0M625.5 505.9h0M618.8 449.5h0M624.4 470.1h0M620.2 491.4h0M630.8 539.0h0M609.5 411.6h0M629.6 454.9h0M631.8 521.9h0M612.8 470.9h0M624.7 504.3h0M628.4 435.2h0M618.8 494.1h0M631.8 489.1h0M613.7 414.5h0M628.8 445.5h0M628.8 466.8h0M611.8 519.8h0M620.7 381.9h0M609.2 495.0h0M629.4 523.0h0M622.9 457.7h0M631.1 534.0h0M609.0 511.1h0M630.0 507.6h0M631.5 495.7h0M628.3 370.8h0M631.2 421.8h0M616.7 497.1h0M620.6 478.5h0M631.3 543.7h0M618.8 454.3h0M628.0 504.3h0M625.7 451.8h0M631.8 484.7h0M631.8 472.3h0M617.8 488.6h0M622.7 414.7h0M631.1 495.4h0M621.2 385.4h0M619.9 500.1h0M628.8 501.1h0M620.4 431.0h0M625.8 483.1h0M627.3 510.9h0M625.8 369.0h0M615.4 524.3h0M597.6 448.0h0M628.9 489.3h0M606.2 416.2h0M627.6 382.7h0M629.2 509.2h0M627.9 445.4h0M618.4 482.0h0M629.3 438.3h0M628.6 476.7h0M626.2 426.8h0M613.8 523.7h0M612.5 415.7h0M620.4 431.4h0M625.3 438.0h0M626.9 414.6h0M631.7 469.4h0M626.0 401.6h0M628.1 434.9h0M625.4 509.8h0M629.7 537.5h0M605.5 492.0h0M624.5 439.2h0M616.5 429.5h0M631.1 501.1h0M613.8 466.4h0M614.6 437.1h0M628.4 439.6h0M630.8 483.5h0M618.1 396.3h0M624.8 457.2h0M628.8 446.6h0M618.9 520.7h0M616.9 512.9h0M631.8 488.3h0M625.8 384.7h0M604.3 485.5h0M625.8 450.6h0M628.8 538.6h0M631.8 515.8h0M604.1 519.3h0M630.7 468.6h0M622.6 413.7h0M616.8 541.4h0M628.9 469.5h0M623.3 532.7h0M631.8 532.7h0M629.5 500.2h0M618.6 467.2h0M615.8 420.1h0M627.4 436.4h0M627.8 525.9h0M611.7 389.7h0M615.7 526.2h0M624.7 515.8h0M620.9 497.6h0M629.3 458.4h0M632.0 413.6h0M599.6 476.0h0M620.3 483.8h0M630.0 440.7h0M630.1 374.0h0M627.3 442.5h0M617.7 498.5h0M622.0 532.3h0M629.6 367.3h0M617.9 539.9h0M620.2 526.0h0M625.7 481.2h0M626.0 378.8h0M623.7 386.6h0M624.4 380.5h0M618.1 507.4h0M631.8 377.2h0M629.5 530.7h0M630.6 544.1h0M605.3 497.3h0M620.3 545.1h0M631.2 485.0h0M582.2 406.1h0M622.8 517.8h0M601.9 464.1h0M626.0 417.2h0M625.9 520.0h0M624.6 520.0h0M610.3 543.0h0M617.5 510.1h0M629.8 462.6h0M630.9 446.3h0M616.2 429.6h0M624.1 432.6h0M622.9 437.9h0M622.8 460.9h0M613.6 525.7h0M619.2 524.1h0M631.2 490.0h0M624.1 526.1h0M629.6 482.7h0M629.6 540.9h0M627.7 451.4h0M631.9 506.1h0M631.3 417.6h0M629.9 501.2h0M625.0 508.5h0M619.6 485.9h0M630.8 444.1h0M597.1 527.5h0M624.3 507.3h0M630.9 378.7h0M612.1 545.0h0M631.1 443.6h0M623.3 460.6h0M630.4 466.3h0M629.9 450.3h0M629.9 519.9h0M631.0 416.2h0M623.9 465.7h0M618.8 427.2h0M620.3 509.2h0M628.6 509.0h0M600.9 506.0h0M630.5 375.5h0M631.0 387.3h0M623.9 534.6h0M599.4 424.4h0M619.9 476.7h0M631.0 465.4h0M631.5 429.7h0M628.9 540.2h0M626.8 523.9h0M626.4 474.3h0M629.9 517.4h0M623.5 484.0h0M605.3 502.5h0M624.5 448.0h0M628.7 492.3h0M617.9 507.3h0M619.7 477.0h0M631.1 473.8h0M628.4 434.3h0M622.7 451.1h0M611.5 447.3h0M615.1 453.6h0M618.4 391.3h0M602.5 517.0h0M630.1 480.1h0M628.1 537.3h0M631.2 399.1h0M621.0 419.7h0M607.3 426.3h0M628.5 392.2h0M590.0 425.2h0M631.8 410.1h0M624.9 393.6h0M632.0 456.2h0M617.9 436.2h0M631.7 410.2h0M604.6 471.8h0M597.2 479.3h0M631.0 513.0h0M625.5 416.6h0M620.4 533.8h0M618.9 377.9h0M612.2 493.4h0M609.0 435.9h0M629.8 387.1h0M619.2 422.2h0M627.1 460.0h0M618.0 454.6h0M630.7 538.8h0M626.2 528.6h0M624.9 527.6h0M627.5 453.2h0M631.5 529.0h0M610.6 503.7h0M624.6 449.7h0M572.8 363.4h0M628.5 401.5h0M547.0 389.3h0M624.7 443.1h0M628.1 515.7h0M616.5 481.9h0M628.7 543.9h0M626.3 415.9h0M625.0 491.3h0M556.2 415.6h0M598.0 380.4h0M631.8 428.8h0M629.1 475.0h0M618.0 446.1h0M628.7 409.5h0M615.4 534.5h0M627.6 526.2h0M626.2 429.3h0M627.9 398.6h0M618.7 466.6h0M630.3 527.5h0M627.9 537.6h0M616.7 414.1h0M630.0 514.5h0M577.3 402.7h0M631.1 443.1h0M620.2 477.1h0M615.6 420.4h0M613.8 543.9h0M631.5 521.4h0M628.6 442.2h0M630.8 426.8h0M625.9 526.3h0M620.6 525.3h0M599.9 492.8h0M629.5 479.5h0M612.1 375.2h0M611.3 510.1h0M628.5 438.0h0M614.0 519.4h0M605.3 534.2h0M626.2 408.8h0M612.7 421.2h0M630.5 495.8h0M630.6 512.9h0M617.4 512.8h0M631.5 434.8h0M626.8 434.6h0M619.9 439.5h0M629.8 437.9h0M627.8 427.6h0M628.1 466.7h0M612.9 391.7h0M631.5 449.3h0M629.4 489.2h0M629.5 408.3h0M630.5 400.1h0M617.1 471.5h0M631.8 430.1h0M631.2 433.0h0M626.3 517.5h0M572.5 396.5h0M629.4 487.6h0M623.6 432.2h0M617.0 515.4h0M625.6 523.3h0M625.6 446.4h0M612.8 492.9h0M614.3 523.1h0M631.8 522.8h0M617.7 422.3h0M630.8 533.6h0M625.4 511.5h0M621.0 531.3h0M631.2 491.6h0M628.7 411.2h0M631.7 513.0h0M625.9 519.2h0M626.7 441.5h0M630.7 390.0h0M631.7 443.9h0M629.1 488.0h0M628.7 431.9h0M620.7 533.5h0M629.6 540.3h0M625.1 529.6h0M615.0 368.6h0M630.0 459.3h0M626.5 442.9h0M628.8 504.4h0M603.6 368.6h0M618.0 468.4h0M625.8 529.6h0M629.7 538.5h0M616.0 448.2h0M630.1 485.5h0M625.4 395.3h0M615.4 383.0h0M615.2 445.2h0M627.6 462.0h0M622.1 395.6h0M611.5 459.9h0M623.5 462.3h0M602.9 411.1h0M623.4 532.2h0M629.8 519.9h0M624.4 408.7h0M592.5 510.7h0M623.6 410.6h0M629.9 452.0h0M627.0 446.0h0M606.8 420.1h0M620.6 408.1h0M625.9 516.0h0M631.3 401.1h0M626.2 459.4h0M621.4 463.9h0M629.3 393.6h0M617.1 468.7h0M614.5 502.3h0M596.7 443.2h0M624.3 521.5h0M623.6 396.5h0M619.4 458.1h0M614.5 470.6h0M613.8 522.6h0M619.7 494.9h0M630.0 469.5h0M630.0 526.5h0M631.7 517.1h0M611.7 542.1h0M627.5 425.7h0M627.1 450.6h0M628.9 512.7h0M579.7 387.9h0M617.1 433.5h0M629.4 474.4h0M600.1 399.0h0M626.4 461.4h0M630.3 397.6h0M623.5 455.3h0M621.6 435.2h0M623.9 518.0h0M583.2 420.3h0M631.8 479.4h0M621.3 506.6h0M624.6 535.5h0M574.7 414.1h0M631.9 474.9h0M627.2 414.3h0M629.3 522.5h0M631.9 515.2h0M597.7 518.4h0M629.8 447.0h0M629.2 535.2h0M607.5 510.6h0M621.8 485.8h0M620.4 437.3h0M631.3 373.9h0M630.9 485.2h0M629.1 505.6h0M615.9 433.3h0M631.9 542.5h0M627.2 485.1h0M617.0 460.1h0M629.7 507.0h0M619.4 445.9h0M627.0 445.1h0M629.2 471.0h0M613.7 404.1h0M617.9 420.1h0M629.7 364.6h0M623.5 361.6h0M629.8 440.5h0M607.8 483.6h0M629.4 499.3h0M630.8 474.3h0M628.1 490.5h0M622.0 536.8h0M629.0 398.0h0M629.4 406.4h0M630.5 443.2h0M619.3 484.5h0M621.4 517.9h0M629.9 494.3h0M611.7 531.8h0M629.0 480.3h0M628.0 535.1h0M628.5 485.7h0M622.9 464.4h0M620.7 486.6h0M619.8 524.3h0M616.3 407.3h0M621.8 466.1h0M622.7 488.0h0M628.8 477.9h0M627.5 518.1h0M629.5 415.2h0M608.6 456.5h0M627.7 440.0h0M631.1 498.1h0M616.2 543.8h0M631.7 481.4h0M625.9 484.9h0M631.5 481.8h0M615.9 409.4h0M623.4 496.7h0M614.7 469.9h0M630.0 398.4h0M616.3 411.2h0M628.8 493.4h0M626.8 410.4h0M627.3 375.3h0M631.0 419.9h0M629.4 415.8h0M620.3 434.6h0M624.8 379.8h0M629.7 422.1h0M599.6 542.2h0M628.8 529.3h0M623.2 463.8h0M629.6 522.9h0M629.0 490.2h0M610.3 445.8h0M629.1 495.9h0M629.2 466.6h0M613.0 416.0h0M621.3 499.1h0M630.3 484.3h0M622.8 475.8h0M630.7 423.9h0M630.7 419.5h0M630.7 431.7h0M610.2 537.1h0M616.6 512.4h0M627.1 433.2h0M631.4 466.1h0M629.7 520.4h0M629.3 433.1h0M630.1 502.2h0M624.3 542.1h0M629.2 402.6h0M623.4 535.9h0M631.9 439.3h0M628.1 475.6h0M629.5 495.1h0M630.5 492.3h0M613.7 526.6h0M627.1 489.9h0M628.5 537.0h0M619.5 454.7h0M615.0 521.2h0M631.5 492.5h0M616.4 542.5h0M593.5 482.4h0M609.1 449.8h0M604.3 507.9h0M624.6 509.8h0M626.9 476.7h0M624.3 470.7h0M627.1 405.5h0M623.9 390.3h0M625.4 436.1h0M629.8 531.3h0M617.6 443.6h0M626.0 471.7h0M621.6 481.0h0M623.6 489.4h0M587.1 512.2h0M622.5 452.9h0M631.5 511.6h0M630.3 502.7h0M629.2 369.5h0M631.2 513.5h0M614.1 497.6h0M631.7 445.6h0M609.3 433.6h0M629.8 408.4h0M628.6 466.7h0M609.0 505.8h0M621.0 540.5h0M623.0 541.5h0M628.2 428.1h0M630.5 422.7h0M628.2 540.2h0M624.0 474.7h0M621.0 532.6h0M628.7 496.5h0M627.0 543.1h0M621.1 485.0h0M628.7 398.4h0M629.9 389.2h0M631.6 528.9h0M588.0 373.7h0M630.3 478.7h0M629.2 471.3h0M628.7 470.0h0M593.0 397.5h0M626.5 516.6h0M620.1 488.2h0M620.6 507.6h0M628.5 457.5h0M620.4 474.0h0M620.6 497.1h0M629.5 524.2h0M616.3 447.8h0M628.9 481.1h0M612.7 386.2h0M610.1 513.9h0M629.8 424.5h0M630.9 503.4h0M623.0 432.7h0M627.1 472.2h0M623.2 472.8h0M625.7 506.1h0M601.3 507.4h0M629.3 395.9h0M627.7 436.6h0M620.4 449.1h0M631.2 506.3h0M627.8 477.2h0M628.5 517.1h0M626.0 539.3h0M629.4 418.8h0M557.6 429.1h0M621.6 393.1h0M630.6 457.1h0M623.8 423.5h0M632.0 479.3h0M627.2 483.8h0M621.9 509.4h0M578.9 382.6h0M631.0 510.9h0M613.6 495.3h0M627.3 496.3h0M583.7 384.3h0M630.0 457.9h0M597.9 437.0h0M617.2 370.9h0M618.7 530.4h0M630.5 368.7h0M627.2 451.0h0M625.7 401.8h0M628.0 536.0h0M627.8 377.9h0M630.0 478.1h0M630.6 462.3h0M631.0 445.3h0M629.5 475.1h0M630.4 451.6h0M630.9 490.9h0M627.2 518.7h0M631.1 458.6h0M627.8 492.1h0M631.0 453.8h0M626.9 477.8h0M629.2 502.1h0M629.9 523.1h0M629.2 422.8h0M622.3 531.6h0M630.2 366.1h0M596.4 367.8h0M608.9 448.2h0M613.3 455.1h0M624.7 523.2h0M618.5 438.3h0M629.6 451.7h0M618.1 484.6h0M624.5 530.1h0M625.5 530.5h0M628.6 509.9h0M620.4 507.7h0M530.4 385.6h0M626.5 448.9h0M586.4 444.3h0M617.6 470.4h0M631.0 408.3h0M623.4 426.2h0M615.0 386.0h0M628.3 461.0h0M623.9 414.7h0M628.3 434.4h0M625.5 418.5h0M609.1 530.0h0M612.1 477.2h0M623.0 538.5h0M625.2 478.4h0M573.2 366.6h0M628.3 433.8h0M626.7 466.3h0M625.2 477.1h0M631.0 398.3h0M612.7 394.7h0M620.5 543.3h0M629.7 462.4h0M625.0 422.7h0M624.1 527.7h0M628.2 444.3h0M619.6 498.5h0M626.0 512.5h0M605.2 449.6h0M628.1 420.2h0M613.9 472.0h0M627.4 532.9h0M628.8 381.0h0M630.4 416.3h0M631.3 399.5h0M625.5 544.9h0M620.2 478.7h0M630.6 541.9h0M625.3 527.8h0M621.7 385.3h0M627.2 495.4h0M629.7 461.6h0M626.4 516.6h0M617.4 539.2h0M626.6 543.8h0M550.6 442.2h0M626.2 452.8h0M609.5 502.6h0M574.1 381.4h0M615.2 442.9h0M628.9 452.3h0M618.6 419.5h0M618.7 535.7h0M620.5 515.2h0M625.2 436.5h0M630.5 462.4h0M618.6 466.0h0M630.1 544.2h0M621.0 481.2h0M629.2 423.5h0M626.3 498.9h0M632.0 390.5h0M628.0 476.0h0M601.7 518.2h0M630.3 424.8h0M631.1 479.9h0M604.7 524.0h0M616.0 525.4h0M623.4 512.5h0M630.1 517.0h0M629.5 418.8h0M615.1 487.2h0M629.2 428.3h0M628.2 453.6h0M623.5 446.0h0M630.4 511.9h0M626.7 538.2h0M626.4 417.8h0M626.9 520.8h0M620.1 513.0h0M625.6 469.2h0M598.9 543.3h0M612.1 471.2h0M600.5 463.9h0M625.4 375.2h0M618.8 414.8h0M628.5 514.8h0M631.1 447.6h0M608.0 440.9h0M625.4 510.8h0M629.5 500.6h0M623.0 521.8h0M602.6 521.7h0M629.3 510.0h0M620.8 461.2h0M619.8 477.3h0M627.7 509.6h0M612.5 472.6h0M628.5 398.1h0M626.4 459.7h0M614.1 458.0h0M626.3 522.6h0M629.4 438.2h0M626.2 385.8h0M614.4 474.5h0M587.5 510.2h0M630.8 384.8h0M619.6 521.9h0M621.4 538.9h0M618.4 514.2h0M610.3 469.0h0M629.8 425.3h0M627.6 430.2h0M614.2 382.1h0M632.0 468.3h0M596.5 366.6h0M620.8 442.5h0M629.1 452.4h0M615.9 398.6h0M631.7 395.5h0M628.6 496.2h0M631.4 519.5h0M630.1 449.0h0M628.0 415.7h0M629.1 485.9h0M629.3 514.8h0M626.2 396.1h0M630.9 485.3h0M618.6 377.3h0M616.1 467.2h0M632.0 376.9h0M602.0 409.8h0M631.9 482.3h0M631.3 463.9h0M629.7 496.9h0M628.2 424.3h0M630.8 412.2h0M625.3 479.1h0M623.8 380.5h0M629.5 468.3h0M620.7 432.6h0M617.9 469.3h0M622.7 424.5h0M621.0 537.8h0M623.3 545.0h0M617.6 498.1h0M595.0 457.9h0M623.4 407.8h0M622.8 432.1h0M621.3 423.3h0M612.8 513.0h0M618.8 534.4h0M612.9 527.5h0M629.4 452.3h0M628.2 442.8h0M629.7 474.4h0M614.9 534.3h0M630.4 376.7h0M629.0 466.9h0M619.0 390.7h0M629.0 380.3h0M629.2 424.2h0M621.4 451.5h0M629.7 542.8h0M612.0 375.0h0M598.8 427.3h0M611.4 441.7h0M631.7 497.1h0M597.2 514.4h0M630.5 411.4h0M632.0 532.3h0M621.2 471.6h0M585.2 454.5h0M629.5 481.8h0M585.8 411.7h0M631.0 491.9h0M620.2 535.5h0M623.2 515.0h0M620.6 465.7h0M631.3 506.1h0M608.1 516.9h0M632.0 493.7h0M625.7 452.5h0M621.9 395.3h0M630.3 516.9h0M611.6 509.1h0M629.4 539.3h0M630.3 382.6h0M624.8 487.4h0M631.7 431.8h0M631.7 450.2h0M628.3 511.0h0M629.4 487.3h0M619.6 458.9h0M603.5 463.5h0M630.9 436.8h0M631.8 517.8h0M620.1 403.6h0M627.5 522.3h0M624.8 532.9h0M625.8 394.9h0M631.2 435.4h0M626.9 483.6h0M618.7 490.6h0M630.7 477.3h0M626.9 509.5h0M598.9 416.8h0M627.7 370.6h0M620.2 514.2h0M630.4 441.8h0M605.4 529.7h0M612.3 414.7h0M631.8 384.8h0M626.4 390.8h0M630.9 393.0h0M629.1 458.2h0M602.3 483.9h0M617.9 481.2h0M610.0 478.9h0M609.6 387.2h0M630.7 402.4h0M630.5 430.8h0M555.5 406.1h0M605.1 417.4h0M626.0 440.6h0M620.3 505.1h0M623.0 501.2h0M627.3 510.0h0M631.1 470.4h0M631.7 523.5h0M619.0 538.7h0M630.0 446.5h0M620.3 453.8h0M630.4 457.9h0M618.0 542.0h0M626.3 528.8h0M631.9 541.9h0M629.7 476.0h0M624.4 393.8h0M630.7 499.8h0M607.3 543.8h0M627.5 472.0h0M623.8 485.1h0M616.7 428.0h0M628.8 428.4h0M631.1 529.9h0M611.2 462.0h0M625.4 515.8h0M622.9 535.8h0M579.4 433.4h0M588.6 435.3h0M629.3 458.7h0M628.0 537.5h0M629.1 478.3h0M571.0 419.5h0M611.7 458.6h0M631.9 534.7h0M619.9 544.9h0M600.5 445.4h0M628.3 443.4h0M623.9 415.6h0M630.9 398.0h0M611.3 496.0h0M621.3 461.9h0M611.7 446.1h0M558.2 425.8h0M626.9 515.3h0M622.6 460.1h0M631.8 455.7h0M631.7 491.1h0M627.3 514.1h0M627.4 468.8h0M624.4 377.7h0M628.2 477.9h0M629.1 533.8h0M625.6 517.2h0M629.4 472.5h0M630.4 496.6h0M630.7 528.9h0M628.6 509.0h0M629.4 496.1h0M628.2 532.0h0M613.4 537.0h0M622.5 440.4h0M606.4 375.7h0M614.0 457.5h0M605.9 479.9h0M625.3 536.7h0M631.7 447.4h0M619.0 400.8h0M621.0 437.2h0M625.4 380.8h0M624.2 478.7h0M626.4 535.1h0M630.4 453.3h0M626.7 505.1h0M541.8 425.0h0M629.9 489.0h0M615.6 501.6h0M628.8 528.3h0M623.0 413.6h0M624.3 500.5h0M623.4 525.4h0M622.8 465.4h0M620.4 520.1h0M631.5 466.0h0M619.2 386.7h0M626.7 453.4h0M631.7 388.5h0M624.7 510.0h0M622.7 398.7h0M630.2 389.0h0M624.3 521.6h0M629.8 386.6h0M627.9 522.8h0M631.0 503.2h0M594.2 524.0h0M629.4 454.1h0M596.3 387.6h0M625.3 457.2h0M627.2 515.4h0M629.5 429.3h0M631.7 407.8h0M620.7 477.3h0M629.2 492.7h0M624.5 459.8h0M619.7 530.9h0M630.7 512.3h0M625.4 409.9h0M619.7 478.6h0M626.9 377.1h0M631.9 538.1h0M611.0 406.7h0M626.7 373.8h0M630.9 451.2h0M626.0 380.2h0M562.9 422.6h0M617.3 464.4h0M622.6 378.4h0M624.4 446.9h0M622.1 535.3h0M630.5 363.9h0M629.9 516.0h0M626.0 456.2h0M627.4 387.9h0M630.3 488.0h0M627.4 483.8h0M630.7 438.4h0M619.8 401.5h0M613.4 543.8h0M629.8 372.9h0M626.1 463.3h0M599.4 501.5h0" stroke="#4f6cbe" stroke-opacity="0.55" stroke-width="2.4" stroke-linecap="round" fill="none" clip-path="url(#clipE)"/>
<path d="M630.2 433.3h0M629.0 421.9h0M612.3 393.3h0M625.6 396.4h0M626.6 485.5h0M622.1 523.7h0M628.4 484.9h0M627.9 419.3h0M597.1 399.3h0M601.7 397.3h0M629.9 467.9h0M631.3 466.9h0M623.9 506.9h0M626.6 491.3h0M629.9 439.9h0M628.4 525.6h0M631.2 500.4h0M626.8 513.6h0M620.9 406.4h0M623.6 359.1h0M611.8 488.2h0M630.7 469.6h0M627.3 454.0h0M617.7 544.3h0M631.4 468.1h0M621.1 485.3h0M576.4 388.3h0M631.8 510.7h0M626.5 486.8h0M622.3 494.1h0M622.1 540.7h0M630.3 510.4h0M623.3 384.9h0M631.0 496.1h0M624.8 503.7h0M620.0 456.6h0M620.7 372.4h0M628.1 388.7h0M629.5 528.3h0M623.3 510.7h0M600.9 405.0h0M597.0 544.8h0M630.6 467.8h0M608.3 505.5h0M616.0 517.6h0M620.1 486.2h0M617.1 412.3h0M629.6 431.8h0M630.7 445.1h0M624.0 448.4h0M618.7 523.7h0M603.9 467.1h0M622.5 540.3h0M612.4 458.7h0M628.4 403.2h0M610.3 514.9h0M594.1 432.6h0M626.3 526.5h0M595.7 412.6h0M625.6 400.3h0M630.7 534.7h0M631.7 426.7h0M614.9 465.3h0M594.4 490.5h0M622.5 446.8h0M626.4 477.2h0M625.5 412.8h0M630.2 477.1h0M630.5 513.2h0M608.4 525.9h0M622.1 513.8h0M621.7 429.1h0M612.0 528.4h0M631.0 498.1h0M616.6 414.0h0M467.1 442.4h0M625.5 525.0h0M612.2 503.2h0M628.7 521.6h0M612.4 420.7h0M631.2 479.6h0M610.6 540.3h0M622.2 504.9h0M608.4 491.9h0M623.0 420.3h0M629.4 451.0h0M631.3 432.7h0M625.0 509.6h0M627.6 463.8h0M621.8 383.8h0M629.4 529.2h0M622.1 390.7h0M624.8 417.9h0M625.0 474.4h0M615.8 436.0h0M624.7 518.6h0M620.7 434.9h0M627.9 421.1h0M631.0 497.0h0M626.8 535.0h0M607.1 464.5h0M618.3 400.6h0M600.6 517.9h0M619.8 450.0h0M618.3 396.5h0M626.0 408.8h0M628.5 371.5h0M621.6 477.0h0M631.5 461.4h0M628.5 536.4h0M623.8 479.2h0M627.0 527.2h0M627.7 544.1h0M611.0 505.6h0M614.6 513.1h0M628.3 451.3h0M629.5 424.4h0M630.2 404.7h0M629.7 472.1h0M629.8 441.6h0M619.5 536.4h0M630.4 444.7h0M621.5 444.3h0M622.1 539.3h0M623.6 494.5h0M628.3 540.0h0M630.0 522.2h0M620.7 472.2h0M625.8 451.7h0M629.1 454.2h0M597.9 485.3h0M630.6 361.6h0M608.7 536.2h0M631.4 519.1h0M631.5 373.2h0M630.5 420.0h0M630.9 472.0h0M631.7 457.9h0M629.5 450.0h0M626.9 507.3h0M612.9 530.8h0M614.5 472.1h0M629.0 426.4h0M619.9 384.5h0M631.2 536.5h0M630.5 460.6h0M627.9 413.7h0M631.0 469.5h0M626.5 506.8h0M626.1 520.1h0M627.6 383.4h0M631.9 477.5h0M618.5 539.1h0M623.2 534.2h0M625.1 427.8h0M616.6 403.5h0M608.5 424.1h0M611.6 521.0h0M623.0 405.8h0M629.0 435.5h0M627.4 450.0h0M624.6 536.7h0M599.7 481.7h0M627.1 541.9h0M630.4 437.2h0M624.6 511.0h0M629.0 413.7h0M616.7 534.2h0M632.0 409.9h0M627.0 543.4h0M618.8 525.4h0M618.3 372.6h0M621.8 464.2h0M628.7 446.4h0M626.6 455.2h0M628.7 408.3h0M592.2 381.0h0M615.4 533.0h0M625.0 451.8h0M626.5 535.7h0M576.5 421.7h0M624.6 541.7h0M626.5 380.9h0M626.9 514.7h0M626.2 480.6h0M631.1 398.0h0M627.5 507.9h0M627.4 487.4h0M631.4 491.5h0M626.8 430.4h0M625.3 453.9h0M624.1 480.4h0M605.6 381.3h0M623.9 374.4h0M628.2 410.9h0M627.5 541.4h0M630.3 379.5h0M626.0 523.1h0M629.5 468.4h0M628.5 423.0h0M630.9 500.6h0M631.6 480.7h0M631.6 402.4h0M598.8 468.3h0M631.4 471.4h0M631.6 432.7h0M628.7 479.4h0M628.5 425.8h0M619.8 513.7h0M616.8 527.6h0M629.5 477.2h0M619.8 443.8h0M624.5 426.2h0M539.1 396.4h0M630.9 414.6h0M592.5 442.8h0M630.7 492.9h0M629.9 394.3h0M614.7 469.7h0M627.9 411.2h0M621.8 540.1h0M610.9 518.6h0M608.5 521.6h0M613.8 413.1h0M628.2 521.6h0M625.1 521.4h0M626.9 439.5h0M629.0 506.2h0M629.9 462.0h0M622.9 474.8h0M622.8 441.5h0M631.5 494.4h0M631.4 486.2h0M623.1 376.1h0M631.4 448.7h0M620.8 433.6h0M619.4 495.1h0M629.6 441.9h0M621.8 439.2h0M604.8 495.6h0M620.1 403.4h0M630.1 500.6h0M616.4 464.6h0M626.3 462.7h0M631.6 492.6h0M615.0 419.7h0M630.3 475.6h0M531.3 368.7h0M629.2 483.7h0M602.2 443.9h0M623.4 544.3h0M631.6 501.1h0M629.0 533.5h0M624.7 544.4h0M612.2 427.7h0M631.0 399.3h0M631.9 416.8h0M630.6 538.7h0M629.4 502.0h0M625.6 502.2h0M628.5 460.0h0M625.1 463.2h0M631.6 520.2h0M628.6 538.0h0M626.7 480.8h0M630.3 490.2h0M629.4 474.1h0M620.0 394.8h0M623.6 447.6h0M625.0 478.6h0M629.3 483.5h0M623.5 479.1h0M577.1 445.5h0M632.0 529.0h0M629.1 463.7h0M621.0 534.9h0M611.5 422.7h0M619.5 528.5h0M624.6 377.6h0M629.6 453.0h0M622.9 493.9h0M626.9 531.9h0M621.4 545.3h0M628.9 417.2h0M598.3 440.8h0M619.4 481.6h0M631.0 415.8h0M619.1 402.1h0M616.5 476.0h0M625.2 530.3h0M618.1 482.9h0M625.6 507.6h0M631.0 398.1h0M632.0 478.4h0M621.1 525.1h0M628.7 375.0h0M622.0 391.8h0M616.4 494.3h0M623.0 452.8h0M628.8 452.0h0M627.8 491.8h0M628.1 403.7h0M603.0 486.5h0M624.6 479.1h0M604.8 479.7h0M605.7 455.3h0M628.5 449.3h0M626.8 434.0h0M610.0 483.5h0M627.3 440.9h0M629.5 362.9h0M630.2 409.0h0M627.7 498.2h0M631.6 464.2h0M623.7 512.4h0M607.9 400.4h0M621.4 474.5h0M630.2 491.7h0M629.2 532.3h0M631.2 396.4h0M628.2 512.5h0M626.8 526.3h0M616.2 454.5h0M630.1 505.1h0M629.3 399.9h0M631.0 424.6h0M631.5 449.3h0M606.7 460.1h0M625.1 501.6h0M630.0 464.6h0M627.9 455.9h0M626.8 505.3h0M626.0 458.3h0M621.1 508.1h0M606.1 390.4h0M631.0 430.3h0M627.0 522.5h0M631.7 455.7h0M627.4 487.4h0M629.8 479.6h0M617.4 439.7h0M631.3 488.6h0M628.1 529.9h0M625.2 534.9h0M629.3 476.9h0M622.9 459.3h0M622.6 495.4h0M605.2 464.1h0M627.1 494.3h0M629.2 498.3h0M631.5 462.3h0M627.9 396.5h0M629.4 519.0h0M631.2 516.5h0M627.2 505.7h0M605.3 401.3h0M627.2 544.7h0M631.1 479.7h0M630.3 535.0h0M628.6 516.5h0M602.2 388.0h0M627.6 497.9h0M623.5 443.5h0M613.3 459.9h0M631.0 404.6h0M631.2 493.5h0M615.7 468.7h0M628.7 507.8h0M628.6 481.8h0M622.5 497.0h0M631.5 364.5h0M631.1 441.2h0M624.3 459.9h0M625.0 402.7h0M627.9 385.4h0M628.7 451.3h0M623.2 405.7h0M619.8 498.7h0M609.3 432.1h0M629.9 513.8h0M624.6 512.1h0M631.1 470.1h0M627.5 408.0h0M624.4 495.8h0M616.2 374.4h0M630.4 459.7h0M627.6 437.9h0M620.7 407.2h0M611.9 519.9h0M617.7 478.1h0M626.9 524.7h0M629.1 523.8h0M624.3 515.0h0M614.3 518.3h0M631.8 536.1h0M626.1 495.6h0M627.2 541.0h0M629.5 513.0h0M626.7 541.1h0M618.3 504.4h0M626.1 406.2h0M619.3 543.0h0M627.5 490.8h0M626.1 462.8h0M629.4 519.3h0M621.4 449.4h0M629.4 496.3h0M626.3 516.8h0M621.9 434.1h0M631.7 420.5h0M616.6 377.8h0M620.2 539.8h0M624.5 522.5h0M632.0 472.8h0M573.6 440.5h0M630.1 509.1h0M622.7 471.0h0M596.1 449.7h0M628.0 425.0h0M602.8 377.3h0M622.5 422.3h0M628.2 541.0h0M624.6 498.1h0M631.2 494.0h0M628.0 418.3h0M628.8 545.1h0M600.5 542.5h0M612.5 461.7h0M627.8 445.1h0M631.2 541.3h0M631.2 383.8h0M629.4 425.5h0M618.3 361.3h0M623.9 419.2h0M627.9 426.2h0M629.9 463.3h0M623.3 400.1h0M620.0 420.6h0M622.9 434.6h0M630.1 527.4h0M595.8 375.6h0M626.9 447.5h0M621.5 539.5h0M626.5 528.8h0M596.8 534.3h0M624.1 521.4h0M610.7 481.7h0M625.9 406.8h0M623.1 455.7h0M631.4 497.3h0M632.0 521.9h0M623.2 513.4h0M628.6 399.5h0M608.3 525.2h0M625.9 511.8h0M618.1 463.5h0M627.5 431.5h0M625.9 404.8h0M626.0 466.4h0M610.5 508.5h0M623.6 412.4h0M605.0 518.3h0M631.5 536.4h0M627.1 433.9h0M630.8 446.2h0M618.4 483.1h0M628.2 455.6h0M619.6 448.8h0M618.7 435.8h0M624.1 535.1h0M621.4 459.8h0M629.3 519.9h0M628.1 535.7h0M604.2 396.9h0M626.8 401.2h0M588.2 506.1h0M602.3 527.5h0M629.2 461.4h0M613.1 532.0h0M625.7 473.1h0M629.1 456.9h0M622.1 544.8h0M609.0 510.7h0M596.1 466.6h0M627.4 392.6h0M593.3 505.4h0M609.2 494.5h0M621.4 489.6h0M626.1 411.8h0M628.7 414.8h0M622.3 482.6h0M627.8 536.5h0M615.3 532.5h0M628.1 511.9h0M615.0 502.1h0M595.7 495.2h0M605.1 476.6h0M630.3 485.6h0M627.2 514.8h0M622.6 435.7h0M625.2 482.6h0M629.2 373.2h0M627.3 505.6h0M608.5 443.5h0M631.2 541.6h0M628.2 481.5h0M626.7 477.1h0M628.6 485.3h0M628.8 532.9h0M625.2 491.2h0M630.9 449.5h0M617.5 476.3h0M628.2 430.4h0M627.3 519.8h0M631.5 417.6h0M623.4 502.4h0M631.3 436.0h0M618.1 431.0h0M622.6 528.7h0M605.5 436.1h0M629.7 523.9h0M604.3 393.7h0M581.8 453.2h0M627.0 484.5h0M617.6 386.8h0M628.8 375.4h0M627.1 544.8h0M625.4 519.8h0M627.4 414.7h0M623.3 463.7h0M601.8 375.6h0M625.8 460.6h0M629.9 497.6h0M631.4 413.1h0M626.3 456.6h0M625.0 444.3h0M618.5 405.0h0M622.8 531.8h0M630.3 380.4h0M626.3 385.5h0M616.8 537.8h0M631.1 380.0h0M623.7 489.6h0M627.5 519.4h0M631.1 440.6h0M622.6 542.8h0M628.5 511.7h0M614.4 541.0h0M630.8 497.8h0M597.1 455.4h0M622.2 453.3h0M589.8 405.7h0M631.0 499.4h0M624.1 510.6h0M616.5 490.7h0M628.1 487.7h0M620.6 542.6h0M613.4 398.8h0M631.6 499.8h0M622.9 466.3h0M584.3 385.9h0M624.0 522.9h0M629.1 516.3h0M631.3 513.4h0M621.7 477.5h0M619.2 393.6h0M631.6 543.2h0M630.8 484.0h0M624.6 390.3h0M596.1 473.8h0M622.7 415.5h0M629.6 479.2h0M614.3 496.0h0M624.7 504.9h0M628.3 403.4h0M624.9 532.4h0M622.4 497.4h0M614.1 377.8h0M615.2 463.3h0M627.4 402.6h0M579.8 359.9h0M618.6 525.6h0M613.6 412.1h0M621.4 517.4h0M625.7 497.5h0M626.8 536.8h0M630.7 494.2h0M625.9 501.1h0M631.8 401.4h0M632.0 509.1h0M598.7 371.8h0M626.9 429.4h0M599.3 432.1h0M624.2 489.9h0M631.4 515.3h0M628.9 466.9h0M600.1 406.0h0M611.4 410.9h0M631.0 523.1h0M537.1 433.5h0M632.0 489.1h0M630.7 429.6h0M621.9 456.9h0M630.6 449.0h0M625.4 463.2h0M631.9 511.6h0M605.4 423.1h0M626.5 391.9h0M616.6 365.3h0M610.3 459.5h0M624.2 478.8h0M627.5 401.7h0M631.4 463.1h0M631.5 457.3h0M627.7 509.3h0M629.5 441.6h0M627.4 442.5h0M621.2 447.9h0M631.9 545.0h0M617.1 514.1h0M625.6 529.7h0M625.3 494.4h0M611.6 389.8h0M623.5 451.4h0M603.5 491.6h0M624.2 415.2h0M630.3 395.1h0M613.8 449.0h0M630.5 538.5h0M608.8 491.6h0M628.3 447.5h0M619.3 538.5h0M623.0 513.6h0M613.6 439.8h0M625.7 427.9h0M592.7 459.8h0M620.5 396.8h0M625.3 508.7h0M622.8 487.7h0M615.3 512.3h0M624.9 458.1h0M628.8 393.4h0M614.5 397.8h0M631.5 545.1h0M628.5 467.3h0M631.4 488.7h0M609.1 438.7h0M630.9 521.7h0M624.8 458.9h0M610.2 504.5h0M626.5 382.0h0M629.2 427.7h0M618.1 537.6h0M631.5 461.6h0M619.0 533.1h0M615.1 510.2h0M584.1 503.4h0M631.5 512.8h0M631.3 448.2h0M598.4 388.2h0M624.5 415.5h0M629.4 496.5h0M627.7 528.9h0M630.4 423.5h0M627.0 508.2h0M614.8 382.6h0M620.5 454.3h0M624.1 460.4h0M620.8 545.1h0M631.4 441.7h0M615.4 413.9h0M622.5 462.7h0M630.8 477.4h0M616.7 412.8h0M613.1 473.9h0M628.4 490.8h0M627.9 499.3h0M628.5 496.4h0M630.9 501.5h0M595.6 471.4h0M616.1 422.8h0M617.5 404.5h0M606.6 448.4h0M624.0 475.4h0M621.8 537.2h0M630.0 454.1h0M621.9 540.1h0M630.7 389.9h0M627.3 449.9h0M611.2 415.2h0M626.6 515.8h0M624.5 505.8h0M631.3 512.5h0M625.8 441.1h0M598.8 538.1h0M626.1 426.8h0M628.2 395.0h0M630.1 406.5h0M621.1 529.4h0M623.2 413.4h0M598.3 527.0h0M629.4 502.7h0M604.9 435.9h0M631.2 537.5h0M627.4 446.5h0M630.5 385.0h0M629.7 493.4h0M617.1 506.9h0M607.9 467.7h0M620.4 404.5h0M629.5 540.0h0M632.0 524.6h0M626.5 483.5h0M626.5 431.7h0M612.8 450.5h0M621.7 387.1h0M624.2 412.8h0M627.4 495.5h0M628.1 433.7h0M620.1 411.3h0M595.1 541.6h0M618.4 422.9h0M627.1 422.5h0M628.1 414.6h0M612.8 531.2h0M627.7 456.3h0M626.2 497.4h0M625.2 469.1h0M617.0 478.9h0M615.8 402.9h0M629.5 472.1h0M624.6 520.3h0M621.0 477.2h0M626.7 515.5h0M628.7 375.0h0M621.6 479.9h0M627.4 399.3h0M628.5 498.1h0M623.9 508.8h0M591.3 439.5h0M595.2 464.7h0M612.8 448.5h0M607.2 422.7h0M626.4 426.2h0M611.7 508.3h0M622.6 461.0h0M620.0 426.6h0M630.2 490.7h0M628.4 505.6h0M614.3 519.3h0M627.1 420.1h0M612.3 498.2h0M626.3 475.3h0M625.4 382.8h0M624.5 405.1h0M627.7 443.2h0M622.9 508.8h0M630.5 510.3h0M626.4 405.2h0M628.8 381.6h0M631.3 530.5h0M626.1 473.3h0M630.5 476.4h0M604.9 428.8h0M630.3 473.6h0M630.4 535.1h0M615.7 506.8h0M624.1 473.4h0M628.8 509.3h0M622.2 523.5h0M625.8 518.3h0M627.1 454.7h0M631.1 504.4h0M631.4 498.7h0M628.7 515.1h0M631.3 456.1h0M625.8 473.4h0M616.9 500.3h0M631.7 372.7h0M627.8 495.0h0M629.2 385.9h0M629.1 408.7h0M629.8 529.2h0M629.2 533.5h0M575.4 424.5h0M630.8 534.1h0M615.8 532.0h0M622.5 503.9h0M627.3 494.5h0M601.6 448.7h0M611.2 458.4h0M622.6 419.1h0M627.3 475.0h0M623.5 482.3h0M610.9 401.5h0M631.6 408.1h0M631.9 524.1h0M630.7 419.6h0M616.2 505.3h0M628.5 408.6h0M631.4 462.7h0M631.0 525.5h0M629.5 470.0h0M622.0 465.2h0M631.2 467.8h0M627.0 476.2h0M622.9 500.6h0M623.6 468.1h0M630.0 510.3h0M631.7 401.1h0M630.7 407.1h0M631.1 495.2h0M630.7 475.2h0M624.7 477.3h0M624.4 454.9h0M631.3 502.1h0M629.4 475.1h0M618.4 466.2h0M624.2 431.2h0M629.6 386.7h0M628.9 444.4h0M612.4 460.0h0M631.6 424.3h0M623.9 415.8h0M627.3 480.4h0M620.2 528.0h0M623.6 428.5h0M627.7 419.5h0M616.4 422.9h0M628.6 438.7h0M612.1 516.2h0M615.8 524.4h0M585.1 387.5h0M626.1 399.6h0M624.1 450.4h0M624.6 508.9h0M624.8 389.4h0M623.8 402.2h0M611.3 403.3h0M607.4 442.6h0M622.8 501.6h0M626.1 482.0h0M628.1 471.7h0M631.6 516.1h0M625.7 385.9h0M597.1 362.3h0M609.3 387.8h0M617.7 540.9h0M628.3 421.5h0M612.3 387.5h0M627.8 525.0h0M630.8 397.3h0M625.0 459.2h0M621.2 382.4h0M627.0 523.2h0M599.7 450.4h0M622.9 493.9h0M595.2 520.0h0M623.9 480.3h0M629.4 481.0h0M620.0 489.4h0M629.9 509.3h0M623.9 531.4h0M624.4 406.9h0M591.6 368.9h0M622.9 485.2h0M621.9 489.4h0M623.2 512.4h0M631.3 541.7h0M629.8 417.8h0M621.2 429.3h0M621.6 438.5h0M628.5 404.1h0M628.6 511.9h0M618.9 518.3h0M600.9 379.1h0M628.9 544.8h0M620.2 365.7h0M628.7 444.1h0M603.8 435.2h0M597.5 519.6h0M629.0 483.3h0M626.4 437.5h0M610.4 478.6h0M615.6 462.1h0M608.4 518.9h0M625.9 389.0h0M618.3 473.7h0M631.3 473.1h0M600.8 435.7h0M621.0 520.9h0M630.6 469.8h0M592.0 390.5h0M605.6 542.1h0M606.8 468.3h0M631.4 392.5h0M624.3 409.9h0M630.4 440.6h0M631.5 460.8h0M629.0 430.9h0M609.0 460.3h0M623.9 388.7h0M599.9 424.0h0M628.7 508.2h0M631.9 518.0h0M622.6 378.4h0M619.8 490.2h0M623.6 453.3h0M629.7 540.1h0M620.1 379.6h0M614.2 459.5h0M624.6 418.0h0M625.9 518.7h0M627.4 496.7h0M602.8 359.2h0M615.1 524.5h0M626.6 536.0h0M618.8 501.4h0M551.2 398.9h0M626.2 490.1h0M598.7 510.1h0M599.3 533.6h0M629.1 538.4h0M630.0 411.6h0M620.0 423.5h0M613.9 406.9h0M621.8 486.7h0M603.2 383.1h0M628.1 453.3h0M628.8 523.1h0M630.7 386.8h0M627.7 461.3h0M627.4 465.9h0M623.6 456.4h0M605.7 372.7h0M612.1 450.4h0M626.9 510.7h0M629.6 434.6h0M626.8 501.9h0M622.0 508.4h0M624.7 538.6h0M617.0 484.1h0M623.6 423.5h0M587.5 455.5h0M631.2 449.8h0M612.0 472.4h0M616.8 440.1h0M624.9 432.0h0M625.1 464.0h0M631.9 485.8h0M626.5 398.0h0M619.4 468.8h0M621.7 501.9h0M599.8 408.5h0M625.6 490.4h0M618.2 384.5h0M629.8 506.0h0M624.8 508.5h0M628.6 511.6h0M617.3 538.2h0M627.6 482.3h0M629.2 391.7h0M629.6 523.9h0M630.6 363.9h0M627.5 469.6h0M624.6 454.3h0M626.7 437.4h0M622.6 524.8h0M621.1 403.9h0M628.4 482.2h0M607.0 530.6h0M623.3 510.0h0M628.5 489.0h0M626.9 446.3h0M630.5 390.0h0M629.8 359.0h0M615.2 464.3h0M631.7 456.1h0M616.9 425.8h0M594.1 524.1h0M627.0 418.4h0M628.4 477.0h0M620.5 538.4h0M630.2 490.9h0M627.2 366.5h0M629.9 540.1h0M621.6 418.4h0M628.1 412.4h0M626.7 455.9h0M631.6 462.4h0M615.9 423.1h0M618.2 451.5h0M616.8 517.5h0M630.7 378.9h0M627.0 400.6h0M623.0 491.3h0M628.1 382.4h0M630.6 489.0h0M628.5 480.0h0M609.5 538.9h0M616.9 525.6h0M625.4 474.7h0M631.6 539.9h0M631.3 396.8h0M613.0 406.8h0M629.2 521.1h0M624.2 402.2h0M614.5 446.5h0M602.4 543.9h0M629.3 512.2h0M627.1 524.8h0M613.9 405.2h0M631.5 511.0h0M602.6 462.0h0M605.4 386.7h0M631.7 415.9h0M614.4 510.9h0M630.1 405.6h0M618.8 500.5h0M626.8 474.1h0M628.3 451.9h0M627.7 443.0h0M612.1 400.7h0M604.9 401.3h0M623.5 385.8h0M623.4 415.9h0M618.5 526.0h0M624.3 451.3h0M619.9 450.0h0M616.3 440.7h0M616.4 511.2h0M625.4 475.6h0M628.8 377.1h0M627.9 381.1h0M599.5 448.3h0M616.9 520.8h0M627.8 512.4h0M627.4 545.2h0M618.9 454.1h0M617.3 407.9h0M621.6 488.7h0M629.7 495.6h0M626.9 362.1h0M629.9 468.1h0M622.6 457.3h0M631.8 395.8h0M627.3 532.6h0M627.6 524.5h0M628.3 534.4h0M631.8 425.4h0M631.1 502.8h0M631.4 473.7h0M622.8 385.0h0M618.3 448.7h0M625.7 528.6h0M628.3 368.4h0M627.0 468.8h0M606.0 486.7h0M632.0 528.9h0M601.5 519.6h0M631.8 426.1h0M626.7 464.4h0M620.9 530.6h0M631.8 407.0h0M628.4 540.8h0M631.6 449.0h0M631.4 481.5h0M620.4 513.4h0M630.5 461.9h0M617.7 404.4h0M630.9 370.4h0M626.9 485.3h0M628.7 374.9h0M629.9 469.5h0M611.3 476.6h0M621.9 493.1h0M604.9 436.9h0M620.6 492.6h0M627.5 529.1h0M623.1 425.3h0M630.3 429.4h0M630.3 407.2h0M622.3 457.6h0M613.9 481.5h0M628.8 504.0h0M582.5 498.6h0M623.3 524.7h0M628.2 450.6h0M631.0 423.7h0M627.6 450.1h0M629.6 454.7h0M581.9 406.2h0M626.5 492.3h0M624.4 504.7h0M621.4 452.4h0M631.1 397.0h0M629.5 473.7h0M594.2 455.6h0M622.1 454.5h0M621.2 468.0h0M620.6 492.6h0M608.3 484.7h0M629.7 541.6h0M614.3 488.5h0M622.8 521.1h0M629.8 476.3h0M629.2 461.5h0M626.8 451.9h0M631.4 496.6h0M626.4 374.4h0M620.0 528.7h0M623.9 511.8h0M621.7 479.2h0M630.5 518.2h0M621.3 512.3h0M630.2 484.0h0M607.2 425.7h0M619.7 514.7h0M631.3 373.8h0M631.7 387.4h0M623.9 382.2h0M597.0 373.4h0M624.8 478.7h0M620.7 467.1h0M617.1 461.0h0M629.1 460.1h0M623.0 452.5h0M617.5 434.8h0M624.8 457.7h0M623.0 368.6h0M612.3 430.3h0M631.9 374.2h0M630.7 529.8h0M628.0 450.9h0M609.3 433.8h0M627.7 522.5h0M605.6 383.2h0M629.5 535.0h0M628.7 395.2h0M622.0 498.2h0M619.0 499.1h0M626.6 417.6h0M619.4 435.1h0M620.7 465.3h0M629.2 466.5h0M597.7 431.9h0M627.5 427.4h0M628.9 402.8h0M615.0 408.4h0M599.6 537.6h0M626.7 484.6h0M629.1 436.7h0M627.0 457.1h0M630.8 495.2h0M627.8 491.3h0M617.0 362.7h0M629.1 525.0h0M602.9 433.0h0M618.8 525.8h0M620.8 467.8h0M629.5 532.8h0M624.3 460.2h0M630.4 452.6h0M620.3 458.3h0M621.3 484.4h0M626.8 540.1h0M625.2 379.2h0M627.4 524.6h0M631.2 367.4h0M620.1 544.1h0M627.8 425.9h0M631.5 378.8h0M595.7 375.0h0M622.3 489.2h0M630.7 482.1h0M630.9 421.0h0M626.0 359.2h0M629.6 522.7h0M628.6 397.7h0M630.0 536.2h0M628.3 486.7h0M621.1 498.4h0M629.8 461.3h0M631.0 514.8h0M600.2 386.7h0M630.0 419.5h0M611.1 477.9h0M626.5 487.0h0M628.5 537.2h0M612.4 488.4h0M632.0 529.8h0M629.6 469.7h0M624.3 488.3h0M626.4 400.1h0M628.6 526.6h0M630.0 422.9h0M617.5 421.5h0M621.3 467.9h0M620.0 382.1h0M626.3 542.6h0M629.8 460.6h0M592.1 361.8h0M615.9 522.0h0M628.7 518.4h0M628.3 506.5h0M625.8 412.6h0M629.5 381.7h0M624.8 473.6h0M630.3 446.9h0M622.0 538.9h0M626.5 455.3h0M629.3 481.1h0M628.9 455.5h0M612.6 403.7h0M630.0 513.7h0M627.2 516.6h0M624.8 492.5h0M630.9 448.0h0M615.6 389.8h0M627.4 474.8h0M613.3 384.7h0M631.5 380.0h0M549.4 413.9h0M631.6 461.3h0M626.9 432.8h0M617.7 459.8h0M630.4 510.4h0M627.6 538.1h0M629.9 430.5h0M628.7 501.4h0M628.0 362.3h0M624.3 501.9h0M630.5 462.4h0M630.5 515.3h0M611.8 476.2h0M608.1 440.9h0M613.2 511.5h0M617.1 542.5h0M630.0 489.6h0M631.1 488.1h0M619.7 484.8h0M621.4 444.3h0M620.9 459.3h0M622.9 453.5h0M619.3 530.6h0M631.6 507.2h0M625.1 481.1h0M623.0 460.1h0M625.9 471.5h0M623.0 450.8h0M621.9 490.6h0M609.3 513.3h0M628.7 473.6h0M631.4 520.4h0M631.0 478.3h0M630.4 375.0h0M631.8 435.0h0M631.4 473.5h0M631.2 380.2h0M624.1 496.1h0M627.0 453.5h0M630.0 393.8h0M626.7 493.7h0M631.2 441.3h0M624.6 543.1h0M624.2 521.8h0M628.5 383.8h0M605.2 480.5h0M627.3 448.7h0M609.4 467.1h0M614.2 507.6h0M630.1 428.4h0M625.5 472.7h0M602.5 531.9h0M629.3 477.0h0M598.1 462.4h0M619.9 441.3h0M623.0 369.2h0M606.2 459.3h0M624.2 476.7h0M608.3 484.1h0M609.8 540.7h0M631.5 515.6h0M626.4 451.9h0M630.7 409.8h0M599.7 414.8h0M625.4 440.3h0M630.0 459.8h0M631.3 441.1h0M628.5 512.6h0M626.2 469.5h0M622.1 510.6h0M628.3 494.0h0M629.8 452.9h0M631.7 487.8h0M625.2 526.9h0M622.2 498.4h0M619.4 376.9h0M628.4 378.0h0M614.5 392.6h0M612.3 474.0h0M588.4 437.1h0M629.1 496.8h0M631.5 544.9h0M624.0 512.9h0M623.2 517.8h0M631.4 480.8h0M629.9 507.3h0M625.2 365.8h0M626.1 406.7h0M615.8 500.1h0M620.8 486.7h0M625.5 539.1h0M624.1 453.4h0M599.4 423.3h0" stroke="#4f6cbe" stroke-opacity="0.55" stroke-width="2.4" stroke-linecap="round" fill="none" clip-path="url(#clipE)"/>
<path d="M629.6 474.6h0M625.2 382.4h0M627.3 534.6h0M610.8 485.5h0M630.3 517.7h0M619.3 479.6h0M629.4 483.4h0M630.4 493.8h0M628.7 528.8h0M626.5 465.1h0M611.3 425.5h0M628.4 476.5h0M614.3 434.7h0M607.6 395.4h0M627.3 430.8h0M607.7 423.4h0M618.3 543.1h0M627.3 531.5h0M630.8 539.4h0M630.7 400.6h0M629.4 531.5h0M626.5 467.9h0M614.1 382.3h0M629.7 524.6h0M626.8 490.5h0M629.4 460.1h0M628.6 438.7h0M626.9 470.4h0M631.9 494.0h0M631.1 501.9h0M630.2 442.1h0M631.7 541.2h0M622.5 539.6h0M617.9 438.7h0M610.9 530.5h0M608.5 396.3h0M625.3 378.1h0M602.4 477.7h0M630.3 430.9h0M631.7 521.6h0M540.4 396.3h0M624.5 521.0h0M630.5 461.4h0M599.5 510.6h0M629.7 376.7h0M621.8 377.2h0M631.6 523.9h0M622.6 399.0h0M625.2 409.4h0M631.8 540.1h0M631.2 460.7h0M613.0 410.8h0M628.5 407.7h0M630.6 504.1h0M629.3 397.9h0M625.0 442.2h0M618.0 458.7h0M623.5 544.0h0M627.0 407.6h0M628.8 459.6h0M632.0 538.3h0M631.8 512.7h0M627.2 493.2h0M629.7 384.0h0M627.0 499.2h0M604.4 489.0h0M624.5 491.7h0M621.7 540.2h0M611.4 414.9h0M630.4 542.1h0M625.0 523.7h0M631.4 379.8h0M630.1 471.6h0M630.2 479.7h0M629.2 472.7h0M625.9 537.4h0M629.3 425.9h0M626.9 517.3h0M631.6 378.2h0M624.3 360.6h0M629.4 403.9h0M617.6 389.4h0M613.6 515.6h0M624.2 489.4h0M629.0 533.9h0M617.8 542.0h0M629.9 385.4h0M625.3 508.9h0M626.5 504.7h0M630.7 524.7h0M599.4 540.6h0M627.4 448.1h0M623.1 498.9h0M629.0 499.9h0M632.0 435.5h0M629.5 533.5h0M625.6 453.9h0M621.2 475.8h0M631.9 450.2h0M624.3 450.7h0M614.6 466.9h0M624.3 514.9h0M623.8 469.4h0M614.2 516.6h0M629.1 486.7h0M619.9 510.4h0M625.1 453.5h0M619.8 429.1h0M624.6 514.7h0M620.0 384.5h0M631.1 400.6h0M611.1 543.1h0M594.3 447.1h0M631.2 513.4h0M620.7 406.4h0M628.2 499.4h0M624.1 539.1h0M614.7 414.8h0M630.7 450.2h0M624.0 537.8h0M628.4 539.5h0M627.9 539.7h0M629.0 493.7h0M623.0 437.3h0M627.6 516.3h0M625.7 398.5h0M630.9 443.9h0M610.6 499.6h0M620.0 374.9h0M611.3 455.3h0M631.9 403.3h0M628.9 506.2h0M615.5 515.4h0M629.7 542.1h0M631.1 438.0h0M619.9 536.2h0M628.5 404.0h0M629.1 418.4h0M625.4 520.7h0M618.7 465.8h0M617.7 506.7h0M630.4 380.4h0M627.4 448.8h0M610.3 508.7h0M626.2 477.1h0M629.1 524.4h0M608.7 539.9h0M584.5 428.4h0M628.6 414.6h0M609.4 474.0h0M611.3 458.2h0M605.6 527.5h0M630.7 405.3h0M598.7 491.6h0M629.9 446.8h0M622.0 463.3h0M625.1 544.0h0M620.6 447.0h0M631.8 542.4h0M613.8 510.5h0M630.8 528.5h0M623.1 495.1h0M628.7 444.1h0M584.5 396.2h0M627.1 418.9h0M630.3 446.9h0M630.3 381.9h0M630.9 412.5h0M631.5 405.9h0M624.7 447.0h0M625.6 488.4h0M624.1 362.3h0M608.9 523.4h0M618.8 544.5h0M628.0 448.8h0M629.9 454.7h0M627.7 382.3h0M620.1 506.9h0M606.1 522.1h0M626.4 472.3h0M629.8 526.5h0M631.1 498.4h0M626.1 418.3h0M622.9 467.8h0M628.8 460.2h0M631.0 488.4h0M630.8 419.5h0M630.6 366.6h0M623.7 417.7h0M631.9 463.5h0M618.7 522.9h0M630.3 386.8h0M631.3 487.4h0M629.0 369.1h0M631.3 490.0h0M620.1 531.6h0M612.8 396.2h0M629.1 434.6h0M627.2 436.4h0M631.1 463.4h0M630.8 467.2h0M627.5 527.6h0M627.2 506.5h0M625.3 474.8h0M629.7 497.5h0M631.7 504.1h0M620.9 463.0h0M631.3 424.8h0M624.9 517.2h0M619.6 476.1h0M601.3 446.1h0M618.9 490.8h0M626.6 504.4h0M626.3 427.9h0M618.4 476.2h0M626.4 407.7h0M627.7 483.1h0M617.8 540.1h0M622.6 495.0h0M620.8 499.2h0M623.0 462.4h0M626.0 523.9h0M611.9 523.8h0M630.0 483.3h0M623.4 473.6h0M617.4 461.1h0M629.6 510.6h0M629.5 464.0h0M629.4 492.4h0M631.1 520.3h0M623.1 513.3h0M629.5 477.0h0M628.2 529.0h0M625.2 415.4h0M630.3 477.6h0M629.4 494.9h0M627.8 528.2h0M614.1 533.2h0M623.4 425.0h0M608.0 431.6h0M630.3 467.9h0M631.6 397.8h0M622.2 463.7h0M614.9 543.3h0M631.0 509.2h0M628.9 489.6h0M628.0 448.6h0M627.6 479.9h0M612.2 440.5h0M617.3 512.0h0M628.4 499.7h0M631.2 529.9h0M613.3 541.7h0M631.1 360.1h0M627.9 470.3h0M629.1 458.5h0M629.4 434.3h0M626.8 449.9h0M618.0 526.3h0M625.0 454.7h0M624.2 469.8h0M629.6 476.5h0M629.8 545.1h0M620.0 528.4h0M603.4 491.4h0M624.2 384.8h0M622.2 390.5h0M594.2 389.5h0M601.0 530.9h0M630.5 493.1h0M618.9 490.2h0M630.0 419.8h0M631.9 401.5h0M629.6 500.9h0M619.5 423.5h0M627.9 397.3h0M630.6 455.8h0M623.1 497.3h0M627.1 366.5h0M629.1 537.5h0M624.9 459.4h0M630.6 426.0h0M626.5 452.9h0M624.6 435.1h0M628.0 418.7h0M629.0 510.9h0M625.4 475.8h0M623.2 391.1h0M626.1 468.4h0M615.1 446.8h0M607.4 391.8h0M624.6 405.8h0M632.0 504.8h0M631.5 536.8h0M626.7 450.6h0M612.8 488.4h0M624.2 375.3h0M628.5 543.8h0M623.7 481.0h0M601.7 458.9h0M627.3 504.8h0M620.9 513.1h0M629.0 501.9h0M618.3 425.0h0M623.3 530.7h0M602.7 392.9h0M619.6 496.7h0M624.0 530.3h0M631.3 522.3h0M625.8 481.8h0M573.1 441.3h0M624.0 484.7h0M630.3 524.9h0M626.6 468.3h0M614.7 456.1h0M625.7 448.7h0M628.4 507.1h0M629.1 472.9h0M630.5 460.8h0M625.3 414.3h0M620.4 460.3h0M621.4 530.0h0M629.9 470.9h0M604.7 375.7h0M631.2 494.5h0M629.4 514.2h0M631.2 429.3h0M612.5 519.6h0M629.8 518.2h0M631.5 497.9h0M628.5 416.3h0M620.7 382.7h0M624.4 426.7h0M625.7 415.4h0M621.5 439.4h0M631.3 477.8h0M631.7 516.5h0M629.8 438.4h0M629.0 470.5h0M625.5 541.6h0M631.7 461.9h0M628.9 459.7h0M628.2 485.4h0M619.9 487.9h0M629.6 461.2h0M612.1 534.6h0M623.9 518.2h0M626.1 400.6h0M619.1 414.4h0M630.2 422.0h0M620.4 446.5h0M628.3 405.8h0M628.2 473.6h0M624.7 469.4h0M628.8 453.9h0M624.1 380.2h0M593.6 502.4h0M602.5 471.5h0M629.9 448.1h0M630.4 448.3h0M608.3 474.9h0M630.0 450.5h0M623.7 469.3h0M628.8 528.4h0M625.4 500.6h0M630.7 493.2h0M631.4 486.8h0M628.8 436.4h0M627.7 481.8h0M630.6 452.6h0M627.4 482.1h0M630.6 472.7h0M625.2 518.9h0M619.5 540.7h0M608.7 493.8h0M630.6 411.0h0M627.5 507.8h0M606.4 540.5h0M627.0 424.9h0M617.4 403.8h0M631.8 458.3h0M621.2 477.6h0M621.7 541.3h0M629.1 387.3h0M592.1 518.7h0M624.1 530.3h0M627.5 418.2h0M629.1 530.1h0M628.1 464.1h0M619.0 419.7h0M621.6 503.9h0M622.5 501.4h0M625.4 472.9h0M623.4 476.2h0M608.7 410.8h0M627.0 507.5h0M631.9 442.5h0M629.7 471.4h0M630.1 379.7h0M628.8 519.8h0M622.5 528.2h0M608.1 407.9h0M603.2 543.2h0M629.0 456.7h0M628.1 501.6h0M623.2 523.2h0M625.3 501.1h0M628.9 519.5h0M629.1 460.6h0M627.2 399.2h0M632.0 448.5h0M625.1 526.5h0M625.6 464.5h0M616.4 435.2h0M611.4 438.8h0M607.8 435.6h0M626.9 373.8h0M558.3 384.2h0M631.6 450.8h0M629.6 470.7h0M631.3 426.8h0M623.6 493.8h0M623.6 524.2h0M568.3 402.6h0M570.0 407.3h0M631.0 386.8h0M627.7 524.3h0M612.0 373.5h0M591.3 381.0h0M626.1 492.0h0M613.4 415.8h0M623.2 485.9h0M614.9 519.3h0M620.4 484.8h0M630.1 463.9h0M622.9 441.9h0M622.7 506.2h0M630.2 487.0h0M605.5 534.6h0M625.7 538.6h0M623.7 476.1h0M632.0 529.9h0M611.9 490.0h0M630.9 487.1h0M584.7 487.6h0M603.7 414.6h0M615.0 541.9h0M630.6 440.5h0M613.1 428.8h0M631.7 431.0h0M625.1 543.3h0M628.4 517.2h0M623.5 471.4h0M609.2 445.5h0M629.1 426.2h0M631.2 472.3h0M624.9 490.7h0M533.8 371.9h0M624.4 455.4h0M629.3 435.4h0M630.2 527.3h0M620.9 489.2h0M631.0 536.7h0M615.7 543.2h0M628.4 531.7h0M615.0 376.1h0M617.0 493.6h0M609.8 462.4h0M632.0 509.1h0M627.1 453.1h0M631.0 544.5h0M624.9 406.7h0M614.5 544.1h0M630.1 481.6h0M631.3 428.4h0M626.8 427.1h0M630.2 375.8h0M631.7 458.4h0M612.9 532.0h0M625.7 541.3h0M626.2 482.9h0M603.3 446.7h0M630.9 468.2h0M628.2 501.8h0M625.6 496.5h0M614.3 495.7h0M617.3 520.0h0M623.8 405.4h0M630.2 461.0h0M627.3 482.5h0M627.5 455.6h0M629.9 504.2h0M618.3 378.6h0M614.9 508.3h0M628.8 511.7h0M625.3 523.1h0M629.3 504.9h0M623.8 468.4h0M620.4 522.3h0M626.8 515.8h0M630.7 486.5h0M630.5 473.1h0M621.5 509.8h0M629.6 507.6h0M622.7 412.0h0M608.7 430.2h0M631.4 387.7h0M632.0 478.4h0M611.2 533.0h0M622.4 411.8h0M613.6 441.6h0M628.7 426.4h0M622.7 481.6h0M624.8 437.1h0M625.1 474.5h0M613.9 376.3h0M627.7 464.0h0M628.9 495.2h0M628.9 531.6h0M623.0 537.5h0M605.4 460.7h0M606.9 388.4h0M618.9 393.0h0M622.7 508.4h0M625.3 446.6h0M617.8 521.4h0M622.7 424.8h0M578.2 368.9h0M622.3 404.8h0M631.8 484.2h0M628.9 492.8h0M631.3 516.0h0M631.1 542.1h0M630.8 515.2h0M619.2 420.6h0M625.0 489.9h0M627.8 427.1h0M618.2 515.6h0M621.7 533.8h0M623.8 409.5h0M629.6 543.8h0M611.2 430.3h0M588.0 386.1h0M611.6 483.7h0M623.9 462.0h0M601.3 453.1h0M622.0 502.3h0M626.6 511.9h0M628.4 462.8h0M629.0 461.6h0M628.8 407.5h0M631.0 423.0h0M625.9 464.1h0M618.5 369.3h0M630.4 483.1h0M620.0 495.6h0M598.3 463.9h0M625.2 493.7h0M612.2 425.9h0M628.3 502.1h0M628.1 520.8h0M630.8 416.8h0M626.8 453.4h0M629.1 440.8h0M628.3 456.2h0M575.4 377.1h0M631.6 407.8h0M597.0 377.0h0M630.4 528.3h0M616.7 411.0h0M614.2 468.2h0M625.3 524.6h0M631.6 510.2h0M629.6 521.7h0M629.2 469.2h0M624.9 542.9h0M628.9 481.9h0M616.6 474.6h0M621.8 490.4h0M629.3 497.1h0M628.7 391.2h0M631.3 457.1h0M623.9 457.8h0M619.0 512.6h0M629.1 418.9h0M623.0 517.1h0M623.7 542.5h0M622.5 514.5h0M626.2 497.0h0M623.6 468.6h0M610.9 465.5h0M630.5 489.5h0M631.1 392.4h0M619.8 413.4h0M628.7 463.3h0M604.5 432.2h0M617.7 414.2h0M622.1 539.0h0M630.4 444.5h0M620.2 480.1h0M630.1 483.8h0M626.4 507.0h0M606.6 374.5h0M627.8 495.9h0M631.8 423.2h0M628.8 403.2h0M623.2 504.9h0M625.9 455.5h0M631.6 530.6h0M622.7 420.8h0M630.6 437.5h0M510.3 409.9h0M621.1 524.4h0M628.7 491.0h0M626.7 526.7h0M627.3 425.3h0M620.3 513.3h0M630.6 414.9h0M615.4 500.0h0M601.1 478.3h0M629.1 485.8h0M631.3 506.4h0M631.8 477.1h0M629.9 424.0h0M610.9 521.6h0M624.5 514.7h0M587.6 456.4h0M630.4 415.5h0M601.3 425.1h0M624.5 452.9h0M613.5 376.7h0M630.0 443.6h0M616.5 469.8h0M620.7 404.1h0M627.1 478.4h0M631.7 442.2h0M594.2 465.4h0M615.1 438.7h0M624.4 459.6h0M618.4 536.0h0M628.9 398.2h0M620.4 423.7h0M568.7 442.5h0M619.6 453.0h0M628.2 490.9h0M629.8 413.4h0M606.9 439.1h0M625.2 509.7h0M614.5 468.9h0M623.3 501.2h0M623.5 454.8h0M621.4 476.5h0M615.6 500.9h0M616.2 431.1h0M629.7 493.0h0M590.7 416.5h0M631.8 455.0h0M632.0 425.6h0M625.3 534.0h0M628.5 515.1h0M627.1 406.3h0M627.3 422.3h0M629.5 397.9h0M575.9 415.4h0M603.0 462.5h0M609.2 412.1h0M604.3 401.4h0M626.4 492.7h0M631.8 441.8h0M613.3 490.1h0M625.1 540.4h0M616.0 500.5h0M629.4 520.6h0M613.9 535.9h0M623.5 533.4h0M557.0 422.7h0M629.2 545.3h0M629.1 513.7h0M627.4 489.3h0M630.1 496.5h0M631.8 496.8h0M623.1 419.7h0M609.5 394.3h0M626.9 513.0h0M627.8 464.7h0M628.3 526.7h0M617.4 510.0h0M627.9 422.9h0M625.8 467.1h0M629.1 531.1h0M603.9 538.4h0M627.5 434.0h0M628.6 515.7h0M623.8 473.4h0M630.9 446.6h0M608.5 447.0h0M620.3 394.7h0M631.8 459.8h0M629.0 509.0h0M625.8 485.7h0M609.3 501.4h0M631.2 447.0h0M627.9 487.3h0M628.2 466.7h0M628.5 400.8h0M630.4 530.7h0M606.9 418.7h0M626.9 460.3h0M624.1 539.4h0M606.5 481.8h0M627.0 541.3h0M620.6 420.6h0M627.9 460.4h0M629.3 457.1h0M629.6 424.2h0M609.5 463.9h0M629.5 412.8h0M620.3 445.0h0M631.5 533.0h0M619.8 432.8h0M614.9 473.4h0M630.8 416.5h0M630.7 505.3h0M600.3 410.2h0M620.3 542.4h0M631.9 403.0h0M628.4 495.1h0M624.9 541.9h0M627.0 465.2h0M597.5 417.6h0M617.8 470.9h0M619.3 477.0h0M627.0 452.7h0M589.5 397.1h0M631.6 517.5h0M630.3 396.4h0M620.5 514.4h0M628.6 463.9h0M612.9 439.9h0M629.0 442.8h0M628.6 526.0h0M621.1 527.9h0M609.8 504.7h0M629.9 429.1h0M626.2 448.9h0M616.7 522.6h0M607.1 444.8h0M621.4 475.1h0M626.0 400.8h0M627.2 490.6h0M626.4 460.2h0M603.3 478.8h0M623.2 539.0h0M524.7 368.3h0M615.7 490.5h0M629.1 479.9h0M625.9 411.6h0M629.9 451.2h0M628.6 542.1h0M622.1 397.2h0M624.5 359.5h0M617.2 502.5h0M614.3 390.6h0M627.4 437.4h0M620.8 537.1h0M613.2 495.5h0M618.5 484.0h0M629.5 542.7h0M631.7 477.4h0M631.8 386.3h0M620.1 406.9h0M622.2 431.5h0M625.3 484.2h0M623.8 390.4h0M624.6 528.2h0M630.2 393.7h0M613.0 374.6h0M631.9 433.2h0M616.2 521.8h0M630.5 385.7h0M623.4 536.9h0M627.7 526.9h0M631.0 389.7h0M630.4 393.2h0M602.0 524.0h0M627.0 491.8h0M627.0 449.5h0M631.6 441.7h0M626.9 452.1h0M626.1 430.7h0M631.5 445.2h0M626.3 541.6h0M618.8 520.2h0M626.9 522.5h0M624.6 453.8h0M626.5 463.6h0M612.2 415.2h0M626.7 393.2h0M625.5 376.3h0M607.9 454.4h0M628.9 514.1h0M630.9 435.8h0M616.8 500.1h0M626.0 527.1h0M597.1 373.1h0M608.0 531.5h0M631.2 490.8h0M626.4 409.8h0M623.8 421.9h0M631.7 425.1h0M615.0 503.3h0M623.4 530.8h0M630.1 466.3h0M630.0 399.2h0M583.1 452.6h0M631.4 391.8h0M600.2 482.0h0M632.0 540.6h0M620.0 416.1h0M627.3 410.0h0M606.9 530.8h0M592.7 402.7h0M630.2 489.3h0M622.8 528.6h0M628.8 416.0h0M630.7 437.4h0M626.7 434.2h0M630.4 415.0h0M628.3 450.7h0M625.6 462.8h0M622.9 540.8h0M617.7 459.8h0M630.3 465.9h0M627.3 503.6h0M607.1 502.0h0M626.5 433.5h0M626.8 539.5h0M615.4 534.4h0M628.0 534.3h0M611.5 499.2h0M630.9 380.4h0M621.6 491.8h0M627.9 494.6h0M628.2 525.3h0M577.7 382.7h0M623.9 449.8h0M627.7 471.3h0M627.8 487.9h0M631.6 466.0h0M622.3 406.3h0M618.5 511.8h0M628.9 417.4h0M607.7 449.9h0M624.1 495.3h0M622.9 542.9h0M630.8 514.3h0M621.2 525.3h0M630.9 470.1h0M593.0 371.1h0M628.7 417.0h0M609.9 415.1h0M625.9 457.4h0M628.0 516.8h0M630.1 429.8h0M628.9 414.7h0M628.7 513.4h0M630.4 493.1h0M628.3 525.9h0M613.5 397.2h0M625.2 536.5h0M631.9 537.9h0M619.5 445.5h0M627.4 515.7h0M628.8 510.2h0M597.1 534.5h0M630.0 511.9h0M626.1 477.5h0M627.8 370.1h0M624.4 539.6h0M630.9 486.7h0M628.6 456.7h0M622.3 359.8h0M618.3 488.1h0M627.7 541.8h0M624.8 417.0h0M616.5 439.5h0M613.4 407.4h0M629.2 403.2h0M632.0 508.9h0M611.9 398.6h0M627.8 397.9h0M620.4 497.4h0M629.1 481.7h0M630.8 443.1h0M630.0 452.8h0M630.1 476.0h0M611.5 492.3h0M607.5 519.9h0M629.4 476.3h0M616.3 472.0h0M628.1 490.6h0M600.8 384.2h0M619.1 510.3h0M629.8 443.3h0M630.8 406.5h0M626.7 453.6h0M625.8 446.8h0M607.5 543.1h0M626.5 471.1h0M627.4 518.3h0M628.9 513.6h0M631.5 537.7h0M624.3 524.3h0M628.5 528.1h0M625.1 455.1h0M622.1 404.9h0M607.9 540.8h0M631.6 374.2h0M625.7 526.5h0M628.1 397.0h0M622.7 517.2h0M631.0 538.9h0M631.6 505.5h0M629.7 461.8h0M626.2 496.4h0M627.1 485.9h0M631.3 423.1h0M625.7 422.3h0M624.2 530.8h0M630.7 462.2h0M626.3 529.2h0M616.2 537.3h0M631.6 486.3h0M631.3 532.4h0M593.9 490.4h0M624.0 378.4h0M603.0 532.8h0M631.5 364.6h0M631.0 444.0h0M631.5 463.1h0M624.5 505.8h0M607.9 513.5h0M594.7 437.1h0M626.4 544.0h0M587.6 504.2h0M631.1 472.2h0M629.8 467.6h0M615.4 457.0h0M612.1 534.9h0M602.0 527.7h0M628.6 511.2h0M624.9 471.8h0M630.8 454.0h0M559.9 361.8h0M627.9 529.2h0M625.9 429.9h0M598.4 539.3h0M629.0 420.2h0M628.7 469.4h0M627.4 509.5h0M628.0 406.0h0M629.4 544.5h0M631.0 381.7h0M624.1 416.5h0M625.9 481.4h0M600.8 429.4h0M627.3 389.8h0M629.5 508.4h0M625.5 401.3h0M630.0 415.2h0M631.8 484.7h0M612.9 492.0h0M630.5 449.9h0M631.8 520.2h0M631.5 488.1h0M631.9 433.3h0M624.3 526.6h0M618.9 499.5h0M622.2 483.2h0M625.8 485.5h0M632.0 416.6h0M630.0 442.0h0M627.4 503.3h0M628.3 490.1h0M601.3 488.6h0M629.1 461.3h0M629.4 542.4h0M626.8 400.3h0M630.6 473.3h0M611.0 507.6h0M560.9 440.6h0M587.8 497.8h0M631.1 472.0h0M629.7 531.7h0M627.3 489.8h0M629.9 403.8h0M591.7 382.8h0M612.6 473.9h0M599.0 469.3h0M607.1 487.7h0M623.2 529.5h0M610.7 390.0h0M631.6 486.7h0M630.8 426.6h0M631.5 389.4h0M629.2 418.2h0M627.7 434.6h0M631.8 410.8h0M626.8 499.4h0M631.3 533.6h0M628.3 455.3h0M628.2 425.1h0M631.9 519.2h0M631.1 458.7h0M630.0 378.6h0M630.6 402.5h0M612.0 543.1h0M631.7 457.8h0M613.6 529.5h0M613.9 466.5h0M621.7 467.9h0M625.5 537.5h0M602.3 480.8h0M630.1 465.8h0M631.1 439.5h0M612.8 541.0h0M620.9 521.9h0M631.9 511.1h0M627.3 510.7h0M630.9 459.9h0M620.0 463.4h0M613.7 467.6h0M627.6 400.6h0M625.1 488.7h0M588.5 391.0h0M626.8 410.2h0M627.8 503.1h0M627.0 516.9h0M610.4 452.9h0M625.4 494.6h0M626.7 482.3h0M628.8 476.5h0M626.1 526.6h0M629.7 384.8h0M618.8 530.5h0M630.1 466.8h0M630.1 373.3h0M615.7 543.9h0M629.9 509.3h0M627.0 472.5h0M627.0 425.6h0M631.1 491.6h0M626.0 494.3h0M628.9 477.6h0M617.6 418.9h0M617.3 507.7h0M620.5 436.4h0M629.7 477.2h0M628.2 457.8h0M616.6 488.9h0M620.4 527.7h0M622.2 521.5h0M625.9 433.8h0M622.7 472.4h0M618.2 520.9h0M625.8 418.8h0M623.7 543.6h0M617.3 408.8h0M631.8 542.8h0M630.8 518.7h0M602.8 544.6h0M627.5 487.7h0M629.7 425.3h0M630.4 468.9h0M618.0 446.0h0M630.6 419.6h0M627.0 415.8h0M627.7 538.0h0M631.2 507.2h0M627.5 497.3h0M629.2 412.7h0M630.2 538.1h0M628.6 469.9h0M619.7 477.3h0M627.4 412.6h0M617.6 509.5h0M629.5 414.8h0M607.3 388.6h0M616.4 533.1h0M621.4 383.7h0M613.4 499.1h0M628.6 522.6h0M626.6 499.1h0M628.8 383.3h0M626.3 488.5h0M630.9 538.3h0M631.3 487.0h0M631.7 402.8h0M615.9 457.3h0M614.2 540.2h0M625.4 491.8h0M627.3 478.1h0M628.1 359.0h0M616.3 508.6h0M626.8 532.8h0M621.8 453.2h0M618.6 528.1h0M625.0 364.4h0M621.1 519.1h0M628.8 537.2h0M623.4 427.7h0M612.0 413.1h0M619.5 462.5h0M629.6 539.6h0M627.1 541.8h0M630.6 410.2h0M620.5 445.1h0M624.6 528.8h0M630.8 515.9h0M630.9 430.9h0M605.8 449.1h0M621.5 381.4h0M625.3 495.5h0M626.9 525.3h0M630.5 420.5h0M620.1 540.1h0M628.0 466.6h0M631.8 446.4h0M627.2 508.9h0M627.0 462.3h0M623.5 501.1h0M627.4 451.4h0M617.2 464.3h0M622.4 469.6h0M629.3 402.0h0M622.4 415.8h0M631.9 538.1h0M625.7 538.2h0M631.0 434.9h0M618.6 396.6h0M629.1 536.9h0M624.9 467.8h0M622.8 519.1h0M603.4 433.0h0M626.9 485.3h0M630.0 365.3h0M620.2 386.7h0M629.3 420.3h0M627.6 398.1h0M630.8 435.6h0M629.4 473.1h0M630.1 428.8h0M624.2 459.3h0M628.5 376.7h0M630.4 457.6h0M629.4 447.4h0M628.9 535.4h0M626.6 461.3h0M631.7 411.7h0M627.1 514.1h0M623.8 462.1h0M616.6 493.5h0M627.5 463.1h0M617.5 539.0h0M622.0 522.6h0M593.9 524.8h0M628.4 369.5h0M628.4 453.9h0M627.9 378.0h0M627.2 475.1h0M630.7 505.1h0M625.5 498.8h0M616.7 441.0h0M625.6 377.5h0M621.3 468.4h0M622.0 519.1h0M619.9 508.5h0M624.9 519.3h0M622.0 543.3h0M627.2 534.7h0M623.1 407.7h0M625.3 493.7h0M628.7 385.1h0M629.9 503.7h0M631.2 442.7h0M618.4 494.0h0M591.6 364.9h0M620.6 498.9h0M631.4 408.3h0M630.1 390.9h0M627.2 510.4h0M623.6 394.6h0M629.6 480.8h0M629.9 404.6h0M623.8 411.2h0M629.6 413.9h0M620.7 418.8h0M622.9 493.3h0M631.8 375.5h0M623.4 512.1h0M623.2 508.3h0M627.5 396.7h0M630.8 431.6h0M629.8 491.9h0M629.4 502.9h0M629.0 422.1h0M629.2 480.9h0M629.2 537.2h0M626.9 439.1h0M631.7 512.7h0M631.0 544.9h0M631.6 419.9h0M622.0 399.2h0M614.8 470.1h0M631.8 382.6h0M628.4 492.0h0M621.7 542.5h0M609.1 525.3h0M614.5 493.0h0M618.3 483.7h0M630.5 514.0h0M625.3 444.5h0M631.1 449.1h0M625.1 483.3h0M626.6 491.0h0M620.2 516.5h0M598.6 480.7h0M625.4 512.6h0M619.3 505.8h0M612.2 488.6h0M620.5 485.8h0M629.4 480.8h0M628.6 503.9h0M616.8 421.8h0M632.0 379.0h0M630.8 422.0h0M631.2 517.9h0M625.9 538.7h0M618.7 511.7h0M627.4 437.1h0M631.5 473.8h0M629.2 514.9h0M620.6 499.7h0M623.8 464.3h0M589.4 408.3h0M630.2 473.5h0M614.3 541.9h0M621.1 490.7h0M625.3 421.7h0M631.0 480.5h0M624.9 520.3h0M631.6 423.3h0M631.6 500.0h0M632.0 396.4h0M628.1 429.4h0M631.3 503.0h0M629.2 458.0h0M625.5 543.5h0M631.0 404.4h0M629.2 515.1h0M630.3 454.2h0M631.8 502.0h0M628.5 542.6h0M630.8 527.3h0M629.8 534.7h0M616.3 527.7h0M628.0 468.2h0M630.1 466.4h0M631.2 429.6h0M626.5 437.7h0M626.4 450.2h0M629.4 436.4h0M615.5 518.8h0M626.8 401.9h0M622.2 505.5h0M616.7 384.3h0M618.1 536.6h0M629.5 376.3h0M624.8 541.6h0M628.3 462.4h0M630.9 482.2h0M629.5 470.9h0M627.6 426.9h0M618.5 476.6h0M631.4 486.5h0M629.9 442.9h0M599.9 406.0h0M594.0 375.4h0M624.6 404.6h0M628.5 415.9h0M631.4 442.6h0M630.3 431.7h0M631.2 511.7h0M622.6 513.3h0M610.8 528.7h0M627.8 423.0h0M632.0 508.4h0M628.9 480.8h0M618.4 459.3h0M624.2 519.4h0M627.4 419.1h0M626.5 500.9h0M599.8 530.8h0M630.7 510.8h0M628.6 407.5h0M631.2 473.1h0M624.4 542.2h0M624.6 469.5h0M605.9 426.2h0M626.7 510.7h0M631.2 460.5h0M620.4 536.7h0M623.9 408.7h0M620.1 412.5h0M627.1 499.9h0" stroke="#4f6cbe" stroke-opacity="0.55" stroke-width="2.4" stroke-linecap="round" fill="none" clip-path="url(#clipE)"/>
<path d="M635.7 530.1h0M639.2 542.6h0M646.8 433.0h0M639.7 509.9h0M636.1 514.9h0M640.9 422.0h0M636.3 453.5h0M636.6 465.5h0M637.5 478.0h0M641.8 380.1h0M636.0 494.2h0M639.0 399.4h0M635.2 508.8h0M635.9 542.0h0M635.6 503.9h0M636.9 474.2h0M636.7 447.1h0M636.2 457.7h0M636.1 493.1h0M636.3 516.1h0M635.6 531.4h0M638.3 402.7h0M635.9 531.3h0M638.3 469.5h0M636.5 405.7h0M635.7 536.6h0M637.3 526.0h0M636.6 468.3h0M636.0 510.5h0M636.9 491.6h0M644.2 470.2h0M636.0 368.5h0M638.5 541.9h0M638.2 472.2h0M636.3 437.6h0M636.9 451.6h0M636.1 394.5h0M636.0 390.8h0M638.5 503.3h0M638.9 527.6h0M637.3 384.9h0M639.2 400.7h0M638.3 505.1h0M643.0 389.0h0M637.9 452.0h0M644.0 413.4h0M635.6 507.0h0M641.3 532.5h0M636.2 393.2h0M637.1 466.7h0M639.1 537.4h0M637.6 443.9h0M636.9 464.0h0M635.9 430.0h0M635.3 527.6h0M645.0 471.5h0M636.1 490.5h0M635.4 434.9h0M635.3 492.3h0M637.8 528.5h0M635.4 516.6h0M636.6 388.0h0M637.3 383.0h0M635.9 476.8h0M638.0 536.6h0M643.4 443.3h0M638.0 495.3h0M637.0 463.2h0M643.7 395.6h0M638.8 370.9h0M648.2 370.9h0M635.7 519.9h0M635.5 399.4h0M638.8 537.6h0M636.8 413.9h0M636.0 520.3h0M635.3 512.6h0M637.1 472.0h0M635.6 378.4h0M636.5 466.2h0M636.2 383.7h0M636.3 538.6h0M640.5 396.1h0M636.9 391.5h0M635.5 408.3h0M635.8 458.3h0M639.6 529.5h0M636.9 469.4h0M641.9 467.9h0M636.3 419.7h0M636.4 399.1h0M635.5 469.1h0M636.7 506.7h0M636.4 477.4h0M638.5 508.0h0M635.6 503.6h0M635.5 465.0h0M640.4 513.6h0M636.7 431.8h0M636.2 544.2h0M636.9 542.2h0M636.3 509.7h0M636.2 484.4h0M639.7 468.4h0M635.3 422.7h0M635.6 538.0h0M636.3 456.1h0M635.3 517.1h0M639.9 477.1h0M642.9 442.1h0M637.5 536.1h0M641.0 452.4h0M636.7 389.5h0M636.5 419.7h0M639.9 490.5h0M638.7 542.6h0M635.4 516.2h0M635.2 457.7h0M636.5 462.6h0M640.3 475.0h0M639.9 414.4h0M636.1 483.3h0M635.7 530.5h0M636.3 515.0h0M636.9 519.7h0M646.2 400.8h0M635.7 520.2h0M635.3 410.3h0M637.4 472.0h0M637.8 450.0h0M641.2 513.5h0M635.9 453.1h0M640.3 442.4h0M636.3 536.1h0M640.8 491.1h0M636.8 441.2h0M639.4 468.1h0M635.8 510.8h0M636.0 509.4h0M640.6 453.2h0M636.0 520.3h0M637.3 496.4h0M640.3 433.2h0M637.0 543.4h0M635.8 492.9h0M637.7 491.2h0M639.0 519.3h0M640.3 489.3h0M644.2 439.5h0M638.5 473.4h0M637.5 494.9h0M635.2 438.0h0M638.0 462.2h0M636.9 443.1h0M635.3 491.6h0M635.5 382.2h0M639.1 436.6h0M636.5 543.2h0" stroke="#f0505a" stroke-opacity="0.5" stroke-width="2.4" stroke-linecap="round" fill="none" clip-path="url(#clipE)"/>
<path d="M636.9 387.4h0M637.4 398.2h0M639.0 406.4h0M637.6 529.5h0M635.8 541.3h0M637.9 521.8h0M643.1 396.3h0M643.3 498.0h0M636.0 438.3h0M635.4 494.3h0M639.0 458.4h0M635.7 490.7h0M643.2 511.1h0M637.9 444.7h0M637.3 525.1h0M635.3 469.8h0M640.9 461.2h0M636.3 537.8h0M639.3 515.2h0M641.1 458.0h0M635.4 534.8h0M637.3 539.2h0M639.6 460.5h0M637.8 488.8h0M639.0 481.7h0M639.5 535.0h0M642.8 487.7h0M637.5 480.4h0M637.9 460.6h0M636.9 511.1h0M635.3 495.3h0M635.6 453.4h0M643.3 496.0h0M636.6 541.6h0M636.5 494.5h0M638.3 461.2h0M640.8 378.1h0M637.4 518.9h0M635.8 490.6h0M635.3 517.4h0M636.1 536.0h0M639.4 376.0h0M639.0 393.9h0M635.3 442.5h0M638.6 529.4h0M635.3 525.3h0M636.7 535.8h0M639.0 497.9h0M642.9 400.4h0M637.3 540.4h0M637.9 456.1h0M638.7 462.0h0M642.1 482.2h0M639.6 539.6h0M635.2 514.6h0M640.5 517.2h0M635.5 499.2h0M641.2 522.7h0M636.0 442.4h0M638.1 526.2h0M635.5 489.3h0M636.7 409.9h0M637.1 441.0h0M636.5 498.3h0M638.0 519.6h0M638.6 387.9h0M638.2 501.6h0M636.2 456.4h0M638.4 455.1h0M635.3 378.9h0M639.6 502.2h0M640.5 400.9h0M636.6 540.1h0M639.7 499.3h0M641.4 499.0h0M639.1 449.8h0M636.6 487.7h0M635.7 428.8h0M639.8 529.6h0M635.5 503.1h0M636.5 518.4h0M640.7 462.0h0M636.7 389.4h0M637.1 507.8h0M638.0 541.7h0M635.5 477.5h0M637.7 383.9h0M635.3 412.4h0M640.7 543.4h0M641.6 454.7h0M640.2 459.8h0M636.4 405.6h0M635.2 454.4h0M640.5 493.1h0M636.2 523.0h0M639.3 534.7h0M636.6 477.0h0M635.5 469.1h0M635.2 540.2h0M636.0 531.0h0M644.1 504.1h0M636.0 522.0h0M636.9 495.0h0M635.7 420.7h0M637.7 479.0h0M646.1 383.4h0M647.6 378.5h0M640.3 376.9h0M637.7 385.1h0M636.6 498.0h0M638.8 515.9h0M638.2 519.9h0M636.3 535.9h0M640.9 466.3h0M637.4 474.5h0M644.8 437.0h0M639.5 389.2h0M641.8 527.9h0M638.5 499.5h0M641.6 388.3h0M637.4 488.5h0M641.9 455.6h0M635.9 477.5h0M636.6 524.5h0M637.9 486.7h0M643.1 457.4h0M636.6 412.4h0M635.3 529.8h0M636.9 520.5h0M635.7 502.8h0M643.9 460.7h0M639.7 452.8h0M638.4 488.7h0M636.7 379.8h0M636.6 484.7h0M635.3 373.3h0M636.1 469.0h0M635.4 506.2h0M635.5 519.7h0M638.5 392.5h0M639.1 397.7h0M638.1 457.0h0M639.4 457.9h0M635.5 377.6h0M642.8 486.6h0M636.6 460.2h0M636.1 466.7h0M636.5 492.9h0M635.4 495.5h0M639.5 488.5h0M635.4 542.5h0M637.7 530.1h0M635.2 524.0h0M637.8 486.0h0M638.9 399.4h0M637.1 481.3h0M640.7 511.1h0M636.7 500.6h0" stroke="#f0505a" stroke-opacity="0.5" stroke-width="2.4" stroke-linecap="round" fill="none" clip-path="url(#clipE)"/>
<path d="M635.2 479.4h0M637.4 499.8h0M637.1 539.2h0M635.5 454.3h0M641.2 431.1h0M637.5 529.8h0M635.9 488.2h0M639.7 499.0h0M637.7 495.7h0M636.3 521.5h0M642.0 471.3h0M638.4 457.1h0M635.7 500.4h0M642.3 456.7h0M635.9 457.6h0M639.4 461.9h0M635.3 478.7h0M636.8 460.5h0M636.1 440.6h0M636.3 516.7h0M644.4 487.2h0M638.3 503.1h0M638.3 413.2h0M639.9 454.7h0M640.7 405.3h0M635.7 415.5h0M635.5 409.5h0M635.9 466.9h0M637.0 388.4h0M637.2 406.9h0M636.2 527.0h0M636.7 525.5h0M636.7 542.1h0M635.6 523.9h0M635.5 426.0h0M637.4 526.9h0M639.7 520.5h0M643.0 485.4h0M636.0 541.1h0M636.4 440.5h0M636.1 482.0h0M636.3 494.6h0M636.5 521.7h0M636.7 370.8h0M641.4 445.0h0M639.6 498.2h0M646.0 369.0h0M636.0 501.3h0M638.1 512.4h0M636.3 463.6h0M639.4 449.8h0M637.9 487.4h0M635.4 409.3h0M640.3 514.2h0M635.7 494.9h0M638.8 499.4h0M643.4 423.3h0M638.0 411.9h0M641.2 501.5h0M643.0 422.7h0M638.0 541.0h0M636.3 453.8h0M647.8 463.7h0M638.7 483.2h0M635.9 540.8h0M637.7 524.3h0M639.3 543.9h0M636.4 376.5h0M635.6 430.9h0M636.5 499.5h0M637.3 525.2h0M639.1 421.6h0M636.0 512.8h0M640.3 370.3h0M639.0 526.6h0M635.4 470.7h0M644.6 504.7h0M635.2 486.7h0M641.1 481.7h0M638.0 449.5h0M640.7 396.3h0M639.6 497.1h0M635.6 455.8h0M635.9 482.4h0M635.9 419.6h0M636.1 501.8h0M635.2 458.3h0M638.1 420.1h0M640.0 413.4h0M640.3 526.1h0M639.7 527.3h0M643.0 484.5h0M641.9 530.4h0M641.5 484.2h0M636.2 483.7h0M638.0 541.1h0M636.1 432.1h0M637.4 368.9h0M637.9 509.8h0M637.1 524.4h0M645.3 376.1h0M636.7 527.1h0M640.1 470.9h0M637.3 545.0h0M635.7 507.2h0M643.3 471.6h0M635.8 506.7h0M636.1 502.2h0M638.1 482.3h0M644.3 420.9h0M637.8 496.9h0M636.4 464.0h0M635.9 368.7h0M636.7 487.7h0M638.6 504.9h0M636.2 391.4h0M641.8 455.0h0M637.5 402.0h0M636.6 418.9h0M644.4 370.0h0M637.7 519.6h0M638.0 458.7h0M635.7 517.2h0M638.9 533.2h0M637.8 527.6h0M639.0 471.0h0M636.6 490.0h0M637.8 427.0h0M635.9 476.8h0M642.6 448.3h0M638.8 500.9h0M641.0 518.8h0M635.9 469.3h0M638.4 529.7h0M643.0 479.1h0M635.9 542.1h0M639.6 432.0h0M636.4 507.0h0M635.5 449.1h0M636.3 463.8h0M637.0 513.3h0M638.7 410.7h0M635.4 524.8h0M640.9 403.4h0M636.9 437.3h0M638.7 527.6h0M635.5 471.0h0M641.6 507.2h0M640.3 412.7h0M636.2 407.5h0M638.3 413.5h0M635.8 471.8h0M636.9 452.2h0M639.8 483.9h0M636.5 506.0h0M635.3 473.0h0M637.0 500.9h0M636.1 387.4h0" stroke="#f0505a" stroke-opacity="0.5" stroke-width="2.4" stroke-linecap="round" fill="none" clip-path="url(#clipE)"/>
<line x1="452.9" y1="546.4" x2="670.2" y2="546.4" stroke="#000" stroke-width="1.5" stroke-dasharray="5.6,4,1.3,4.2" stroke-dashoffset="10.1"/>
<line x1="632.7" y1="348.5" x2="632.7" y2="564.0" stroke="#1a1a1a" stroke-width="1.15" stroke-dasharray="3.4,2.1,0.8,2.2" stroke-dashoffset="5.2"/>
<line x1="635.3" y1="348.5" x2="635.3" y2="564.0" stroke="#1a1a1a" stroke-width="1.15" stroke-dasharray="3.4,2.1,0.8,2.2" stroke-dashoffset="5.2"/>
<rect x="452.9" y="348.5" width="217.3" height="215.5" fill="none" stroke="#2f2f2f" stroke-width="1.3"/>
<line x1="449.6" y1="555.2" x2="452.9" y2="555.2" stroke="#2f2f2f" stroke-width="1.3" />
<text x="447" y="558.9" font-size="10.3" fill="#4d4d4d" text-anchor="end" font-weight="normal" >0</text>
<line x1="449.6" y1="513.2" x2="452.9" y2="513.2" stroke="#2f2f2f" stroke-width="1.3" />
<text x="447" y="516.9" font-size="10.3" fill="#4d4d4d" text-anchor="end" font-weight="normal" >10</text>
<line x1="449.6" y1="471.2" x2="452.9" y2="471.2" stroke="#2f2f2f" stroke-width="1.3" />
<text x="447" y="474.9" font-size="10.3" fill="#4d4d4d" text-anchor="end" font-weight="normal" >20</text>
<line x1="449.6" y1="429.2" x2="452.9" y2="429.2" stroke="#2f2f2f" stroke-width="1.3" />
<text x="447" y="432.9" font-size="10.3" fill="#4d4d4d" text-anchor="end" font-weight="normal" >30</text>
<line x1="449.6" y1="387.2" x2="452.9" y2="387.2" stroke="#2f2f2f" stroke-width="1.3" />
<text x="447" y="390.9" font-size="10.3" fill="#4d4d4d" text-anchor="end" font-weight="normal" >40</text>
<line x1="502.4" y1="564" x2="502.4" y2="566.5" stroke="#2f2f2f" stroke-width="1.3" />
<text x="502.4" y="575.6" font-size="10.1" fill="#4d4d4d" text-anchor="middle" font-weight="normal" >−0.10</text>
<line x1="568" y1="564" x2="568" y2="566.5" stroke="#2f2f2f" stroke-width="1.3" />
<text x="568" y="575.6" font-size="10.1" fill="#4d4d4d" text-anchor="middle" font-weight="normal" >−0.05</text>
<line x1="633.6" y1="564" x2="633.6" y2="566.5" stroke="#2f2f2f" stroke-width="1.3" />
<text x="633.6" y="575.6" font-size="10.1" fill="#4d4d4d" text-anchor="middle" font-weight="normal" >0.00</text>
<text x="561.5" y="596" font-size="12.65" fill="#000" text-anchor="middle" font-weight="bold" >Probability Change</text>
<text transform="translate(429.4,464.2) rotate(-90)" font-size="11.3" fill="#000" text-anchor="middle" font-weight="bold">−log10 (adjusted p-value)</text>
<circle cx="469.4" cy="471.4" r="4.8" fill="#8595d2" />
<circle cx="469.4" cy="490.1" r="4.8" fill="#c9d1da" />
<circle cx="469.4" cy="509" r="4.8" fill="#f39191" />
<text x="480" y="474.9" font-size="11.4" fill="#000" text-anchor="start" font-weight="normal" >Down−regulated</text>
<text x="480" y="493.3" font-size="11.4" fill="#000" text-anchor="start" font-weight="normal" >Not Significant</text>
<text x="480" y="512.2" font-size="11.4" fill="#000" text-anchor="start" font-weight="normal" textLength="63" lengthAdjust="spacingAndGlyphs">Up−regulated</text>
<text x="412.1" y="351.6" font-size="18" fill="#000" text-anchor="start" font-weight="bold" >e</text>
<rect x="46.25" y="793" width="16.1" height="56.6" fill="#a5b3d3" />
<rect x="64.2" y="792.69" width="16.1" height="56.91" fill="#a5b3d3" />
<rect x="82.15" y="654.12" width="16.1" height="195.48" fill="#a5b3d3" />
<rect x="100.1" y="780.01" width="16.1" height="69.59" fill="#c29e9e" />
<rect x="118.05" y="684.74" width="16.1" height="164.86" fill="#c29e9e" />
<rect x="136" y="775.06" width="16.1" height="74.54" fill="#c29e9e" />
<rect x="153.95" y="787.74" width="16.1" height="61.86" fill="#bfd3a8" />
<rect x="171.9" y="668.35" width="16.1" height="181.25" fill="#bfd3a8" />
<rect x="189.85" y="784.03" width="16.1" height="65.57" fill="#bfd3a8" />
<rect x="207.8" y="672.06" width="16.1" height="177.54" fill="#e9d6c8" />
<rect x="225.75" y="777.84" width="16.1" height="71.76" fill="#e9d6c8" />
<rect x="243.7" y="790.52" width="16.1" height="59.08" fill="#e9d6c8" />
<line x1="262.4" y1="644.3" x2="262.4" y2="859.2" stroke="#888" stroke-width="0.8" />
<line x1="44" y1="644.3" x2="262.8" y2="644.3" stroke="#2f2f2f" stroke-width="1.3" />
<line x1="44" y1="643.75" x2="44" y2="859.75" stroke="#2f2f2f" stroke-width="1.3" />
<line x1="43.45" y1="859.2" x2="262.8" y2="859.2" stroke="#2f2f2f" stroke-width="1.3" />
<line x1="41.4" y1="849.6" x2="44" y2="849.6" stroke="#2f2f2f" stroke-width="1.3" />
<text x="40.2" y="853.5" font-size="11.0" fill="#4d4d4d" text-anchor="end" font-weight="normal" >0.0</text>
<line x1="41.4" y1="787.74" x2="44" y2="787.74" stroke="#2f2f2f" stroke-width="1.3" />
<text x="40.2" y="791.64" font-size="11.0" fill="#4d4d4d" text-anchor="end" font-weight="normal" >0.2</text>
<line x1="41.4" y1="725.88" x2="44" y2="725.88" stroke="#2f2f2f" stroke-width="1.3" />
<text x="40.2" y="729.78" font-size="11.0" fill="#4d4d4d" text-anchor="end" font-weight="normal" >0.4</text>
<line x1="41.4" y1="664.02" x2="44" y2="664.02" stroke="#2f2f2f" stroke-width="1.3" />
<text x="40.2" y="667.92" font-size="11.0" fill="#4d4d4d" text-anchor="end" font-weight="normal" >0.6</text>
<line x1="54.3" y1="859.2" x2="54.3" y2="861.8" stroke="#2f2f2f" stroke-width="1.3" />
<text x="54.3" y="873.3" font-size="8.25" fill="#4d4d4d" text-anchor="middle" font-weight="normal" >A&gt;C</text>
<line x1="72.25" y1="859.2" x2="72.25" y2="861.8" stroke="#2f2f2f" stroke-width="1.3" />
<text x="72.25" y="873.3" font-size="8.25" fill="#4d4d4d" text-anchor="middle" font-weight="normal" >A&gt;T</text>
<line x1="90.2" y1="859.2" x2="90.2" y2="861.8" stroke="#2f2f2f" stroke-width="1.3" />
<text x="90.2" y="873.3" font-size="8.25" fill="#4d4d4d" text-anchor="middle" font-weight="normal" >A&gt;G</text>
<line x1="108.15" y1="859.2" x2="108.15" y2="861.8" stroke="#2f2f2f" stroke-width="1.3" />
<text x="108.15" y="873.3" font-size="8.25" fill="#4d4d4d" text-anchor="middle" font-weight="normal" >C&gt;A</text>
<line x1="126.1" y1="859.2" x2="126.1" y2="861.8" stroke="#2f2f2f" stroke-width="1.3" />
<text x="126.1" y="873.3" font-size="8.25" fill="#4d4d4d" text-anchor="middle" font-weight="normal" >C&gt;T</text>
<line x1="144.05" y1="859.2" x2="144.05" y2="861.8" stroke="#2f2f2f" stroke-width="1.3" />
<text x="144.05" y="873.3" font-size="8.25" fill="#4d4d4d" text-anchor="middle" font-weight="normal" >C&gt;G</text>
<line x1="162" y1="859.2" x2="162" y2="861.8" stroke="#2f2f2f" stroke-width="1.3" />
<text x="162" y="873.3" font-size="8.25" fill="#4d4d4d" text-anchor="middle" font-weight="normal" >T&gt;A</text>
<line x1="179.95" y1="859.2" x2="179.95" y2="861.8" stroke="#2f2f2f" stroke-width="1.3" />
<text x="179.95" y="873.3" font-size="8.25" fill="#4d4d4d" text-anchor="middle" font-weight="normal" >T&gt;C</text>
<line x1="197.9" y1="859.2" x2="197.9" y2="861.8" stroke="#2f2f2f" stroke-width="1.3" />
<text x="197.9" y="873.3" font-size="8.25" fill="#4d4d4d" text-anchor="middle" font-weight="normal" >T&gt;G</text>
<line x1="215.85" y1="859.2" x2="215.85" y2="861.8" stroke="#2f2f2f" stroke-width="1.3" />
<text x="215.85" y="873.3" font-size="8.25" fill="#4d4d4d" text-anchor="middle" font-weight="normal" >G&gt;A</text>
<line x1="233.8" y1="859.2" x2="233.8" y2="861.8" stroke="#2f2f2f" stroke-width="1.3" />
<text x="233.8" y="873.3" font-size="8.25" fill="#4d4d4d" text-anchor="middle" font-weight="normal" >G&gt;C</text>
<text x="251.75" y="873.3" font-size="8.25" fill="#4d4d4d" text-anchor="middle" font-weight="normal" >G&gt;T</text>
<line x1="252.2" y1="850.2" x2="252.2" y2="852.6" stroke="#2f2f2f" stroke-width="1.3" />
<text x="152.9" y="887.9" font-size="12.7" fill="#000" text-anchor="middle" font-weight="bold" >Perturbation of Single Base</text>
<text transform="translate(17.4,751.9) rotate(-90)" font-size="11.5" fill="#000" text-anchor="middle" font-weight="bold">Frequency in Down-regulated Perturbation</text>
<text x="1.5" y="637.6" font-size="18" fill="#000" text-anchor="start" font-weight="bold" >f</text>
<line x1="323.6" y1="700" x2="323.6" y2="838.3" stroke="#333" stroke-width="0.9" />
<circle cx="323.6" cy="711.8" r="1.7" fill="#333" />
<circle cx="323.6" cy="714" r="1.7" fill="#333" />
<circle cx="323.6" cy="716" r="1.7" fill="#333" />
<circle cx="323.6" cy="718" r="1.7" fill="#333" />
<circle cx="323.6" cy="720" r="1.7" fill="#333" />
<circle cx="323.6" cy="722" r="1.7" fill="#333" />
<circle cx="323.6" cy="724" r="1.7" fill="#333" />
<circle cx="323.6" cy="726" r="1.7" fill="#333" />
<circle cx="323.6" cy="728.7" r="1.7" fill="#333" />
<circle cx="323.6" cy="733.6" r="1.7" fill="#333" />
<circle cx="323.6" cy="744.9" r="1.7" fill="#333" />
<circle cx="323.6" cy="747" r="1.7" fill="#333" />
<circle cx="323.6" cy="749.5" r="1.7" fill="#333" />
<circle cx="323.6" cy="751.5" r="1.7" fill="#333" />
<circle cx="323.6" cy="753.9" r="1.7" fill="#333" />
<circle cx="323.6" cy="762" r="1.7" fill="#333" />
<circle cx="323.6" cy="768.3" r="1.7" fill="#333" />
<circle cx="323.6" cy="771.9" r="1.7" fill="#333" />
<circle cx="323.6" cy="773.2" r="1.7" fill="#333" />
<circle cx="323.6" cy="774.5" r="1.7" fill="#333" />
<circle cx="323.6" cy="781.7" r="1.7" fill="#333" />
<circle cx="323.6" cy="783.5" r="1.7" fill="#333" />
<circle cx="323.6" cy="785.5" r="1.7" fill="#333" />
<circle cx="323.6" cy="787.2" r="1.7" fill="#333" />
<circle cx="323.6" cy="788.9" r="1.7" fill="#333" />
<circle cx="323.6" cy="797" r="1.7" fill="#333" />
<circle cx="323.6" cy="799" r="1.7" fill="#333" />
<circle cx="323.6" cy="801.5" r="1.7" fill="#333" />
<circle cx="323.6" cy="811.4" r="1.7" fill="#333" />
<circle cx="323.6" cy="813.2" r="1.7" fill="#333" />
<circle cx="323.6" cy="815" r="1.7" fill="#333" />
<circle cx="323.6" cy="819.5" r="1.7" fill="#333" />
<circle cx="323.6" cy="832.9" r="1.7" fill="#333" />
<circle cx="323.6" cy="834.5" r="1.7" fill="#333" />
<circle cx="323.6" cy="836" r="1.7" fill="#333" />
<circle cx="323.6" cy="837.4" r="1.7" fill="#333" />
<path d="M329.1,671.3 L329.54,671.39 L330.16,671.51 L330.88,671.66 L331.66,671.83 L332.42,672.01 L333.1,672.2 L333.71,672.39 L334.29,672.6 L334.85,672.81 L335.41,673.05 L335.99,673.31 L336.6,673.6 L337.29,673.93 L338.06,674.29 L338.85,674.67 L339.58,675.08 L340.19,675.49 L340.6,675.9 L340.81,676.31 L340.86,676.71 L340.79,677.12 L340.62,677.56 L340.38,678.01 L340.1,678.5 L339.75,679.03 L339.3,679.6 L338.79,680.19 L338.23,680.8 L337.66,681.41 L337.1,682 L336.55,682.58 L335.97,683.17 L335.38,683.75 L334.79,684.33 L334.19,684.92 L333.6,685.5 L333.01,686.08 L332.41,686.66 L331.82,687.24 L331.23,687.83 L330.65,688.41 L330.1,689 L329.56,689.6 L329.01,690.2 L328.49,690.81 L327.99,691.41 L327.52,692.01 L327.1,692.6 L326.73,693.18 L326.4,693.74 L326.11,694.3 L325.85,694.86 L325.62,695.42 L325.4,696 L325.2,696.59 L325.03,697.19 L324.88,697.8 L324.75,698.41 L324.66,699.01 L324.6,699.6 L324.59,700.18 L324.62,700.74 L324.69,701.3 L324.77,701.86 L324.84,702.42 L324.9,703 L324.94,703.59 L324.99,704.19 L325.04,704.8 L325.07,705.41 L325.1,706.01 L325.1,706.6 L325.08,707.19 L325.05,707.78 L325,708.37 L324.94,708.94 L324.87,709.49 L324.8,710 L324.71,710.5 L324.6,710.99 L324.48,711.46 L324.37,711.89 L324.27,712.24 L324.2,712.5 L323,712.5 L322.93,712.24 L322.83,711.89 L322.72,711.46 L322.6,710.99 L322.49,710.5 L322.4,710 L322.33,709.49 L322.26,708.94 L322.2,708.37 L322.15,707.78 L322.12,707.19 L322.1,706.6 L322.1,706.01 L322.13,705.41 L322.16,704.8 L322.21,704.19 L322.26,703.59 L322.3,703 L322.36,702.42 L322.43,701.86 L322.51,701.3 L322.58,700.74 L322.61,700.18 L322.6,699.6 L322.54,699.01 L322.45,698.41 L322.33,697.8 L322.17,697.19 L322,696.59 L321.8,696 L321.58,695.42 L321.35,694.86 L321.09,694.3 L320.8,693.74 L320.47,693.18 L320.1,692.6 L319.68,692.01 L319.21,691.41 L318.71,690.81 L318.19,690.2 L317.64,689.6 L317.1,689 L316.55,688.41 L315.97,687.83 L315.38,687.24 L314.79,686.66 L314.19,686.08 L313.6,685.5 L313.01,684.92 L312.41,684.33 L311.82,683.75 L311.23,683.17 L310.65,682.58 L310.1,682 L309.54,681.41 L308.97,680.8 L308.41,680.19 L307.9,679.6 L307.45,679.03 L307.1,678.5 L306.82,678.01 L306.58,677.56 L306.41,677.12 L306.34,676.71 L306.39,676.31 L306.6,675.9 L307.01,675.49 L307.62,675.08 L308.35,674.67 L309.14,674.29 L309.91,673.93 L310.6,673.6 L311.21,673.31 L311.79,673.05 L312.35,672.81 L312.91,672.6 L313.49,672.39 L314.1,672.2 L314.78,672.01 L315.54,671.83 L316.32,671.66 L317.04,671.51 L317.66,671.39 L318.1,671.3Z" fill="#9ecfdf" stroke="#2b2b2b" stroke-width="0.8" stroke-linejoin="round"/>
<rect x="322.6" y="676.8" width="2.0" height="14" fill="#d8d8d8" stroke="#555" stroke-width="0.45"/>
<circle cx="385.6" cy="661" r="1.7" fill="#333" />
<circle cx="385.6" cy="663.38" r="1.7" fill="#333" />
<circle cx="385.6" cy="665.76" r="1.7" fill="#333" />
<circle cx="385.6" cy="668.14" r="1.7" fill="#333" />
<circle cx="385.6" cy="670.52" r="1.7" fill="#333" />
<circle cx="385.6" cy="672.9" r="1.7" fill="#333" />
<circle cx="385.6" cy="675.28" r="1.7" fill="#333" />
<circle cx="385.6" cy="677.66" r="1.7" fill="#333" />
<circle cx="385.6" cy="680.04" r="1.7" fill="#333" />
<circle cx="385.6" cy="682.42" r="1.7" fill="#333" />
<circle cx="385.6" cy="684.8" r="1.7" fill="#333" />
<circle cx="385.6" cy="687.18" r="1.7" fill="#333" />
<circle cx="385.6" cy="689.56" r="1.7" fill="#333" />
<circle cx="385.6" cy="691.94" r="1.7" fill="#333" />
<circle cx="385.6" cy="694.32" r="1.7" fill="#333" />
<circle cx="385.6" cy="696.7" r="1.7" fill="#333" />
<circle cx="385.6" cy="699.08" r="1.7" fill="#333" />
<circle cx="385.6" cy="701.46" r="1.7" fill="#333" />
<circle cx="385.6" cy="703.84" r="1.7" fill="#333" />
<circle cx="385.6" cy="706.22" r="1.7" fill="#333" />
<circle cx="385.6" cy="708.6" r="1.7" fill="#333" />
<circle cx="385.6" cy="710.98" r="1.7" fill="#333" />
<circle cx="385.6" cy="713.36" r="1.7" fill="#333" />
<circle cx="385.6" cy="715.74" r="1.7" fill="#333" />
<circle cx="385.6" cy="718.12" r="1.7" fill="#333" />
<circle cx="385.6" cy="720.5" r="1.7" fill="#333" />
<circle cx="385.6" cy="722.88" r="1.7" fill="#333" />
<circle cx="385.6" cy="725.26" r="1.7" fill="#333" />
<path d="M386.1,673.6 L386.67,673.66 L387.43,673.74 L388.35,673.84 L389.38,673.95 L390.48,674.07 L391.6,674.2 L392.83,674.35 L394.23,674.51 L395.69,674.69 L397.14,674.87 L398.47,675.05 L399.6,675.2 L400.59,675.33 L401.53,675.46 L402.35,675.57 L403.01,675.68 L403.44,675.79 L403.6,675.9 L403.45,676.01 L403.04,676.12 L402.41,676.23 L401.6,676.34 L400.65,676.46 L399.6,676.6 L398.33,676.76 L396.78,676.95 L395.09,677.14 L393.4,677.34 L391.86,677.53 L390.6,677.7 L389.63,677.84 L388.83,677.96 L388.18,678.08 L387.64,678.19 L387.19,678.33 L386.8,678.5 L386.51,678.73 L386.34,679 L386.26,679.3 L386.24,679.59 L386.23,679.83 L386.2,680 L385,680 L384.97,679.83 L384.96,679.59 L384.94,679.3 L384.86,679 L384.69,678.73 L384.4,678.5 L384.01,678.33 L383.56,678.19 L383.03,678.08 L382.37,677.96 L381.57,677.84 L380.6,677.7 L379.34,677.53 L377.8,677.34 L376.11,677.14 L374.42,676.95 L372.87,676.76 L371.6,676.6 L370.55,676.46 L369.6,676.34 L368.79,676.23 L368.16,676.12 L367.75,676.01 L367.6,675.9 L367.76,675.79 L368.19,675.68 L368.85,675.57 L369.67,675.46 L370.61,675.33 L371.6,675.2 L372.73,675.05 L374.06,674.87 L375.51,674.69 L376.97,674.51 L378.37,674.35 L379.6,674.2 L380.73,674.07 L381.82,673.95 L382.85,673.84 L383.77,673.74 L384.53,673.66 L385.1,673.6Z" fill="#9ecfdf" stroke="#2b2b2b" stroke-width="0.8" stroke-linejoin="round"/>
<line x1="301.7" y1="675.7" x2="407.6" y2="675.7" stroke="#000" stroke-width="1.6" stroke-dasharray="5.2,4.2,1.4,4.5" stroke-dashoffset="11.1"/>
<circle cx="323.6" cy="675.8" r="1.6" fill="#222" />
<circle cx="385.6" cy="675.8" r="1.6" fill="#222" />
<line x1="407.6" y1="644.3" x2="407.6" y2="859" stroke="#666" stroke-width="0.8" />
<line x1="301.7" y1="644.3" x2="408" y2="644.3" stroke="#2f2f2f" stroke-width="1.0" />
<line x1="301.7" y1="643.8" x2="301.7" y2="859.5" stroke="#2f2f2f" stroke-width="1.0" />
<line x1="301.2" y1="859" x2="408" y2="859" stroke="#2f2f2f" stroke-width="1.0" />
<line x1="299.7" y1="653.8" x2="301.7" y2="653.8" stroke="#2f2f2f" stroke-width="0.8" />
<text x="299.3" y="656.4" font-size="7.1" fill="#4d4d4d" text-anchor="end" font-weight="normal" >0.1</text>
<line x1="299.7" y1="675.6" x2="301.7" y2="675.6" stroke="#2f2f2f" stroke-width="0.8" />
<text x="299.3" y="678.2" font-size="7.1" fill="#4d4d4d" text-anchor="end" font-weight="normal" >0.0</text>
<line x1="299.7" y1="697.4" x2="301.7" y2="697.4" stroke="#2f2f2f" stroke-width="0.8" />
<text x="299.3" y="700" font-size="7.1" fill="#4d4d4d" text-anchor="end" font-weight="normal" >−0.1</text>
<line x1="299.7" y1="719.2" x2="301.7" y2="719.2" stroke="#2f2f2f" stroke-width="0.8" />
<text x="299.3" y="721.8" font-size="7.1" fill="#4d4d4d" text-anchor="end" font-weight="normal" >−0.2</text>
<line x1="299.7" y1="741" x2="301.7" y2="741" stroke="#2f2f2f" stroke-width="0.8" />
<text x="299.3" y="743.6" font-size="7.1" fill="#4d4d4d" text-anchor="end" font-weight="normal" >−0.3</text>
<line x1="299.7" y1="762.8" x2="301.7" y2="762.8" stroke="#2f2f2f" stroke-width="0.8" />
<text x="299.3" y="765.4" font-size="7.1" fill="#4d4d4d" text-anchor="end" font-weight="normal" >−0.4</text>
<line x1="299.7" y1="784.6" x2="301.7" y2="784.6" stroke="#2f2f2f" stroke-width="0.8" />
<text x="299.3" y="787.2" font-size="7.1" fill="#4d4d4d" text-anchor="end" font-weight="normal" >−0.5</text>
<line x1="299.7" y1="806.4" x2="301.7" y2="806.4" stroke="#2f2f2f" stroke-width="0.8" />
<text x="299.3" y="809" font-size="7.1" fill="#4d4d4d" text-anchor="end" font-weight="normal" >−0.6</text>
<line x1="299.7" y1="828.2" x2="301.7" y2="828.2" stroke="#2f2f2f" stroke-width="0.8" />
<text x="299.3" y="830.8" font-size="7.1" fill="#4d4d4d" text-anchor="end" font-weight="normal" >−0.7</text>
<line x1="299.7" y1="850" x2="301.7" y2="850" stroke="#2f2f2f" stroke-width="0.8" />
<text x="299.3" y="852.6" font-size="7.1" fill="#4d4d4d" text-anchor="end" font-weight="normal" >−0.8</text>
<line x1="323.6" y1="859" x2="323.6" y2="861.4" stroke="#2f2f2f" stroke-width="0.9" />
<line x1="385.6" y1="859" x2="385.6" y2="861.4" stroke="#2f2f2f" stroke-width="0.9" />
<text x="323.1" y="871.2" font-size="8.9" fill="#4d4d4d" text-anchor="middle" font-weight="normal" >5927−5929</text>
<text x="322.8" y="878.8" font-size="8.9" fill="#4d4d4d" text-anchor="middle" font-weight="normal" >ACA/G &gt; GAG</text>
<text x="383.1" y="871.2" font-size="8.9" fill="#4d4d4d" text-anchor="middle" font-weight="normal" >6010−6012</text>
<text x="383.4" y="878.8" font-size="8.9" fill="#4d4d4d" text-anchor="middle" font-weight="normal" >TAG &gt; TAA</text>
<text x="354.9" y="889" font-size="12.5" fill="#000" text-anchor="middle" font-weight="bold" >Perturbation</text>
<text transform="translate(283.3,752.8) rotate(-90)" font-size="11.25" fill="#000" text-anchor="middle" font-weight="bold">Probability Change</text>
<text x="326.6" y="657.5" font-size="10.0" fill="#000" text-anchor="middle" font-weight="normal" >2.58e-46</text>
<text x="384.8" y="657.5" font-size="10.0" fill="#000" text-anchor="middle" font-weight="normal" >1.89e-50</text>
<text x="268.3" y="637.3" font-size="18" fill="#000" text-anchor="start" font-weight="bold" >g</text>
<line x1="482.93" y1="643.8" x2="482.93" y2="858.8" stroke="#f0f0f0" stroke-width="0.6" />
<line x1="536.38" y1="643.8" x2="536.38" y2="858.8" stroke="#f0f0f0" stroke-width="0.6" />
<line x1="589.83" y1="643.8" x2="589.83" y2="858.8" stroke="#f0f0f0" stroke-width="0.6" />
<line x1="643.27" y1="643.8" x2="643.27" y2="858.8" stroke="#f0f0f0" stroke-width="0.6" />
<line x1="452.2" y1="651.3" x2="669" y2="651.3" stroke="#f0f0f0" stroke-width="0.6" />
<line x1="452.2" y1="698.5" x2="669" y2="698.5" stroke="#f0f0f0" stroke-width="0.6" />
<line x1="452.2" y1="745.7" x2="669" y2="745.7" stroke="#f0f0f0" stroke-width="0.6" />
<line x1="452.2" y1="792.9" x2="669" y2="792.9" stroke="#f0f0f0" stroke-width="0.6" />
<line x1="452.2" y1="840.1" x2="669" y2="840.1" stroke="#f0f0f0" stroke-width="0.6" />
<line x1="456.2" y1="643.8" x2="456.2" y2="858.8" stroke="#e3e3e3" stroke-width="1.0" />
<line x1="509.65" y1="643.8" x2="509.65" y2="858.8" stroke="#e3e3e3" stroke-width="1.0" />
<line x1="563.1" y1="643.8" x2="563.1" y2="858.8" stroke="#e3e3e3" stroke-width="1.0" />
<line x1="616.55" y1="643.8" x2="616.55" y2="858.8" stroke="#e3e3e3" stroke-width="1.0" />
<line x1="670" y1="643.8" x2="670" y2="858.8" stroke="#e3e3e3" stroke-width="1.0" />
<line x1="452.2" y1="674.9" x2="669" y2="674.9" stroke="#e3e3e3" stroke-width="1.0" />
<line x1="452.2" y1="722.1" x2="669" y2="722.1" stroke="#e3e3e3" stroke-width="1.0" />
<line x1="452.2" y1="769.3" x2="669" y2="769.3" stroke="#e3e3e3" stroke-width="1.0" />
<line x1="452.2" y1="816.5" x2="669" y2="816.5" stroke="#e3e3e3" stroke-width="1.0" />
<circle cx="461.9" cy="677.7" r="3.1" fill="#5069bb" fill-opacity="0.42"/>
<circle cx="461.9" cy="680.5" r="3.1" fill="#5069bb" fill-opacity="0.42"/>
<circle cx="461.9" cy="683.3" r="3.1" fill="#5069bb" fill-opacity="0.42"/>
<circle cx="461.9" cy="686.1" r="3.1" fill="#5069bb" fill-opacity="0.42"/>
<circle cx="461.9" cy="688.9" r="3.1" fill="#5069bb" fill-opacity="0.42"/>
<circle cx="461.9" cy="691.7" r="3.1" fill="#5069bb" fill-opacity="0.42"/>
<circle cx="461.9" cy="694.5" r="3.1" fill="#5069bb" fill-opacity="0.42"/>
<circle cx="461.9" cy="697.3" r="3.1" fill="#5069bb" fill-opacity="0.42"/>
<circle cx="461.9" cy="700.1" r="3.1" fill="#5069bb" fill-opacity="0.42"/>
<circle cx="461.9" cy="702.5" r="3.1" fill="#5069bb" fill-opacity="0.42"/>
<circle cx="461.9" cy="704.5" r="3.1" fill="#5069bb" fill-opacity="0.42"/>
<circle cx="461.9" cy="707.2" r="3.1" fill="#5069bb" fill-opacity="0.42"/>
<circle cx="461.9" cy="709.8" r="3.1" fill="#5069bb" fill-opacity="0.42"/>
<circle cx="461.9" cy="712" r="3.1" fill="#5069bb" fill-opacity="0.42"/>
<circle cx="461.9" cy="721.5" r="3.1" fill="#5069bb" fill-opacity="0.42"/>
<circle cx="461.9" cy="769.6" r="3.1" fill="#5069bb" fill-opacity="0.42"/>
<circle cx="461.9" cy="850.4" r="3.1" fill="#5069bb" fill-opacity="0.42"/>
<circle cx="467.8" cy="677.7" r="3.1" fill="#5069bb" fill-opacity="0.42"/>
<circle cx="467.8" cy="680.5" r="3.1" fill="#5069bb" fill-opacity="0.42"/>
<circle cx="467.8" cy="683.3" r="3.1" fill="#5069bb" fill-opacity="0.42"/>
<circle cx="467.8" cy="686.1" r="3.1" fill="#5069bb" fill-opacity="0.42"/>
<circle cx="467.8" cy="688.9" r="3.1" fill="#5069bb" fill-opacity="0.42"/>
<circle cx="467.8" cy="691.7" r="3.1" fill="#5069bb" fill-opacity="0.42"/>
<circle cx="467.8" cy="694.5" r="3.1" fill="#5069bb" fill-opacity="0.42"/>
<circle cx="467.8" cy="697.3" r="3.1" fill="#5069bb" fill-opacity="0.42"/>
<circle cx="467.8" cy="700.1" r="3.1" fill="#5069bb" fill-opacity="0.42"/>
<circle cx="467.8" cy="701.8" r="3.1" fill="#5069bb" fill-opacity="0.42"/>
<circle cx="467.8" cy="704.5" r="3.1" fill="#5069bb" fill-opacity="0.42"/>
<circle cx="467.8" cy="707.2" r="3.1" fill="#5069bb" fill-opacity="0.42"/>
<circle cx="467.8" cy="717.6" r="3.1" fill="#5069bb" fill-opacity="0.42"/>
<circle cx="467.8" cy="734.6" r="3.1" fill="#5069bb" fill-opacity="0.42"/>
<circle cx="467.8" cy="818.1" r="3.1" fill="#5069bb" fill-opacity="0.42"/>
<circle cx="473.5" cy="677.7" r="3.1" fill="#5069bb" fill-opacity="0.42"/>
<circle cx="473.5" cy="685.9" r="3.1" fill="#5069bb" fill-opacity="0.42"/>
<circle cx="473.5" cy="695.6" r="3.1" fill="#5069bb" fill-opacity="0.42"/>
<circle cx="473.5" cy="713.1" r="3.1" fill="#5069bb" fill-opacity="0.42"/>
<circle cx="473.5" cy="723.9" r="3.1" fill="#5069bb" fill-opacity="0.42"/>
<circle cx="473.5" cy="749.9" r="3.1" fill="#5069bb" fill-opacity="0.42"/>
<circle cx="473.5" cy="784.7" r="3.1" fill="#5069bb" fill-opacity="0.42"/>
<circle cx="479.4" cy="679.7" r="3.1" fill="#5069bb" fill-opacity="0.42"/>
<circle cx="479.4" cy="684.9" r="3.1" fill="#5069bb" fill-opacity="0.42"/>
<circle cx="479.4" cy="689" r="3.1" fill="#5069bb" fill-opacity="0.42"/>
<circle cx="479.4" cy="703.2" r="3.1" fill="#5069bb" fill-opacity="0.42"/>
<circle cx="485.2" cy="680.8" r="3.1" fill="#5069bb" fill-opacity="0.42"/>
<circle cx="485.2" cy="763.7" r="3.1" fill="#5069bb" fill-opacity="0.42"/>
<circle cx="497" cy="689" r="3.1" fill="#5069bb" fill-opacity="0.42"/>
<circle cx="491.1" cy="841.4" r="3.1" fill="#5069bb" fill-opacity="0.42"/>
<circle cx="514.8" cy="677.7" r="3.1" fill="#5069bb" fill-opacity="0.42"/>
<circle cx="514.8" cy="679.9" r="3.1" fill="#5069bb" fill-opacity="0.42"/>
<circle cx="461.9" cy="681" r="3.1" fill="#5069bb" fill-opacity="0.42"/>
<circle cx="461.9" cy="684" r="3.1" fill="#5069bb" fill-opacity="0.42"/>
<circle cx="461.9" cy="687" r="3.1" fill="#5069bb" fill-opacity="0.42"/>
<circle cx="461.9" cy="690" r="3.1" fill="#5069bb" fill-opacity="0.42"/>
<circle cx="461.9" cy="693" r="3.1" fill="#5069bb" fill-opacity="0.42"/>
<circle cx="461.9" cy="696" r="3.1" fill="#5069bb" fill-opacity="0.42"/>
<circle cx="461.9" cy="705" r="3.1" fill="#5069bb" fill-opacity="0.42"/>
<circle cx="461.9" cy="707" r="3.1" fill="#5069bb" fill-opacity="0.42"/>
<circle cx="461.9" cy="709" r="3.1" fill="#5069bb" fill-opacity="0.42"/>
<circle cx="467.8" cy="682" r="3.1" fill="#5069bb" fill-opacity="0.42"/>
<circle cx="467.8" cy="685" r="3.1" fill="#5069bb" fill-opacity="0.42"/>
<circle cx="467.8" cy="688" r="3.1" fill="#5069bb" fill-opacity="0.42"/>
<circle cx="467.8" cy="691" r="3.1" fill="#5069bb" fill-opacity="0.42"/>
<circle cx="467.8" cy="694" r="3.1" fill="#5069bb" fill-opacity="0.42"/>
<circle cx="467.8" cy="703" r="3.1" fill="#5069bb" fill-opacity="0.42"/>
<circle cx="461.9" cy="654" r="3.1" fill="#f26b6b" fill-opacity="0.5"/>
<circle cx="461.9" cy="668" r="3.1" fill="#f26b6b" fill-opacity="0.5"/>
<circle cx="467.8" cy="669" r="3.1" fill="#f26b6b" fill-opacity="0.5"/>
<circle cx="461.9" cy="670.5" r="3.1" fill="#f26b6b" fill-opacity="0.5"/>
<circle cx="467.8" cy="671.3" r="3.1" fill="#f26b6b" fill-opacity="0.5"/>
<circle cx="602.2" cy="668.6" r="3.1" fill="#f26b6b" fill-opacity="0.5"/>
<circle cx="608.5" cy="670.5" r="3.1" fill="#f26b6b" fill-opacity="0.5"/>
<circle cx="625.9" cy="669.2" r="3.1" fill="#f26b6b" fill-opacity="0.5"/>
<circle cx="631.8" cy="671.1" r="3.1" fill="#f26b6b" fill-opacity="0.5"/>
<circle cx="637.7" cy="668.6" r="3.1" fill="#f26b6b" fill-opacity="0.5"/>
<circle cx="461.9" cy="672.6" r="3.1" fill="#bdbdbd" fill-opacity="0.55"/>
<circle cx="461.9" cy="675.7" r="3.1" fill="#bdbdbd" fill-opacity="0.55"/>
<circle cx="467.8" cy="673.6" r="3.1" fill="#bdbdbd" fill-opacity="0.55"/>
<circle cx="467.8" cy="675.5" r="3.1" fill="#bdbdbd" fill-opacity="0.55"/>
<circle cx="473.7" cy="674.1" r="3.1" fill="#bdbdbd" fill-opacity="0.55"/>
<circle cx="479.4" cy="675.1" r="3.1" fill="#bdbdbd" fill-opacity="0.55"/>
<circle cx="485.2" cy="674.1" r="3.1" fill="#bdbdbd" fill-opacity="0.55"/>
<circle cx="485.2" cy="672.5" r="3.1" fill="#bdbdbd" fill-opacity="0.55"/>
<circle cx="514.8" cy="673.6" r="3.1" fill="#bdbdbd" fill-opacity="0.55"/>
<circle cx="485.2" cy="695.6" r="3.1" fill="#bdbdbd" fill-opacity="0.55"/>
<circle cx="567.3" cy="675.1" r="3.1" fill="#bdbdbd" fill-opacity="0.55"/>
<circle cx="620" cy="673.9" r="3.1" fill="#bdbdbd" fill-opacity="0.55"/>
<circle cx="632.8" cy="675.5" r="3.1" fill="#bdbdbd" fill-opacity="0.55"/>
<circle cx="643.6" cy="675.1" r="3.1" fill="#bdbdbd" fill-opacity="0.55"/>
<circle cx="661.4" cy="672.5" r="3.1" fill="#bdbdbd" fill-opacity="0.55"/>
<circle cx="637.7" cy="675" r="3.1" fill="#bdbdbd" fill-opacity="0.55"/>
<line x1="608.1" y1="657.3" x2="623.9" y2="667.2" stroke="#2a2a2a" stroke-width="0.95" />
<line x1="646.2" y1="654.8" x2="638.7" y2="666.6" stroke="#2a2a2a" stroke-width="0.95" />
<line x1="586.5" y1="683.8" x2="600.3" y2="670.5" stroke="#2a2a2a" stroke-width="0.95" />
<line x1="629.4" y1="683.8" x2="630.8" y2="673.5" stroke="#2a2a2a" stroke-width="0.95" />
<line x1="601.6" y1="703" x2="608.5" y2="671.9" stroke="#2a2a2a" stroke-width="0.95" />
<line x1="655.4" y1="702.7" x2="661.4" y2="675.1" stroke="#2a2a2a" stroke-width="0.95" />
<text x="571.3" y="656.8" font-size="10.0" fill="#e8353b" text-anchor="start" font-weight="normal" >5536 C&gt;G</text>
<text x="622.9" y="656.8" font-size="10.0" fill="#e8353b" text-anchor="start" font-weight="normal" >5533 G&gt;T</text>
<text x="563.8" y="692.2" font-size="10.0" fill="#e8353b" text-anchor="start" font-weight="normal" >706 C&gt;T</text>
<text x="607.2" y="692.2" font-size="10.0" fill="#e8353b" text-anchor="start" font-weight="normal" >5389 T&gt;C</text>
<text x="575.6" y="711.9" font-size="10.0" fill="#e8353b" text-anchor="start" font-weight="normal" >3952 T&gt;C</text>
<text x="622.9" y="711.9" font-size="10.0" fill="#555" text-anchor="start" font-weight="normal" >5929 G&gt;A</text>
<rect x="452.2" y="643.8" width="216.8" height="215" fill="none" stroke="#2f2f2f" stroke-width="1.3"/>
<line x1="450" y1="674.9" x2="452.2" y2="674.9" stroke="#2f2f2f" stroke-width="1.3" />
<text x="449.8" y="677.6" font-size="7.6" fill="#4d4d4d" text-anchor="end" font-weight="normal" >0.000</text>
<line x1="450" y1="722.1" x2="452.2" y2="722.1" stroke="#2f2f2f" stroke-width="1.3" />
<text x="449.8" y="724.8" font-size="7.6" fill="#4d4d4d" text-anchor="end" font-weight="normal" >0.025</text>
<line x1="450" y1="769.3" x2="452.2" y2="769.3" stroke="#2f2f2f" stroke-width="1.3" />
<text x="449.8" y="772" font-size="7.6" fill="#4d4d4d" text-anchor="end" font-weight="normal" >0.050</text>
<line x1="450" y1="816.5" x2="452.2" y2="816.5" stroke="#2f2f2f" stroke-width="1.3" />
<text x="449.8" y="819.2" font-size="7.6" fill="#4d4d4d" text-anchor="end" font-weight="normal" >0.075</text>
<line x1="456.2" y1="858.8" x2="456.2" y2="861" stroke="#2f2f2f" stroke-width="1.3" />
<text x="456.2" y="872.2" font-size="8.5" fill="#4d4d4d" text-anchor="middle" font-weight="normal" >0.00</text>
<line x1="509.65" y1="858.8" x2="509.65" y2="861" stroke="#2f2f2f" stroke-width="1.3" />
<text x="509.65" y="872.2" font-size="8.5" fill="#4d4d4d" text-anchor="middle" font-weight="normal" >0.25</text>
<line x1="563.1" y1="858.8" x2="563.1" y2="861" stroke="#2f2f2f" stroke-width="1.3" />
<text x="563.1" y="872.2" font-size="8.5" fill="#4d4d4d" text-anchor="middle" font-weight="normal" >0.50</text>
<line x1="616.55" y1="858.8" x2="616.55" y2="861" stroke="#2f2f2f" stroke-width="1.3" />
<text x="616.55" y="872.2" font-size="8.5" fill="#4d4d4d" text-anchor="middle" font-weight="normal" >0.75</text>
<line x1="670" y1="858.8" x2="670" y2="861" stroke="#2f2f2f" stroke-width="1.3" />
<text x="667" y="872.2" font-size="8.5" fill="#4d4d4d" text-anchor="middle" font-weight="normal" >1.00</text>
<text x="560.6" y="887.7" font-size="12.65" fill="#000" text-anchor="middle" font-weight="bold" >Mutations Frequency Shared in Hot L1s</text>
<text transform="translate(428.6,752.5) rotate(-90)" font-size="11.4" fill="#000" text-anchor="middle" font-weight="bold">Probability Change After Perturbation</text>
<circle cx="567.3" cy="775.1" r="4.5" fill="#8796d0" />
<circle cx="567.3" cy="792.7" r="4.5" fill="#cfd6de" />
<circle cx="567.3" cy="810.4" r="4.5" fill="#f4a6a6" />
<text x="577.7" y="778" font-size="11.3" fill="#000" text-anchor="start" font-weight="normal" >Down−regulated</text>
<text x="577.7" y="796.1" font-size="11.3" fill="#000" text-anchor="start" font-weight="normal" >Not Significant</text>
<text x="577.7" y="813.7" font-size="11.3" fill="#000" text-anchor="start" font-weight="normal" textLength="62.6" lengthAdjust="spacingAndGlyphs">Up−regulated</text>
<text x="412.9" y="637.7" font-size="18" fill="#000" text-anchor="start" font-weight="bold" >h</text>
</svg></body></html>
